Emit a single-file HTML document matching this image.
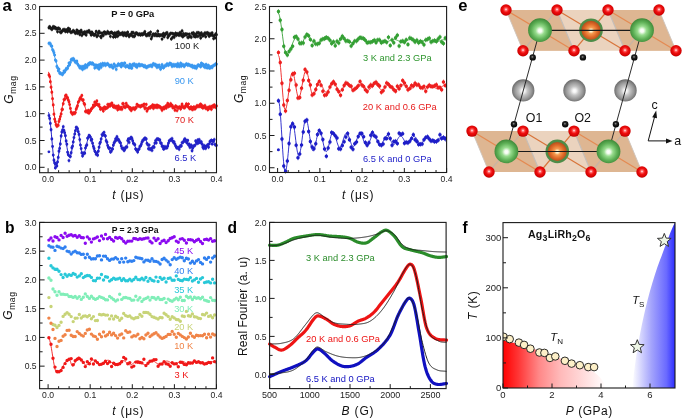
<!DOCTYPE html>
<html><head><meta charset="utf-8"><style>
html,body{margin:0;padding:0;background:#fff;}
svg{display:block;will-change:transform;}
text{font-family:'Liberation Sans',sans-serif;}
</style></head><body>
<svg width="685" height="418" viewBox="0 0 685 418" style="font-family:'Liberation Sans',sans-serif">
<rect width="685" height="418" fill="#fff"/>
<defs><radialGradient id="sO" cx="0.5" cy="0.45" r="0.58"><stop offset="0" stop-color="#ffffff"/><stop offset="0.2" stop-color="#ff6060"/><stop offset="0.45" stop-color="#f01010"/><stop offset="0.85" stop-color="#d00000"/><stop offset="1" stop-color="#980000"/></radialGradient><radialGradient id="sG" cx="0.5" cy="0.52" r="0.52"><stop offset="0" stop-color="#ffffff"/><stop offset="0.14" stop-color="#f4fcf0"/><stop offset="0.36" stop-color="#98dc8e"/><stop offset="0.7" stop-color="#5eb056"/><stop offset="1" stop-color="#3e8838"/></radialGradient><radialGradient id="sR" cx="0.5" cy="0.52" r="0.52"><stop offset="0" stop-color="#ffffff"/><stop offset="0.12" stop-color="#fff2c8"/><stop offset="0.32" stop-color="#f59a50"/><stop offset="0.65" stop-color="#e06c2a"/><stop offset="1" stop-color="#b44c1a"/></radialGradient><radialGradient id="sA" cx="0.5" cy="0.52" r="0.52"><stop offset="0" stop-color="#ffffff"/><stop offset="0.14" stop-color="#f6f6f6"/><stop offset="0.38" stop-color="#c4c4c4"/><stop offset="0.72" stop-color="#979797"/><stop offset="1" stop-color="#686868"/></radialGradient><radialGradient id="sK" cx="0.45" cy="0.42" r="0.6"><stop offset="0" stop-color="#999"/><stop offset="0.35" stop-color="#222"/><stop offset="1" stop-color="#000"/></radialGradient></defs>
<polygon points="506,10 659,10 676,50.7 523,50.7" fill="#ebd3be"/>
<polygon points="506,10 557,10 574,50.7 523,50.7" fill="#deb692"/>
<polygon points="608,10 659,10 676,50.7 625,50.7" fill="#deb692"/>
<line x1="557" y1="10" x2="574" y2="50.7" stroke="#c4beba" stroke-width="1.1"/>
<line x1="608" y1="10" x2="625" y2="50.7" stroke="#c4beba" stroke-width="1.1"/>
<line x1="506" y1="10" x2="574" y2="50.7" stroke="#e48a52" stroke-width="1.2"/>
<line x1="557" y1="10" x2="523" y2="50.7" stroke="#c8b4a4" stroke-width="1.2"/>
<line x1="557" y1="10" x2="625" y2="50.7" stroke="#d8743a" stroke-width="1.2"/>
<line x1="608" y1="10" x2="574" y2="50.7" stroke="#d8743a" stroke-width="1.2"/>
<line x1="608" y1="10" x2="676" y2="50.7" stroke="#e48a52" stroke-width="1.2"/>
<line x1="659" y1="10" x2="625" y2="50.7" stroke="#c8b4a4" stroke-width="1.2"/>
<line x1="506" y1="10" x2="523" y2="50.7" stroke="#cfc6bf" stroke-width="0.9"/>
<line x1="659" y1="10" x2="676" y2="50.7" stroke="#cfc6bf" stroke-width="0.9"/>
<polygon points="472,131.1 625,131.1 642,172 489,172" fill="#ebd3be"/>
<polygon points="472,131.1 523,131.1 540,172 489,172" fill="#deb692"/>
<polygon points="574,131.1 625,131.1 642,172 591,172" fill="#deb692"/>
<line x1="523" y1="131.1" x2="540" y2="172" stroke="#c4beba" stroke-width="1.1"/>
<line x1="574" y1="131.1" x2="591" y2="172" stroke="#c4beba" stroke-width="1.1"/>
<line x1="472" y1="131.1" x2="540" y2="172" stroke="#e48a52" stroke-width="1.2"/>
<line x1="523" y1="131.1" x2="489" y2="172" stroke="#c8b4a4" stroke-width="1.2"/>
<line x1="523" y1="131.1" x2="591" y2="172" stroke="#d8743a" stroke-width="1.2"/>
<line x1="574" y1="131.1" x2="540" y2="172" stroke="#d8743a" stroke-width="1.2"/>
<line x1="574" y1="131.1" x2="642" y2="172" stroke="#e48a52" stroke-width="1.2"/>
<line x1="625" y1="131.1" x2="591" y2="172" stroke="#c8b4a4" stroke-width="1.2"/>
<line x1="472" y1="131.1" x2="489" y2="172" stroke="#cfc6bf" stroke-width="0.9"/>
<line x1="625" y1="131.1" x2="642" y2="172" stroke="#cfc6bf" stroke-width="0.9"/>
<circle cx="591" cy="30.2" r="11.8" fill="#4e8c48"/>
<circle cx="591" cy="30.2" r="9.5" fill="url(#sR)"/>
<circle cx="557.3" cy="151.4" r="11.8" fill="#4e8c48"/>
<circle cx="557.3" cy="151.4" r="9.5" fill="url(#sR)"/>
<line x1="540" y1="30.4" x2="642" y2="30.4" stroke="#1a1a1a" stroke-width="1.2"/>
<line x1="506.4" y1="151.5" x2="608.5" y2="151.5" stroke="#1a1a1a" stroke-width="1.2"/>
<circle cx="523.2" cy="90.4" r="11.2" fill="url(#sA)"/>
<circle cx="574.5" cy="90.4" r="11.2" fill="url(#sA)"/>
<circle cx="625.5" cy="90.4" r="11.2" fill="url(#sA)"/>
<line x1="540" y1="30.2" x2="506.4" y2="151.4" stroke="#222" stroke-width="0.95"/>
<line x1="642" y1="30.2" x2="608.5" y2="151.4" stroke="#222" stroke-width="0.95"/>
<circle cx="532.7" cy="57.4" r="3.2" fill="url(#sK)"/>
<circle cx="582.9" cy="57.4" r="3.2" fill="url(#sK)"/>
<circle cx="634.3" cy="57.4" r="3.2" fill="url(#sK)"/>
<circle cx="514" cy="124.2" r="3.2" fill="url(#sK)"/>
<circle cx="565.2" cy="124.2" r="3.2" fill="url(#sK)"/>
<circle cx="615.9" cy="124.2" r="3.2" fill="url(#sK)"/>
<circle cx="540" cy="30.2" r="11.9" fill="url(#sG)"/>
<circle cx="642" cy="30.2" r="11.9" fill="url(#sG)"/>
<circle cx="506.4" cy="151.4" r="11.9" fill="url(#sG)"/>
<circle cx="608.5" cy="151.4" r="11.9" fill="url(#sG)"/>
<circle cx="506" cy="10" r="5.7" fill="url(#sO)"/>
<circle cx="557" cy="10" r="5.7" fill="url(#sO)"/>
<circle cx="608" cy="10" r="5.7" fill="url(#sO)"/>
<circle cx="659" cy="10" r="5.7" fill="url(#sO)"/>
<circle cx="523" cy="50.7" r="5.7" fill="url(#sO)"/>
<circle cx="574" cy="50.7" r="5.7" fill="url(#sO)"/>
<circle cx="625" cy="50.7" r="5.7" fill="url(#sO)"/>
<circle cx="676" cy="50.7" r="5.7" fill="url(#sO)"/>
<circle cx="472" cy="131.1" r="5.7" fill="url(#sO)"/>
<circle cx="523" cy="131.1" r="5.7" fill="url(#sO)"/>
<circle cx="574" cy="131.1" r="5.7" fill="url(#sO)"/>
<circle cx="625" cy="131.1" r="5.7" fill="url(#sO)"/>
<circle cx="489" cy="172" r="5.7" fill="url(#sO)"/>
<circle cx="540" cy="172" r="5.7" fill="url(#sO)"/>
<circle cx="591" cy="172" r="5.7" fill="url(#sO)"/>
<circle cx="642" cy="172" r="5.7" fill="url(#sO)"/>
<text x="525.8" y="121.8" font-size="12.4" fill="#111">O1</text>
<text x="574.4" y="121.8" font-size="12.4" fill="#111">O2</text>
<line x1="648.2" y1="140.9" x2="654.8" y2="116" stroke="#111" stroke-width="1"/>
<polygon points="656.2,110.5 652.2,117.2 657,118.3" fill="#111"/>
<line x1="648.2" y1="140.9" x2="667" y2="140.9" stroke="#111" stroke-width="1"/>
<polygon points="672.5,140.9 666,138.4 666,143.4" fill="#111"/>
<text x="654.6" y="108.5" font-size="12.4" text-anchor="middle" fill="#111">c</text>
<text x="677.6" y="145" font-size="12.4" text-anchor="middle" fill="#111">a</text>
<text x="458.3" y="10.7" font-size="16.6" font-weight="bold" fill="#000">e</text>
<path d="M47.5,27.7a1.45,1.45 0 1,0 2.9,0a1.45,1.45 0 1,0 -2.9,0M48.2,26.8a1.45,1.45 0 1,0 2.9,0a1.45,1.45 0 1,0 -2.9,0M48.9,28.0a1.45,1.45 0 1,0 2.9,0a1.45,1.45 0 1,0 -2.9,0M49.6,28.3a1.45,1.45 0 1,0 2.9,0a1.45,1.45 0 1,0 -2.9,0M50.4,29.4a1.45,1.45 0 1,0 2.9,0a1.45,1.45 0 1,0 -2.9,0M51.1,28.5a1.45,1.45 0 1,0 2.9,0a1.45,1.45 0 1,0 -2.9,0M51.8,26.7a1.45,1.45 0 1,0 2.9,0a1.45,1.45 0 1,0 -2.9,0M52.5,27.9a1.45,1.45 0 1,0 2.9,0a1.45,1.45 0 1,0 -2.9,0M53.2,27.1a1.45,1.45 0 1,0 2.9,0a1.45,1.45 0 1,0 -2.9,0M53.9,28.4a1.45,1.45 0 1,0 2.9,0a1.45,1.45 0 1,0 -2.9,0M54.6,28.3a1.45,1.45 0 1,0 2.9,0a1.45,1.45 0 1,0 -2.9,0M55.4,28.8a1.45,1.45 0 1,0 2.9,0a1.45,1.45 0 1,0 -2.9,0M56.1,31.7a1.45,1.45 0 1,0 2.9,0a1.45,1.45 0 1,0 -2.9,0M56.8,28.1a1.45,1.45 0 1,0 2.9,0a1.45,1.45 0 1,0 -2.9,0M57.5,28.7a1.45,1.45 0 1,0 2.9,0a1.45,1.45 0 1,0 -2.9,0M58.2,28.9a1.45,1.45 0 1,0 2.9,0a1.45,1.45 0 1,0 -2.9,0M58.9,32.3a1.45,1.45 0 1,0 2.9,0a1.45,1.45 0 1,0 -2.9,0M59.7,32.5a1.45,1.45 0 1,0 2.9,0a1.45,1.45 0 1,0 -2.9,0M60.4,31.3a1.45,1.45 0 1,0 2.9,0a1.45,1.45 0 1,0 -2.9,0M61.1,30.8a1.45,1.45 0 1,0 2.9,0a1.45,1.45 0 1,0 -2.9,0M61.8,29.7a1.45,1.45 0 1,0 2.9,0a1.45,1.45 0 1,0 -2.9,0M62.5,30.4a1.45,1.45 0 1,0 2.9,0a1.45,1.45 0 1,0 -2.9,0M63.2,29.6a1.45,1.45 0 1,0 2.9,0a1.45,1.45 0 1,0 -2.9,0M64.0,31.5a1.45,1.45 0 1,0 2.9,0a1.45,1.45 0 1,0 -2.9,0M64.7,30.2a1.45,1.45 0 1,0 2.9,0a1.45,1.45 0 1,0 -2.9,0M65.4,30.1a1.45,1.45 0 1,0 2.9,0a1.45,1.45 0 1,0 -2.9,0M66.1,31.8a1.45,1.45 0 1,0 2.9,0a1.45,1.45 0 1,0 -2.9,0M66.8,28.4a1.45,1.45 0 1,0 2.9,0a1.45,1.45 0 1,0 -2.9,0M67.5,30.2a1.45,1.45 0 1,0 2.9,0a1.45,1.45 0 1,0 -2.9,0M68.2,29.3a1.45,1.45 0 1,0 2.9,0a1.45,1.45 0 1,0 -2.9,0M69.0,32.1a1.45,1.45 0 1,0 2.9,0a1.45,1.45 0 1,0 -2.9,0M69.7,32.4a1.45,1.45 0 1,0 2.9,0a1.45,1.45 0 1,0 -2.9,0M70.4,31.9a1.45,1.45 0 1,0 2.9,0a1.45,1.45 0 1,0 -2.9,0M71.1,31.6a1.45,1.45 0 1,0 2.9,0a1.45,1.45 0 1,0 -2.9,0M71.8,30.6a1.45,1.45 0 1,0 2.9,0a1.45,1.45 0 1,0 -2.9,0M72.5,31.3a1.45,1.45 0 1,0 2.9,0a1.45,1.45 0 1,0 -2.9,0M73.3,32.4a1.45,1.45 0 1,0 2.9,0a1.45,1.45 0 1,0 -2.9,0M74.0,33.2a1.45,1.45 0 1,0 2.9,0a1.45,1.45 0 1,0 -2.9,0M74.7,32.6a1.45,1.45 0 1,0 2.9,0a1.45,1.45 0 1,0 -2.9,0M75.4,30.1a1.45,1.45 0 1,0 2.9,0a1.45,1.45 0 1,0 -2.9,0M76.1,33.2a1.45,1.45 0 1,0 2.9,0a1.45,1.45 0 1,0 -2.9,0M76.8,31.7a1.45,1.45 0 1,0 2.9,0a1.45,1.45 0 1,0 -2.9,0M77.6,31.5a1.45,1.45 0 1,0 2.9,0a1.45,1.45 0 1,0 -2.9,0M78.3,34.5a1.45,1.45 0 1,0 2.9,0a1.45,1.45 0 1,0 -2.9,0M79.0,32.2a1.45,1.45 0 1,0 2.9,0a1.45,1.45 0 1,0 -2.9,0M79.7,30.4a1.45,1.45 0 1,0 2.9,0a1.45,1.45 0 1,0 -2.9,0M80.4,35.4a1.45,1.45 0 1,0 2.9,0a1.45,1.45 0 1,0 -2.9,0M81.1,33.0a1.45,1.45 0 1,0 2.9,0a1.45,1.45 0 1,0 -2.9,0M81.8,32.7a1.45,1.45 0 1,0 2.9,0a1.45,1.45 0 1,0 -2.9,0M82.6,33.8a1.45,1.45 0 1,0 2.9,0a1.45,1.45 0 1,0 -2.9,0M83.3,31.9a1.45,1.45 0 1,0 2.9,0a1.45,1.45 0 1,0 -2.9,0M84.0,32.8a1.45,1.45 0 1,0 2.9,0a1.45,1.45 0 1,0 -2.9,0M84.7,35.0a1.45,1.45 0 1,0 2.9,0a1.45,1.45 0 1,0 -2.9,0M85.4,31.6a1.45,1.45 0 1,0 2.9,0a1.45,1.45 0 1,0 -2.9,0M86.1,31.9a1.45,1.45 0 1,0 2.9,0a1.45,1.45 0 1,0 -2.9,0M86.9,31.5a1.45,1.45 0 1,0 2.9,0a1.45,1.45 0 1,0 -2.9,0M87.6,30.8a1.45,1.45 0 1,0 2.9,0a1.45,1.45 0 1,0 -2.9,0M88.3,32.5a1.45,1.45 0 1,0 2.9,0a1.45,1.45 0 1,0 -2.9,0M89.0,32.9a1.45,1.45 0 1,0 2.9,0a1.45,1.45 0 1,0 -2.9,0M89.7,35.1a1.45,1.45 0 1,0 2.9,0a1.45,1.45 0 1,0 -2.9,0M90.4,32.2a1.45,1.45 0 1,0 2.9,0a1.45,1.45 0 1,0 -2.9,0M91.1,34.1a1.45,1.45 0 1,0 2.9,0a1.45,1.45 0 1,0 -2.9,0M91.9,33.9a1.45,1.45 0 1,0 2.9,0a1.45,1.45 0 1,0 -2.9,0M92.6,35.2a1.45,1.45 0 1,0 2.9,0a1.45,1.45 0 1,0 -2.9,0M93.3,34.8a1.45,1.45 0 1,0 2.9,0a1.45,1.45 0 1,0 -2.9,0M94.0,34.2a1.45,1.45 0 1,0 2.9,0a1.45,1.45 0 1,0 -2.9,0M94.7,31.5a1.45,1.45 0 1,0 2.9,0a1.45,1.45 0 1,0 -2.9,0M95.4,36.5a1.45,1.45 0 1,0 2.9,0a1.45,1.45 0 1,0 -2.9,0M96.2,35.7a1.45,1.45 0 1,0 2.9,0a1.45,1.45 0 1,0 -2.9,0M96.9,33.2a1.45,1.45 0 1,0 2.9,0a1.45,1.45 0 1,0 -2.9,0M97.6,31.4a1.45,1.45 0 1,0 2.9,0a1.45,1.45 0 1,0 -2.9,0M98.3,32.7a1.45,1.45 0 1,0 2.9,0a1.45,1.45 0 1,0 -2.9,0M99.0,36.5a1.45,1.45 0 1,0 2.9,0a1.45,1.45 0 1,0 -2.9,0M99.7,37.5a1.45,1.45 0 1,0 2.9,0a1.45,1.45 0 1,0 -2.9,0M100.5,33.2a1.45,1.45 0 1,0 2.9,0a1.45,1.45 0 1,0 -2.9,0M101.2,34.9a1.45,1.45 0 1,0 2.9,0a1.45,1.45 0 1,0 -2.9,0M101.9,35.5a1.45,1.45 0 1,0 2.9,0a1.45,1.45 0 1,0 -2.9,0M102.6,32.3a1.45,1.45 0 1,0 2.9,0a1.45,1.45 0 1,0 -2.9,0M103.3,32.2a1.45,1.45 0 1,0 2.9,0a1.45,1.45 0 1,0 -2.9,0M104.0,33.6a1.45,1.45 0 1,0 2.9,0a1.45,1.45 0 1,0 -2.9,0M104.7,33.5a1.45,1.45 0 1,0 2.9,0a1.45,1.45 0 1,0 -2.9,0M105.5,33.3a1.45,1.45 0 1,0 2.9,0a1.45,1.45 0 1,0 -2.9,0M106.2,31.6a1.45,1.45 0 1,0 2.9,0a1.45,1.45 0 1,0 -2.9,0M106.9,33.1a1.45,1.45 0 1,0 2.9,0a1.45,1.45 0 1,0 -2.9,0M107.6,33.2a1.45,1.45 0 1,0 2.9,0a1.45,1.45 0 1,0 -2.9,0M108.3,33.2a1.45,1.45 0 1,0 2.9,0a1.45,1.45 0 1,0 -2.9,0M109.0,36.4a1.45,1.45 0 1,0 2.9,0a1.45,1.45 0 1,0 -2.9,0M109.8,32.2a1.45,1.45 0 1,0 2.9,0a1.45,1.45 0 1,0 -2.9,0M110.5,32.7a1.45,1.45 0 1,0 2.9,0a1.45,1.45 0 1,0 -2.9,0M111.2,33.3a1.45,1.45 0 1,0 2.9,0a1.45,1.45 0 1,0 -2.9,0M111.9,37.1a1.45,1.45 0 1,0 2.9,0a1.45,1.45 0 1,0 -2.9,0M112.6,35.1a1.45,1.45 0 1,0 2.9,0a1.45,1.45 0 1,0 -2.9,0M113.3,32.9a1.45,1.45 0 1,0 2.9,0a1.45,1.45 0 1,0 -2.9,0M114.1,36.9a1.45,1.45 0 1,0 2.9,0a1.45,1.45 0 1,0 -2.9,0M114.8,34.5a1.45,1.45 0 1,0 2.9,0a1.45,1.45 0 1,0 -2.9,0M115.5,32.7a1.45,1.45 0 1,0 2.9,0a1.45,1.45 0 1,0 -2.9,0M116.2,36.3a1.45,1.45 0 1,0 2.9,0a1.45,1.45 0 1,0 -2.9,0M116.9,31.9a1.45,1.45 0 1,0 2.9,0a1.45,1.45 0 1,0 -2.9,0M117.6,33.5a1.45,1.45 0 1,0 2.9,0a1.45,1.45 0 1,0 -2.9,0M118.3,34.6a1.45,1.45 0 1,0 2.9,0a1.45,1.45 0 1,0 -2.9,0M119.1,33.9a1.45,1.45 0 1,0 2.9,0a1.45,1.45 0 1,0 -2.9,0M119.8,33.4a1.45,1.45 0 1,0 2.9,0a1.45,1.45 0 1,0 -2.9,0M120.5,34.2a1.45,1.45 0 1,0 2.9,0a1.45,1.45 0 1,0 -2.9,0M121.2,32.7a1.45,1.45 0 1,0 2.9,0a1.45,1.45 0 1,0 -2.9,0M121.9,35.4a1.45,1.45 0 1,0 2.9,0a1.45,1.45 0 1,0 -2.9,0M122.6,35.1a1.45,1.45 0 1,0 2.9,0a1.45,1.45 0 1,0 -2.9,0M123.4,32.9a1.45,1.45 0 1,0 2.9,0a1.45,1.45 0 1,0 -2.9,0M124.1,34.4a1.45,1.45 0 1,0 2.9,0a1.45,1.45 0 1,0 -2.9,0M124.8,35.8a1.45,1.45 0 1,0 2.9,0a1.45,1.45 0 1,0 -2.9,0M125.5,33.1a1.45,1.45 0 1,0 2.9,0a1.45,1.45 0 1,0 -2.9,0M126.2,32.3a1.45,1.45 0 1,0 2.9,0a1.45,1.45 0 1,0 -2.9,0M126.9,35.2a1.45,1.45 0 1,0 2.9,0a1.45,1.45 0 1,0 -2.9,0M127.7,36.6a1.45,1.45 0 1,0 2.9,0a1.45,1.45 0 1,0 -2.9,0M128.4,34.8a1.45,1.45 0 1,0 2.9,0a1.45,1.45 0 1,0 -2.9,0M129.1,34.8a1.45,1.45 0 1,0 2.9,0a1.45,1.45 0 1,0 -2.9,0M129.8,35.0a1.45,1.45 0 1,0 2.9,0a1.45,1.45 0 1,0 -2.9,0M130.5,32.5a1.45,1.45 0 1,0 2.9,0a1.45,1.45 0 1,0 -2.9,0M131.2,36.2a1.45,1.45 0 1,0 2.9,0a1.45,1.45 0 1,0 -2.9,0M131.9,32.7a1.45,1.45 0 1,0 2.9,0a1.45,1.45 0 1,0 -2.9,0M132.7,36.6a1.45,1.45 0 1,0 2.9,0a1.45,1.45 0 1,0 -2.9,0M133.4,35.8a1.45,1.45 0 1,0 2.9,0a1.45,1.45 0 1,0 -2.9,0M134.1,33.7a1.45,1.45 0 1,0 2.9,0a1.45,1.45 0 1,0 -2.9,0M134.8,33.0a1.45,1.45 0 1,0 2.9,0a1.45,1.45 0 1,0 -2.9,0M135.5,33.4a1.45,1.45 0 1,0 2.9,0a1.45,1.45 0 1,0 -2.9,0M136.2,34.2a1.45,1.45 0 1,0 2.9,0a1.45,1.45 0 1,0 -2.9,0M137.0,34.5a1.45,1.45 0 1,0 2.9,0a1.45,1.45 0 1,0 -2.9,0M137.7,34.5a1.45,1.45 0 1,0 2.9,0a1.45,1.45 0 1,0 -2.9,0M138.4,33.9a1.45,1.45 0 1,0 2.9,0a1.45,1.45 0 1,0 -2.9,0M139.1,35.0a1.45,1.45 0 1,0 2.9,0a1.45,1.45 0 1,0 -2.9,0M139.8,34.3a1.45,1.45 0 1,0 2.9,0a1.45,1.45 0 1,0 -2.9,0M140.5,33.9a1.45,1.45 0 1,0 2.9,0a1.45,1.45 0 1,0 -2.9,0M141.2,34.8a1.45,1.45 0 1,0 2.9,0a1.45,1.45 0 1,0 -2.9,0M142.0,33.6a1.45,1.45 0 1,0 2.9,0a1.45,1.45 0 1,0 -2.9,0M142.7,33.9a1.45,1.45 0 1,0 2.9,0a1.45,1.45 0 1,0 -2.9,0M143.4,31.8a1.45,1.45 0 1,0 2.9,0a1.45,1.45 0 1,0 -2.9,0M144.1,34.3a1.45,1.45 0 1,0 2.9,0a1.45,1.45 0 1,0 -2.9,0M144.8,35.5a1.45,1.45 0 1,0 2.9,0a1.45,1.45 0 1,0 -2.9,0M145.5,35.4a1.45,1.45 0 1,0 2.9,0a1.45,1.45 0 1,0 -2.9,0M146.3,34.9a1.45,1.45 0 1,0 2.9,0a1.45,1.45 0 1,0 -2.9,0M147.0,33.5a1.45,1.45 0 1,0 2.9,0a1.45,1.45 0 1,0 -2.9,0M147.7,35.4a1.45,1.45 0 1,0 2.9,0a1.45,1.45 0 1,0 -2.9,0M148.4,34.3a1.45,1.45 0 1,0 2.9,0a1.45,1.45 0 1,0 -2.9,0M149.1,32.1a1.45,1.45 0 1,0 2.9,0a1.45,1.45 0 1,0 -2.9,0M149.8,38.7a1.45,1.45 0 1,0 2.9,0a1.45,1.45 0 1,0 -2.9,0M150.6,36.6a1.45,1.45 0 1,0 2.9,0a1.45,1.45 0 1,0 -2.9,0M151.3,34.5a1.45,1.45 0 1,0 2.9,0a1.45,1.45 0 1,0 -2.9,0M152.0,34.3a1.45,1.45 0 1,0 2.9,0a1.45,1.45 0 1,0 -2.9,0M152.7,34.5a1.45,1.45 0 1,0 2.9,0a1.45,1.45 0 1,0 -2.9,0M153.4,35.5a1.45,1.45 0 1,0 2.9,0a1.45,1.45 0 1,0 -2.9,0M154.1,33.9a1.45,1.45 0 1,0 2.9,0a1.45,1.45 0 1,0 -2.9,0M154.8,34.5a1.45,1.45 0 1,0 2.9,0a1.45,1.45 0 1,0 -2.9,0M155.6,35.7a1.45,1.45 0 1,0 2.9,0a1.45,1.45 0 1,0 -2.9,0M156.3,31.3a1.45,1.45 0 1,0 2.9,0a1.45,1.45 0 1,0 -2.9,0M157.0,34.4a1.45,1.45 0 1,0 2.9,0a1.45,1.45 0 1,0 -2.9,0M157.7,35.8a1.45,1.45 0 1,0 2.9,0a1.45,1.45 0 1,0 -2.9,0M158.4,35.1a1.45,1.45 0 1,0 2.9,0a1.45,1.45 0 1,0 -2.9,0M159.1,35.3a1.45,1.45 0 1,0 2.9,0a1.45,1.45 0 1,0 -2.9,0M159.9,35.0a1.45,1.45 0 1,0 2.9,0a1.45,1.45 0 1,0 -2.9,0M160.6,39.1a1.45,1.45 0 1,0 2.9,0a1.45,1.45 0 1,0 -2.9,0M161.3,35.7a1.45,1.45 0 1,0 2.9,0a1.45,1.45 0 1,0 -2.9,0M162.0,33.5a1.45,1.45 0 1,0 2.9,0a1.45,1.45 0 1,0 -2.9,0M162.7,36.7a1.45,1.45 0 1,0 2.9,0a1.45,1.45 0 1,0 -2.9,0M163.4,35.1a1.45,1.45 0 1,0 2.9,0a1.45,1.45 0 1,0 -2.9,0M164.2,33.6a1.45,1.45 0 1,0 2.9,0a1.45,1.45 0 1,0 -2.9,0M164.9,33.7a1.45,1.45 0 1,0 2.9,0a1.45,1.45 0 1,0 -2.9,0M165.6,32.8a1.45,1.45 0 1,0 2.9,0a1.45,1.45 0 1,0 -2.9,0M166.3,37.5a1.45,1.45 0 1,0 2.9,0a1.45,1.45 0 1,0 -2.9,0M167.0,35.5a1.45,1.45 0 1,0 2.9,0a1.45,1.45 0 1,0 -2.9,0M167.7,35.5a1.45,1.45 0 1,0 2.9,0a1.45,1.45 0 1,0 -2.9,0M168.4,34.1a1.45,1.45 0 1,0 2.9,0a1.45,1.45 0 1,0 -2.9,0M169.2,33.4a1.45,1.45 0 1,0 2.9,0a1.45,1.45 0 1,0 -2.9,0M169.9,39.0a1.45,1.45 0 1,0 2.9,0a1.45,1.45 0 1,0 -2.9,0M170.6,33.4a1.45,1.45 0 1,0 2.9,0a1.45,1.45 0 1,0 -2.9,0M171.3,37.2a1.45,1.45 0 1,0 2.9,0a1.45,1.45 0 1,0 -2.9,0M172.0,34.0a1.45,1.45 0 1,0 2.9,0a1.45,1.45 0 1,0 -2.9,0M172.7,37.3a1.45,1.45 0 1,0 2.9,0a1.45,1.45 0 1,0 -2.9,0M173.5,34.8a1.45,1.45 0 1,0 2.9,0a1.45,1.45 0 1,0 -2.9,0M174.2,33.2a1.45,1.45 0 1,0 2.9,0a1.45,1.45 0 1,0 -2.9,0M174.9,35.3a1.45,1.45 0 1,0 2.9,0a1.45,1.45 0 1,0 -2.9,0M175.6,34.8a1.45,1.45 0 1,0 2.9,0a1.45,1.45 0 1,0 -2.9,0M176.3,33.8a1.45,1.45 0 1,0 2.9,0a1.45,1.45 0 1,0 -2.9,0M177.0,34.8a1.45,1.45 0 1,0 2.9,0a1.45,1.45 0 1,0 -2.9,0M177.7,35.2a1.45,1.45 0 1,0 2.9,0a1.45,1.45 0 1,0 -2.9,0M178.5,32.8a1.45,1.45 0 1,0 2.9,0a1.45,1.45 0 1,0 -2.9,0M179.2,33.5a1.45,1.45 0 1,0 2.9,0a1.45,1.45 0 1,0 -2.9,0M179.9,35.5a1.45,1.45 0 1,0 2.9,0a1.45,1.45 0 1,0 -2.9,0M180.6,30.9a1.45,1.45 0 1,0 2.9,0a1.45,1.45 0 1,0 -2.9,0M181.3,36.8a1.45,1.45 0 1,0 2.9,0a1.45,1.45 0 1,0 -2.9,0M182.0,33.7a1.45,1.45 0 1,0 2.9,0a1.45,1.45 0 1,0 -2.9,0M182.8,35.5a1.45,1.45 0 1,0 2.9,0a1.45,1.45 0 1,0 -2.9,0M183.5,34.9a1.45,1.45 0 1,0 2.9,0a1.45,1.45 0 1,0 -2.9,0M184.2,34.0a1.45,1.45 0 1,0 2.9,0a1.45,1.45 0 1,0 -2.9,0M184.9,34.7a1.45,1.45 0 1,0 2.9,0a1.45,1.45 0 1,0 -2.9,0M185.6,34.1a1.45,1.45 0 1,0 2.9,0a1.45,1.45 0 1,0 -2.9,0M186.3,37.4a1.45,1.45 0 1,0 2.9,0a1.45,1.45 0 1,0 -2.9,0M187.1,37.3a1.45,1.45 0 1,0 2.9,0a1.45,1.45 0 1,0 -2.9,0M187.8,34.2a1.45,1.45 0 1,0 2.9,0a1.45,1.45 0 1,0 -2.9,0M188.5,36.5a1.45,1.45 0 1,0 2.9,0a1.45,1.45 0 1,0 -2.9,0M189.2,36.6a1.45,1.45 0 1,0 2.9,0a1.45,1.45 0 1,0 -2.9,0M189.9,37.3a1.45,1.45 0 1,0 2.9,0a1.45,1.45 0 1,0 -2.9,0M190.6,33.2a1.45,1.45 0 1,0 2.9,0a1.45,1.45 0 1,0 -2.9,0M191.3,34.0a1.45,1.45 0 1,0 2.9,0a1.45,1.45 0 1,0 -2.9,0M192.1,32.9a1.45,1.45 0 1,0 2.9,0a1.45,1.45 0 1,0 -2.9,0M192.8,36.5a1.45,1.45 0 1,0 2.9,0a1.45,1.45 0 1,0 -2.9,0M193.5,35.1a1.45,1.45 0 1,0 2.9,0a1.45,1.45 0 1,0 -2.9,0M194.2,36.8a1.45,1.45 0 1,0 2.9,0a1.45,1.45 0 1,0 -2.9,0M194.9,34.0a1.45,1.45 0 1,0 2.9,0a1.45,1.45 0 1,0 -2.9,0M195.6,32.7a1.45,1.45 0 1,0 2.9,0a1.45,1.45 0 1,0 -2.9,0M196.4,36.4a1.45,1.45 0 1,0 2.9,0a1.45,1.45 0 1,0 -2.9,0M197.1,32.8a1.45,1.45 0 1,0 2.9,0a1.45,1.45 0 1,0 -2.9,0M197.8,33.6a1.45,1.45 0 1,0 2.9,0a1.45,1.45 0 1,0 -2.9,0M198.5,35.4a1.45,1.45 0 1,0 2.9,0a1.45,1.45 0 1,0 -2.9,0M199.2,38.1a1.45,1.45 0 1,0 2.9,0a1.45,1.45 0 1,0 -2.9,0M199.9,33.0a1.45,1.45 0 1,0 2.9,0a1.45,1.45 0 1,0 -2.9,0M200.7,35.3a1.45,1.45 0 1,0 2.9,0a1.45,1.45 0 1,0 -2.9,0M201.4,36.0a1.45,1.45 0 1,0 2.9,0a1.45,1.45 0 1,0 -2.9,0M202.1,34.5a1.45,1.45 0 1,0 2.9,0a1.45,1.45 0 1,0 -2.9,0M202.8,34.5a1.45,1.45 0 1,0 2.9,0a1.45,1.45 0 1,0 -2.9,0M203.5,32.9a1.45,1.45 0 1,0 2.9,0a1.45,1.45 0 1,0 -2.9,0M204.2,36.7a1.45,1.45 0 1,0 2.9,0a1.45,1.45 0 1,0 -2.9,0M204.9,33.4a1.45,1.45 0 1,0 2.9,0a1.45,1.45 0 1,0 -2.9,0M205.7,32.9a1.45,1.45 0 1,0 2.9,0a1.45,1.45 0 1,0 -2.9,0M206.4,32.9a1.45,1.45 0 1,0 2.9,0a1.45,1.45 0 1,0 -2.9,0M207.1,35.4a1.45,1.45 0 1,0 2.9,0a1.45,1.45 0 1,0 -2.9,0M207.8,36.2a1.45,1.45 0 1,0 2.9,0a1.45,1.45 0 1,0 -2.9,0M208.5,33.6a1.45,1.45 0 1,0 2.9,0a1.45,1.45 0 1,0 -2.9,0M209.2,35.0a1.45,1.45 0 1,0 2.9,0a1.45,1.45 0 1,0 -2.9,0M210.0,34.9a1.45,1.45 0 1,0 2.9,0a1.45,1.45 0 1,0 -2.9,0M210.7,33.0a1.45,1.45 0 1,0 2.9,0a1.45,1.45 0 1,0 -2.9,0M211.4,35.5a1.45,1.45 0 1,0 2.9,0a1.45,1.45 0 1,0 -2.9,0M212.1,38.6a1.45,1.45 0 1,0 2.9,0a1.45,1.45 0 1,0 -2.9,0M212.8,35.7a1.45,1.45 0 1,0 2.9,0a1.45,1.45 0 1,0 -2.9,0M213.5,37.9a1.45,1.45 0 1,0 2.9,0a1.45,1.45 0 1,0 -2.9,0M214.3,33.9a1.45,1.45 0 1,0 2.9,0a1.45,1.45 0 1,0 -2.9,0M215.0,34.7a1.45,1.45 0 1,0 2.9,0a1.45,1.45 0 1,0 -2.9,0" fill="#1a1a1a" opacity="1"/>
<path d="M48.9,25.7v4.0M49.7,24.8v4.0M50.4,26.0v4.0M51.1,26.3v4.0M51.8,27.4v4.0M52.5,26.5v4.0M53.2,24.7v4.0M54.0,25.9v4.0M54.7,25.1v4.0M55.4,26.4v4.0M56.1,26.3v4.0M56.8,26.8v4.0M57.5,29.7v4.0M58.2,26.1v4.0M59.0,26.7v4.0M59.7,26.9v4.0M60.4,30.3v4.0M61.1,30.5v4.0M61.8,29.3v4.0M62.5,28.8v4.0M63.3,27.7v4.0M64.0,28.4v4.0M64.7,27.6v4.0M65.4,29.5v4.0M66.1,28.2v4.0M66.8,28.1v4.0M67.6,29.8v4.0M68.3,26.4v4.0M69.0,28.2v4.0M69.7,27.3v4.0M70.4,30.1v4.0M71.1,30.4v4.0M71.8,29.9v4.0M72.6,29.6v4.0M73.3,28.6v4.0M74.0,29.3v4.0M74.7,30.4v4.0M75.4,31.2v4.0M76.1,30.6v4.0M76.9,28.1v4.0M77.6,31.2v4.0M78.3,29.7v4.0M79.0,29.5v4.0M79.7,32.5v4.0M80.4,30.2v4.0M81.1,28.4v4.0M81.9,33.4v4.0M82.6,31.0v4.0M83.3,30.7v4.0M84.0,31.8v4.0M84.7,29.9v4.0M85.4,30.8v4.0M86.2,33.0v4.0M86.9,29.6v4.0M87.6,29.9v4.0M88.3,29.5v4.0M89.0,28.8v4.0M89.7,30.5v4.0M90.5,30.9v4.0M91.2,33.1v4.0M91.9,30.2v4.0M92.6,32.1v4.0M93.3,31.9v4.0M94.0,33.2v4.0M94.7,32.8v4.0M95.5,32.2v4.0M96.2,29.5v4.0M96.9,34.5v4.0M97.6,33.7v4.0M98.3,31.2v4.0M99.0,29.4v4.0M99.8,30.7v4.0M100.5,34.5v4.0M101.2,35.5v4.0M101.9,31.2v4.0M102.6,32.9v4.0M103.3,33.5v4.0M104.1,30.3v4.0M104.8,30.2v4.0M105.5,31.6v4.0M106.2,31.5v4.0M106.9,31.3v4.0M107.6,29.6v4.0M108.3,31.1v4.0M109.1,31.2v4.0M109.8,31.2v4.0M110.5,34.4v4.0M111.2,30.2v4.0M111.9,30.7v4.0M112.6,31.3v4.0M113.4,35.1v4.0M114.1,33.1v4.0M114.8,30.9v4.0M115.5,34.9v4.0M116.2,32.5v4.0M116.9,30.7v4.0M117.6,34.3v4.0M118.4,29.9v4.0M119.1,31.5v4.0M119.8,32.6v4.0M120.5,31.9v4.0M121.2,31.4v4.0M121.9,32.2v4.0M122.7,30.7v4.0M123.4,33.4v4.0M124.1,33.1v4.0M124.8,30.9v4.0M125.5,32.4v4.0M126.2,33.8v4.0M127.0,31.1v4.0M127.7,30.3v4.0M128.4,33.2v4.0M129.1,34.6v4.0M129.8,32.8v4.0M130.5,32.8v4.0M131.2,33.0v4.0M132.0,30.5v4.0M132.7,34.2v4.0M133.4,30.7v4.0M134.1,34.6v4.0M134.8,33.8v4.0M135.5,31.7v4.0M136.3,31.0v4.0M137.0,31.4v4.0M137.7,32.2v4.0M138.4,32.5v4.0M139.1,32.5v4.0M139.8,31.9v4.0M140.6,33.0v4.0M141.3,32.3v4.0M142.0,31.9v4.0M142.7,32.8v4.0M143.4,31.6v4.0M144.1,31.9v4.0M144.8,29.8v4.0M145.6,32.3v4.0M146.3,33.5v4.0M147.0,33.4v4.0M147.7,32.9v4.0M148.4,31.5v4.0M149.1,33.4v4.0M149.9,32.3v4.0M150.6,30.1v4.0M151.3,36.7v4.0M152.0,34.6v4.0M152.7,32.5v4.0M153.4,32.3v4.0M154.1,32.5v4.0M154.9,33.5v4.0M155.6,31.9v4.0M156.3,32.5v4.0M157.0,33.7v4.0M157.7,29.3v4.0M158.4,32.4v4.0M159.2,33.8v4.0M159.9,33.1v4.0M160.6,33.3v4.0M161.3,33.0v4.0M162.0,37.1v4.0M162.7,33.7v4.0M163.5,31.5v4.0M164.2,34.7v4.0M164.9,33.1v4.0M165.6,31.6v4.0M166.3,31.7v4.0M167.0,30.8v4.0M167.7,35.5v4.0M168.5,33.5v4.0M169.2,33.5v4.0M169.9,32.1v4.0M170.6,31.4v4.0M171.3,37.0v4.0M172.0,31.4v4.0M172.8,35.2v4.0M173.5,32.0v4.0M174.2,35.3v4.0M174.9,32.8v4.0M175.6,31.2v4.0M176.3,33.3v4.0M177.1,32.8v4.0M177.8,31.8v4.0M178.5,32.8v4.0M179.2,33.2v4.0M179.9,30.8v4.0M180.6,31.5v4.0M181.3,33.5v4.0M182.1,28.9v4.0M182.8,34.8v4.0M183.5,31.7v4.0M184.2,33.5v4.0M184.9,32.9v4.0M185.6,32.0v4.0M186.4,32.7v4.0M187.1,32.1v4.0M187.8,35.4v4.0M188.5,35.3v4.0M189.2,32.2v4.0M189.9,34.5v4.0M190.7,34.6v4.0M191.4,35.3v4.0M192.1,31.2v4.0M192.8,32.0v4.0M193.5,30.9v4.0M194.2,34.5v4.0M194.9,33.1v4.0M195.7,34.8v4.0M196.4,32.0v4.0M197.1,30.7v4.0M197.8,34.4v4.0M198.5,30.8v4.0M199.2,31.6v4.0M200.0,33.4v4.0M200.7,36.1v4.0M201.4,31.0v4.0M202.1,33.3v4.0M202.8,34.0v4.0M203.5,32.5v4.0M204.2,32.5v4.0M205.0,30.9v4.0M205.7,34.7v4.0M206.4,31.4v4.0M207.1,30.9v4.0M207.8,30.9v4.0M208.5,33.4v4.0M209.3,34.2v4.0M210.0,31.6v4.0M210.7,33.0v4.0M211.4,32.9v4.0M212.1,31.0v4.0M212.8,33.5v4.0M213.6,36.6v4.0M214.3,33.7v4.0M215.0,35.9v4.0M215.7,31.9v4.0M216.4,32.7v4.0" stroke="#1a1a1a" stroke-width="0.6" fill="none"/>
<path d="M47.5,43.4a1.45,1.45 0 1,0 2.9,0a1.45,1.45 0 1,0 -2.9,0M48.2,43.4a1.45,1.45 0 1,0 2.9,0a1.45,1.45 0 1,0 -2.9,0M48.9,43.6a1.45,1.45 0 1,0 2.9,0a1.45,1.45 0 1,0 -2.9,0M49.6,45.8a1.45,1.45 0 1,0 2.9,0a1.45,1.45 0 1,0 -2.9,0M50.4,46.2a1.45,1.45 0 1,0 2.9,0a1.45,1.45 0 1,0 -2.9,0M51.1,49.7a1.45,1.45 0 1,0 2.9,0a1.45,1.45 0 1,0 -2.9,0M51.8,50.8a1.45,1.45 0 1,0 2.9,0a1.45,1.45 0 1,0 -2.9,0M52.5,52.8a1.45,1.45 0 1,0 2.9,0a1.45,1.45 0 1,0 -2.9,0M53.2,55.1a1.45,1.45 0 1,0 2.9,0a1.45,1.45 0 1,0 -2.9,0M53.9,60.1a1.45,1.45 0 1,0 2.9,0a1.45,1.45 0 1,0 -2.9,0M54.6,61.0a1.45,1.45 0 1,0 2.9,0a1.45,1.45 0 1,0 -2.9,0M55.4,66.4a1.45,1.45 0 1,0 2.9,0a1.45,1.45 0 1,0 -2.9,0M56.1,67.8a1.45,1.45 0 1,0 2.9,0a1.45,1.45 0 1,0 -2.9,0M56.8,70.8a1.45,1.45 0 1,0 2.9,0a1.45,1.45 0 1,0 -2.9,0M57.5,69.3a1.45,1.45 0 1,0 2.9,0a1.45,1.45 0 1,0 -2.9,0M58.2,73.2a1.45,1.45 0 1,0 2.9,0a1.45,1.45 0 1,0 -2.9,0M58.9,73.0a1.45,1.45 0 1,0 2.9,0a1.45,1.45 0 1,0 -2.9,0M59.7,73.9a1.45,1.45 0 1,0 2.9,0a1.45,1.45 0 1,0 -2.9,0M60.4,74.1a1.45,1.45 0 1,0 2.9,0a1.45,1.45 0 1,0 -2.9,0M61.1,74.6a1.45,1.45 0 1,0 2.9,0a1.45,1.45 0 1,0 -2.9,0M61.8,73.3a1.45,1.45 0 1,0 2.9,0a1.45,1.45 0 1,0 -2.9,0M62.5,71.1a1.45,1.45 0 1,0 2.9,0a1.45,1.45 0 1,0 -2.9,0M63.2,72.1a1.45,1.45 0 1,0 2.9,0a1.45,1.45 0 1,0 -2.9,0M64.0,70.5a1.45,1.45 0 1,0 2.9,0a1.45,1.45 0 1,0 -2.9,0M64.7,68.7a1.45,1.45 0 1,0 2.9,0a1.45,1.45 0 1,0 -2.9,0M65.4,68.7a1.45,1.45 0 1,0 2.9,0a1.45,1.45 0 1,0 -2.9,0M66.1,68.4a1.45,1.45 0 1,0 2.9,0a1.45,1.45 0 1,0 -2.9,0M66.8,66.2a1.45,1.45 0 1,0 2.9,0a1.45,1.45 0 1,0 -2.9,0M67.5,63.1a1.45,1.45 0 1,0 2.9,0a1.45,1.45 0 1,0 -2.9,0M68.2,64.7a1.45,1.45 0 1,0 2.9,0a1.45,1.45 0 1,0 -2.9,0M69.0,62.5a1.45,1.45 0 1,0 2.9,0a1.45,1.45 0 1,0 -2.9,0M69.7,59.8a1.45,1.45 0 1,0 2.9,0a1.45,1.45 0 1,0 -2.9,0M70.4,59.3a1.45,1.45 0 1,0 2.9,0a1.45,1.45 0 1,0 -2.9,0M71.1,59.7a1.45,1.45 0 1,0 2.9,0a1.45,1.45 0 1,0 -2.9,0M71.8,58.7a1.45,1.45 0 1,0 2.9,0a1.45,1.45 0 1,0 -2.9,0M72.5,59.5a1.45,1.45 0 1,0 2.9,0a1.45,1.45 0 1,0 -2.9,0M73.3,61.3a1.45,1.45 0 1,0 2.9,0a1.45,1.45 0 1,0 -2.9,0M74.0,62.3a1.45,1.45 0 1,0 2.9,0a1.45,1.45 0 1,0 -2.9,0M74.7,62.1a1.45,1.45 0 1,0 2.9,0a1.45,1.45 0 1,0 -2.9,0M75.4,61.3a1.45,1.45 0 1,0 2.9,0a1.45,1.45 0 1,0 -2.9,0M76.1,63.9a1.45,1.45 0 1,0 2.9,0a1.45,1.45 0 1,0 -2.9,0M76.8,65.3a1.45,1.45 0 1,0 2.9,0a1.45,1.45 0 1,0 -2.9,0M77.6,66.1a1.45,1.45 0 1,0 2.9,0a1.45,1.45 0 1,0 -2.9,0M78.3,67.7a1.45,1.45 0 1,0 2.9,0a1.45,1.45 0 1,0 -2.9,0M79.0,66.7a1.45,1.45 0 1,0 2.9,0a1.45,1.45 0 1,0 -2.9,0M79.7,68.2a1.45,1.45 0 1,0 2.9,0a1.45,1.45 0 1,0 -2.9,0M80.4,66.7a1.45,1.45 0 1,0 2.9,0a1.45,1.45 0 1,0 -2.9,0M81.1,69.5a1.45,1.45 0 1,0 2.9,0a1.45,1.45 0 1,0 -2.9,0M81.8,66.5a1.45,1.45 0 1,0 2.9,0a1.45,1.45 0 1,0 -2.9,0M82.6,67.2a1.45,1.45 0 1,0 2.9,0a1.45,1.45 0 1,0 -2.9,0M83.3,68.3a1.45,1.45 0 1,0 2.9,0a1.45,1.45 0 1,0 -2.9,0M84.0,65.0a1.45,1.45 0 1,0 2.9,0a1.45,1.45 0 1,0 -2.9,0M84.7,65.7a1.45,1.45 0 1,0 2.9,0a1.45,1.45 0 1,0 -2.9,0M85.4,67.3a1.45,1.45 0 1,0 2.9,0a1.45,1.45 0 1,0 -2.9,0M86.1,65.5a1.45,1.45 0 1,0 2.9,0a1.45,1.45 0 1,0 -2.9,0M86.9,63.9a1.45,1.45 0 1,0 2.9,0a1.45,1.45 0 1,0 -2.9,0M87.6,64.5a1.45,1.45 0 1,0 2.9,0a1.45,1.45 0 1,0 -2.9,0M88.3,63.0a1.45,1.45 0 1,0 2.9,0a1.45,1.45 0 1,0 -2.9,0M89.0,63.1a1.45,1.45 0 1,0 2.9,0a1.45,1.45 0 1,0 -2.9,0M89.7,63.3a1.45,1.45 0 1,0 2.9,0a1.45,1.45 0 1,0 -2.9,0M90.4,63.9a1.45,1.45 0 1,0 2.9,0a1.45,1.45 0 1,0 -2.9,0M91.1,63.1a1.45,1.45 0 1,0 2.9,0a1.45,1.45 0 1,0 -2.9,0M91.9,64.3a1.45,1.45 0 1,0 2.9,0a1.45,1.45 0 1,0 -2.9,0M92.6,64.9a1.45,1.45 0 1,0 2.9,0a1.45,1.45 0 1,0 -2.9,0M93.3,68.1a1.45,1.45 0 1,0 2.9,0a1.45,1.45 0 1,0 -2.9,0M94.0,65.4a1.45,1.45 0 1,0 2.9,0a1.45,1.45 0 1,0 -2.9,0M94.7,65.3a1.45,1.45 0 1,0 2.9,0a1.45,1.45 0 1,0 -2.9,0M95.4,67.3a1.45,1.45 0 1,0 2.9,0a1.45,1.45 0 1,0 -2.9,0M96.2,67.7a1.45,1.45 0 1,0 2.9,0a1.45,1.45 0 1,0 -2.9,0M96.9,65.1a1.45,1.45 0 1,0 2.9,0a1.45,1.45 0 1,0 -2.9,0M97.6,69.0a1.45,1.45 0 1,0 2.9,0a1.45,1.45 0 1,0 -2.9,0M98.3,66.4a1.45,1.45 0 1,0 2.9,0a1.45,1.45 0 1,0 -2.9,0M99.0,64.1a1.45,1.45 0 1,0 2.9,0a1.45,1.45 0 1,0 -2.9,0M99.7,67.3a1.45,1.45 0 1,0 2.9,0a1.45,1.45 0 1,0 -2.9,0M100.5,65.2a1.45,1.45 0 1,0 2.9,0a1.45,1.45 0 1,0 -2.9,0M101.2,63.5a1.45,1.45 0 1,0 2.9,0a1.45,1.45 0 1,0 -2.9,0M101.9,65.3a1.45,1.45 0 1,0 2.9,0a1.45,1.45 0 1,0 -2.9,0M102.6,64.2a1.45,1.45 0 1,0 2.9,0a1.45,1.45 0 1,0 -2.9,0M103.3,63.6a1.45,1.45 0 1,0 2.9,0a1.45,1.45 0 1,0 -2.9,0M104.0,65.4a1.45,1.45 0 1,0 2.9,0a1.45,1.45 0 1,0 -2.9,0M104.7,64.5a1.45,1.45 0 1,0 2.9,0a1.45,1.45 0 1,0 -2.9,0M105.5,64.1a1.45,1.45 0 1,0 2.9,0a1.45,1.45 0 1,0 -2.9,0M106.2,63.7a1.45,1.45 0 1,0 2.9,0a1.45,1.45 0 1,0 -2.9,0M106.9,64.8a1.45,1.45 0 1,0 2.9,0a1.45,1.45 0 1,0 -2.9,0M107.6,65.3a1.45,1.45 0 1,0 2.9,0a1.45,1.45 0 1,0 -2.9,0M108.3,66.5a1.45,1.45 0 1,0 2.9,0a1.45,1.45 0 1,0 -2.9,0M109.0,66.2a1.45,1.45 0 1,0 2.9,0a1.45,1.45 0 1,0 -2.9,0M109.8,65.2a1.45,1.45 0 1,0 2.9,0a1.45,1.45 0 1,0 -2.9,0M110.5,66.4a1.45,1.45 0 1,0 2.9,0a1.45,1.45 0 1,0 -2.9,0M111.2,67.7a1.45,1.45 0 1,0 2.9,0a1.45,1.45 0 1,0 -2.9,0M111.9,67.8a1.45,1.45 0 1,0 2.9,0a1.45,1.45 0 1,0 -2.9,0M112.6,64.1a1.45,1.45 0 1,0 2.9,0a1.45,1.45 0 1,0 -2.9,0M113.3,65.7a1.45,1.45 0 1,0 2.9,0a1.45,1.45 0 1,0 -2.9,0M114.1,66.1a1.45,1.45 0 1,0 2.9,0a1.45,1.45 0 1,0 -2.9,0M114.8,69.4a1.45,1.45 0 1,0 2.9,0a1.45,1.45 0 1,0 -2.9,0M115.5,65.7a1.45,1.45 0 1,0 2.9,0a1.45,1.45 0 1,0 -2.9,0M116.2,65.5a1.45,1.45 0 1,0 2.9,0a1.45,1.45 0 1,0 -2.9,0M116.9,63.9a1.45,1.45 0 1,0 2.9,0a1.45,1.45 0 1,0 -2.9,0M117.6,64.9a1.45,1.45 0 1,0 2.9,0a1.45,1.45 0 1,0 -2.9,0M118.3,65.1a1.45,1.45 0 1,0 2.9,0a1.45,1.45 0 1,0 -2.9,0M119.1,64.3a1.45,1.45 0 1,0 2.9,0a1.45,1.45 0 1,0 -2.9,0M119.8,66.7a1.45,1.45 0 1,0 2.9,0a1.45,1.45 0 1,0 -2.9,0M120.5,63.5a1.45,1.45 0 1,0 2.9,0a1.45,1.45 0 1,0 -2.9,0M121.2,64.2a1.45,1.45 0 1,0 2.9,0a1.45,1.45 0 1,0 -2.9,0M121.9,65.4a1.45,1.45 0 1,0 2.9,0a1.45,1.45 0 1,0 -2.9,0M122.6,63.4a1.45,1.45 0 1,0 2.9,0a1.45,1.45 0 1,0 -2.9,0M123.4,63.2a1.45,1.45 0 1,0 2.9,0a1.45,1.45 0 1,0 -2.9,0M124.1,66.9a1.45,1.45 0 1,0 2.9,0a1.45,1.45 0 1,0 -2.9,0M124.8,66.4a1.45,1.45 0 1,0 2.9,0a1.45,1.45 0 1,0 -2.9,0M125.5,65.7a1.45,1.45 0 1,0 2.9,0a1.45,1.45 0 1,0 -2.9,0M126.2,66.1a1.45,1.45 0 1,0 2.9,0a1.45,1.45 0 1,0 -2.9,0M126.9,66.9a1.45,1.45 0 1,0 2.9,0a1.45,1.45 0 1,0 -2.9,0M127.7,67.7a1.45,1.45 0 1,0 2.9,0a1.45,1.45 0 1,0 -2.9,0M128.4,64.5a1.45,1.45 0 1,0 2.9,0a1.45,1.45 0 1,0 -2.9,0M129.1,65.7a1.45,1.45 0 1,0 2.9,0a1.45,1.45 0 1,0 -2.9,0M129.8,68.0a1.45,1.45 0 1,0 2.9,0a1.45,1.45 0 1,0 -2.9,0M130.5,68.0a1.45,1.45 0 1,0 2.9,0a1.45,1.45 0 1,0 -2.9,0M131.2,64.5a1.45,1.45 0 1,0 2.9,0a1.45,1.45 0 1,0 -2.9,0M131.9,65.0a1.45,1.45 0 1,0 2.9,0a1.45,1.45 0 1,0 -2.9,0M132.7,63.9a1.45,1.45 0 1,0 2.9,0a1.45,1.45 0 1,0 -2.9,0M133.4,64.7a1.45,1.45 0 1,0 2.9,0a1.45,1.45 0 1,0 -2.9,0M134.1,66.2a1.45,1.45 0 1,0 2.9,0a1.45,1.45 0 1,0 -2.9,0M134.8,64.8a1.45,1.45 0 1,0 2.9,0a1.45,1.45 0 1,0 -2.9,0M135.5,67.2a1.45,1.45 0 1,0 2.9,0a1.45,1.45 0 1,0 -2.9,0M136.2,65.6a1.45,1.45 0 1,0 2.9,0a1.45,1.45 0 1,0 -2.9,0M137.0,64.8a1.45,1.45 0 1,0 2.9,0a1.45,1.45 0 1,0 -2.9,0M137.7,64.3a1.45,1.45 0 1,0 2.9,0a1.45,1.45 0 1,0 -2.9,0M138.4,65.7a1.45,1.45 0 1,0 2.9,0a1.45,1.45 0 1,0 -2.9,0M139.1,65.3a1.45,1.45 0 1,0 2.9,0a1.45,1.45 0 1,0 -2.9,0M139.8,64.9a1.45,1.45 0 1,0 2.9,0a1.45,1.45 0 1,0 -2.9,0M140.5,65.2a1.45,1.45 0 1,0 2.9,0a1.45,1.45 0 1,0 -2.9,0M141.2,65.2a1.45,1.45 0 1,0 2.9,0a1.45,1.45 0 1,0 -2.9,0M142.0,65.9a1.45,1.45 0 1,0 2.9,0a1.45,1.45 0 1,0 -2.9,0M142.7,66.7a1.45,1.45 0 1,0 2.9,0a1.45,1.45 0 1,0 -2.9,0M143.4,65.6a1.45,1.45 0 1,0 2.9,0a1.45,1.45 0 1,0 -2.9,0M144.1,66.5a1.45,1.45 0 1,0 2.9,0a1.45,1.45 0 1,0 -2.9,0M144.8,67.5a1.45,1.45 0 1,0 2.9,0a1.45,1.45 0 1,0 -2.9,0M145.5,67.3a1.45,1.45 0 1,0 2.9,0a1.45,1.45 0 1,0 -2.9,0M146.3,66.5a1.45,1.45 0 1,0 2.9,0a1.45,1.45 0 1,0 -2.9,0M147.0,66.4a1.45,1.45 0 1,0 2.9,0a1.45,1.45 0 1,0 -2.9,0M147.7,65.9a1.45,1.45 0 1,0 2.9,0a1.45,1.45 0 1,0 -2.9,0M148.4,65.9a1.45,1.45 0 1,0 2.9,0a1.45,1.45 0 1,0 -2.9,0M149.1,65.4a1.45,1.45 0 1,0 2.9,0a1.45,1.45 0 1,0 -2.9,0M149.8,65.5a1.45,1.45 0 1,0 2.9,0a1.45,1.45 0 1,0 -2.9,0M150.6,66.6a1.45,1.45 0 1,0 2.9,0a1.45,1.45 0 1,0 -2.9,0M151.3,64.6a1.45,1.45 0 1,0 2.9,0a1.45,1.45 0 1,0 -2.9,0M152.0,63.8a1.45,1.45 0 1,0 2.9,0a1.45,1.45 0 1,0 -2.9,0M152.7,64.4a1.45,1.45 0 1,0 2.9,0a1.45,1.45 0 1,0 -2.9,0M153.4,65.1a1.45,1.45 0 1,0 2.9,0a1.45,1.45 0 1,0 -2.9,0M154.1,64.5a1.45,1.45 0 1,0 2.9,0a1.45,1.45 0 1,0 -2.9,0M154.8,66.2a1.45,1.45 0 1,0 2.9,0a1.45,1.45 0 1,0 -2.9,0M155.6,67.4a1.45,1.45 0 1,0 2.9,0a1.45,1.45 0 1,0 -2.9,0M156.3,65.5a1.45,1.45 0 1,0 2.9,0a1.45,1.45 0 1,0 -2.9,0M157.0,66.8a1.45,1.45 0 1,0 2.9,0a1.45,1.45 0 1,0 -2.9,0M157.7,65.2a1.45,1.45 0 1,0 2.9,0a1.45,1.45 0 1,0 -2.9,0M158.4,67.3a1.45,1.45 0 1,0 2.9,0a1.45,1.45 0 1,0 -2.9,0M159.1,69.2a1.45,1.45 0 1,0 2.9,0a1.45,1.45 0 1,0 -2.9,0M159.9,67.6a1.45,1.45 0 1,0 2.9,0a1.45,1.45 0 1,0 -2.9,0M160.6,64.8a1.45,1.45 0 1,0 2.9,0a1.45,1.45 0 1,0 -2.9,0M161.3,66.9a1.45,1.45 0 1,0 2.9,0a1.45,1.45 0 1,0 -2.9,0M162.0,67.9a1.45,1.45 0 1,0 2.9,0a1.45,1.45 0 1,0 -2.9,0M162.7,67.1a1.45,1.45 0 1,0 2.9,0a1.45,1.45 0 1,0 -2.9,0M163.4,65.6a1.45,1.45 0 1,0 2.9,0a1.45,1.45 0 1,0 -2.9,0M164.2,65.4a1.45,1.45 0 1,0 2.9,0a1.45,1.45 0 1,0 -2.9,0M164.9,65.5a1.45,1.45 0 1,0 2.9,0a1.45,1.45 0 1,0 -2.9,0M165.6,63.9a1.45,1.45 0 1,0 2.9,0a1.45,1.45 0 1,0 -2.9,0M166.3,64.6a1.45,1.45 0 1,0 2.9,0a1.45,1.45 0 1,0 -2.9,0M167.0,65.2a1.45,1.45 0 1,0 2.9,0a1.45,1.45 0 1,0 -2.9,0M167.7,64.4a1.45,1.45 0 1,0 2.9,0a1.45,1.45 0 1,0 -2.9,0M168.4,63.3a1.45,1.45 0 1,0 2.9,0a1.45,1.45 0 1,0 -2.9,0M169.2,64.0a1.45,1.45 0 1,0 2.9,0a1.45,1.45 0 1,0 -2.9,0M169.9,64.0a1.45,1.45 0 1,0 2.9,0a1.45,1.45 0 1,0 -2.9,0M170.6,66.4a1.45,1.45 0 1,0 2.9,0a1.45,1.45 0 1,0 -2.9,0M171.3,65.5a1.45,1.45 0 1,0 2.9,0a1.45,1.45 0 1,0 -2.9,0M172.0,64.7a1.45,1.45 0 1,0 2.9,0a1.45,1.45 0 1,0 -2.9,0M172.7,66.0a1.45,1.45 0 1,0 2.9,0a1.45,1.45 0 1,0 -2.9,0M173.5,64.7a1.45,1.45 0 1,0 2.9,0a1.45,1.45 0 1,0 -2.9,0M174.2,65.4a1.45,1.45 0 1,0 2.9,0a1.45,1.45 0 1,0 -2.9,0M174.9,65.2a1.45,1.45 0 1,0 2.9,0a1.45,1.45 0 1,0 -2.9,0M175.6,66.5a1.45,1.45 0 1,0 2.9,0a1.45,1.45 0 1,0 -2.9,0M176.3,63.6a1.45,1.45 0 1,0 2.9,0a1.45,1.45 0 1,0 -2.9,0M177.0,65.0a1.45,1.45 0 1,0 2.9,0a1.45,1.45 0 1,0 -2.9,0M177.7,66.6a1.45,1.45 0 1,0 2.9,0a1.45,1.45 0 1,0 -2.9,0M178.5,66.1a1.45,1.45 0 1,0 2.9,0a1.45,1.45 0 1,0 -2.9,0M179.2,63.3a1.45,1.45 0 1,0 2.9,0a1.45,1.45 0 1,0 -2.9,0M179.9,66.3a1.45,1.45 0 1,0 2.9,0a1.45,1.45 0 1,0 -2.9,0M180.6,64.8a1.45,1.45 0 1,0 2.9,0a1.45,1.45 0 1,0 -2.9,0M181.3,64.6a1.45,1.45 0 1,0 2.9,0a1.45,1.45 0 1,0 -2.9,0M182.0,65.4a1.45,1.45 0 1,0 2.9,0a1.45,1.45 0 1,0 -2.9,0M182.8,66.6a1.45,1.45 0 1,0 2.9,0a1.45,1.45 0 1,0 -2.9,0M183.5,65.0a1.45,1.45 0 1,0 2.9,0a1.45,1.45 0 1,0 -2.9,0M184.2,64.8a1.45,1.45 0 1,0 2.9,0a1.45,1.45 0 1,0 -2.9,0M184.9,63.9a1.45,1.45 0 1,0 2.9,0a1.45,1.45 0 1,0 -2.9,0M185.6,64.3a1.45,1.45 0 1,0 2.9,0a1.45,1.45 0 1,0 -2.9,0M186.3,65.2a1.45,1.45 0 1,0 2.9,0a1.45,1.45 0 1,0 -2.9,0M187.1,64.4a1.45,1.45 0 1,0 2.9,0a1.45,1.45 0 1,0 -2.9,0M187.8,64.9a1.45,1.45 0 1,0 2.9,0a1.45,1.45 0 1,0 -2.9,0M188.5,65.4a1.45,1.45 0 1,0 2.9,0a1.45,1.45 0 1,0 -2.9,0M189.2,65.7a1.45,1.45 0 1,0 2.9,0a1.45,1.45 0 1,0 -2.9,0M189.9,66.2a1.45,1.45 0 1,0 2.9,0a1.45,1.45 0 1,0 -2.9,0M190.6,65.4a1.45,1.45 0 1,0 2.9,0a1.45,1.45 0 1,0 -2.9,0M191.3,67.3a1.45,1.45 0 1,0 2.9,0a1.45,1.45 0 1,0 -2.9,0M192.1,66.9a1.45,1.45 0 1,0 2.9,0a1.45,1.45 0 1,0 -2.9,0M192.8,66.3a1.45,1.45 0 1,0 2.9,0a1.45,1.45 0 1,0 -2.9,0M193.5,67.8a1.45,1.45 0 1,0 2.9,0a1.45,1.45 0 1,0 -2.9,0M194.2,66.7a1.45,1.45 0 1,0 2.9,0a1.45,1.45 0 1,0 -2.9,0M194.9,68.2a1.45,1.45 0 1,0 2.9,0a1.45,1.45 0 1,0 -2.9,0M195.6,66.7a1.45,1.45 0 1,0 2.9,0a1.45,1.45 0 1,0 -2.9,0M196.4,65.2a1.45,1.45 0 1,0 2.9,0a1.45,1.45 0 1,0 -2.9,0M197.1,65.1a1.45,1.45 0 1,0 2.9,0a1.45,1.45 0 1,0 -2.9,0M197.8,65.6a1.45,1.45 0 1,0 2.9,0a1.45,1.45 0 1,0 -2.9,0M198.5,65.7a1.45,1.45 0 1,0 2.9,0a1.45,1.45 0 1,0 -2.9,0M199.2,66.8a1.45,1.45 0 1,0 2.9,0a1.45,1.45 0 1,0 -2.9,0M199.9,63.3a1.45,1.45 0 1,0 2.9,0a1.45,1.45 0 1,0 -2.9,0M200.7,64.7a1.45,1.45 0 1,0 2.9,0a1.45,1.45 0 1,0 -2.9,0M201.4,64.1a1.45,1.45 0 1,0 2.9,0a1.45,1.45 0 1,0 -2.9,0M202.1,66.2a1.45,1.45 0 1,0 2.9,0a1.45,1.45 0 1,0 -2.9,0M202.8,65.6a1.45,1.45 0 1,0 2.9,0a1.45,1.45 0 1,0 -2.9,0M203.5,67.4a1.45,1.45 0 1,0 2.9,0a1.45,1.45 0 1,0 -2.9,0M204.2,64.8a1.45,1.45 0 1,0 2.9,0a1.45,1.45 0 1,0 -2.9,0M204.9,64.7a1.45,1.45 0 1,0 2.9,0a1.45,1.45 0 1,0 -2.9,0M205.7,67.9a1.45,1.45 0 1,0 2.9,0a1.45,1.45 0 1,0 -2.9,0M206.4,66.1a1.45,1.45 0 1,0 2.9,0a1.45,1.45 0 1,0 -2.9,0M207.1,65.4a1.45,1.45 0 1,0 2.9,0a1.45,1.45 0 1,0 -2.9,0M207.8,68.0a1.45,1.45 0 1,0 2.9,0a1.45,1.45 0 1,0 -2.9,0M208.5,68.1a1.45,1.45 0 1,0 2.9,0a1.45,1.45 0 1,0 -2.9,0M209.2,67.3a1.45,1.45 0 1,0 2.9,0a1.45,1.45 0 1,0 -2.9,0M210.0,66.8a1.45,1.45 0 1,0 2.9,0a1.45,1.45 0 1,0 -2.9,0M210.7,67.6a1.45,1.45 0 1,0 2.9,0a1.45,1.45 0 1,0 -2.9,0M211.4,65.9a1.45,1.45 0 1,0 2.9,0a1.45,1.45 0 1,0 -2.9,0M212.1,65.6a1.45,1.45 0 1,0 2.9,0a1.45,1.45 0 1,0 -2.9,0M212.8,65.1a1.45,1.45 0 1,0 2.9,0a1.45,1.45 0 1,0 -2.9,0M213.5,64.9a1.45,1.45 0 1,0 2.9,0a1.45,1.45 0 1,0 -2.9,0M214.3,63.9a1.45,1.45 0 1,0 2.9,0a1.45,1.45 0 1,0 -2.9,0M215.0,64.2a1.45,1.45 0 1,0 2.9,0a1.45,1.45 0 1,0 -2.9,0" fill="#3a98f0" opacity="1"/>
<path d="M48.9,41.4v4.0M49.7,41.4v4.0M50.4,41.6v4.0M51.1,43.8v4.0M51.8,44.2v4.0M52.5,47.7v4.0M53.2,48.8v4.0M54.0,50.8v4.0M54.7,53.1v4.0M55.4,58.1v4.0M56.1,59.0v4.0M56.8,64.4v4.0M57.5,65.8v4.0M58.2,68.8v4.0M59.0,67.3v4.0M59.7,71.2v4.0M60.4,71.0v4.0M61.1,71.9v4.0M61.8,72.1v4.0M62.5,72.6v4.0M63.3,71.3v4.0M64.0,69.1v4.0M64.7,70.1v4.0M65.4,68.5v4.0M66.1,66.7v4.0M66.8,66.7v4.0M67.6,66.4v4.0M68.3,64.2v4.0M69.0,61.1v4.0M69.7,62.7v4.0M70.4,60.5v4.0M71.1,57.8v4.0M71.8,57.3v4.0M72.6,57.7v4.0M73.3,56.7v4.0M74.0,57.5v4.0M74.7,59.3v4.0M75.4,60.3v4.0M76.1,60.1v4.0M76.9,59.3v4.0M77.6,61.9v4.0M78.3,63.3v4.0M79.0,64.1v4.0M79.7,65.7v4.0M80.4,64.7v4.0M81.1,66.2v4.0M81.9,64.7v4.0M82.6,67.5v4.0M83.3,64.5v4.0M84.0,65.2v4.0M84.7,66.3v4.0M85.4,63.0v4.0M86.2,63.7v4.0M86.9,65.3v4.0M87.6,63.5v4.0M88.3,61.9v4.0M89.0,62.5v4.0M89.7,61.0v4.0M90.5,61.1v4.0M91.2,61.3v4.0M91.9,61.9v4.0M92.6,61.1v4.0M93.3,62.3v4.0M94.0,62.9v4.0M94.7,66.1v4.0M95.5,63.4v4.0M96.2,63.3v4.0M96.9,65.3v4.0M97.6,65.7v4.0M98.3,63.1v4.0M99.0,67.0v4.0M99.8,64.4v4.0M100.5,62.1v4.0M101.2,65.3v4.0M101.9,63.2v4.0M102.6,61.5v4.0M103.3,63.3v4.0M104.1,62.2v4.0M104.8,61.6v4.0M105.5,63.4v4.0M106.2,62.5v4.0M106.9,62.1v4.0M107.6,61.7v4.0M108.3,62.8v4.0M109.1,63.3v4.0M109.8,64.5v4.0M110.5,64.2v4.0M111.2,63.2v4.0M111.9,64.4v4.0M112.6,65.7v4.0M113.4,65.8v4.0M114.1,62.1v4.0M114.8,63.7v4.0M115.5,64.1v4.0M116.2,67.4v4.0M116.9,63.7v4.0M117.6,63.5v4.0M118.4,61.9v4.0M119.1,62.9v4.0M119.8,63.1v4.0M120.5,62.3v4.0M121.2,64.7v4.0M121.9,61.5v4.0M122.7,62.2v4.0M123.4,63.4v4.0M124.1,61.4v4.0M124.8,61.2v4.0M125.5,64.9v4.0M126.2,64.4v4.0M127.0,63.7v4.0M127.7,64.1v4.0M128.4,64.9v4.0M129.1,65.7v4.0M129.8,62.5v4.0M130.5,63.7v4.0M131.2,66.0v4.0M132.0,66.0v4.0M132.7,62.5v4.0M133.4,63.0v4.0M134.1,61.9v4.0M134.8,62.7v4.0M135.5,64.2v4.0M136.3,62.8v4.0M137.0,65.2v4.0M137.7,63.6v4.0M138.4,62.8v4.0M139.1,62.3v4.0M139.8,63.7v4.0M140.6,63.3v4.0M141.3,62.9v4.0M142.0,63.2v4.0M142.7,63.2v4.0M143.4,63.9v4.0M144.1,64.7v4.0M144.8,63.6v4.0M145.6,64.5v4.0M146.3,65.5v4.0M147.0,65.3v4.0M147.7,64.5v4.0M148.4,64.4v4.0M149.1,63.9v4.0M149.9,63.9v4.0M150.6,63.4v4.0M151.3,63.5v4.0M152.0,64.6v4.0M152.7,62.6v4.0M153.4,61.8v4.0M154.1,62.4v4.0M154.9,63.1v4.0M155.6,62.5v4.0M156.3,64.2v4.0M157.0,65.4v4.0M157.7,63.5v4.0M158.4,64.8v4.0M159.2,63.2v4.0M159.9,65.3v4.0M160.6,67.2v4.0M161.3,65.6v4.0M162.0,62.8v4.0M162.7,64.9v4.0M163.5,65.9v4.0M164.2,65.1v4.0M164.9,63.6v4.0M165.6,63.4v4.0M166.3,63.5v4.0M167.0,61.9v4.0M167.7,62.6v4.0M168.5,63.2v4.0M169.2,62.4v4.0M169.9,61.3v4.0M170.6,62.0v4.0M171.3,62.0v4.0M172.0,64.4v4.0M172.8,63.5v4.0M173.5,62.7v4.0M174.2,64.0v4.0M174.9,62.7v4.0M175.6,63.4v4.0M176.3,63.2v4.0M177.1,64.5v4.0M177.8,61.6v4.0M178.5,63.0v4.0M179.2,64.6v4.0M179.9,64.1v4.0M180.6,61.3v4.0M181.3,64.3v4.0M182.1,62.8v4.0M182.8,62.6v4.0M183.5,63.4v4.0M184.2,64.6v4.0M184.9,63.0v4.0M185.6,62.8v4.0M186.4,61.9v4.0M187.1,62.3v4.0M187.8,63.2v4.0M188.5,62.4v4.0M189.2,62.9v4.0M189.9,63.4v4.0M190.7,63.7v4.0M191.4,64.2v4.0M192.1,63.4v4.0M192.8,65.3v4.0M193.5,64.9v4.0M194.2,64.3v4.0M194.9,65.8v4.0M195.7,64.7v4.0M196.4,66.2v4.0M197.1,64.7v4.0M197.8,63.2v4.0M198.5,63.1v4.0M199.2,63.6v4.0M200.0,63.7v4.0M200.7,64.8v4.0M201.4,61.3v4.0M202.1,62.7v4.0M202.8,62.1v4.0M203.5,64.2v4.0M204.2,63.6v4.0M205.0,65.4v4.0M205.7,62.8v4.0M206.4,62.7v4.0M207.1,65.9v4.0M207.8,64.1v4.0M208.5,63.4v4.0M209.3,66.0v4.0M210.0,66.1v4.0M210.7,65.3v4.0M211.4,64.8v4.0M212.1,65.6v4.0M212.8,63.9v4.0M213.6,63.6v4.0M214.3,63.1v4.0M215.0,62.9v4.0M215.7,61.9v4.0M216.4,62.2v4.0" stroke="#3a98f0" stroke-width="0.6" fill="none"/>
<polyline points="48.10,42.41 48.52,42.48 48.94,42.70 49.36,43.05 49.78,43.54 50.20,44.17 50.63,44.92 51.05,45.79 51.47,46.78 51.89,47.87 52.31,49.05 52.73,50.32 53.15,51.66 53.57,53.05 53.99,54.50 54.41,55.97 54.84,57.47 55.26,58.98 55.68,60.47 56.10,61.95 56.52,63.40 56.94,64.79 57.36,66.13 57.78,67.40 58.20,68.58 58.62,69.67 59.05,70.65 59.47,71.53 59.89,72.28 60.31,72.90 60.73,73.40 61.15,73.75 61.57,73.96 61.99,74.04 62.41,73.99 62.84,73.84 63.26,73.60 63.68,73.27 64.10,72.85 64.52,72.34 64.94,71.77 65.36,71.12 65.78,70.42 66.20,69.67 66.62,68.88 67.05,68.06 67.47,67.22 67.89,66.38 68.31,65.54 68.73,64.72 69.15,63.93 69.57,63.18 69.99,62.48 70.41,61.83 70.83,61.26 71.25,60.75 71.68,60.33 72.10,60.00 72.52,59.76 72.94,59.61 73.36,59.56 73.78,59.61 74.20,59.75 74.62,59.97 75.04,60.28 75.47,60.66 75.89,61.11 76.31,61.61 76.73,62.16 77.15,62.73 77.57,63.32 77.99,63.90 78.41,64.48 78.83,65.02 79.25,65.52 79.67,65.97 80.10,66.35 80.52,66.66 80.94,66.88 81.36,67.02 81.78,67.07 82.20,67.05 82.62,66.99 83.04,66.89 83.46,66.76 83.89,66.60 84.31,66.41 84.73,66.19 85.15,65.96 85.57,65.71 85.99,65.46 86.41,65.21 86.83,64.96 87.25,64.73 87.67,64.51 88.09,64.32 88.52,64.16 88.94,64.03 89.36,63.93 89.78,63.87 90.20,63.85 90.62,63.87 91.04,63.94 91.46,64.05 91.88,64.21 92.31,64.39 92.73,64.61 93.15,64.86 93.57,65.12 93.99,65.39 94.41,65.67 94.83,65.94 95.25,66.20 95.67,66.45 96.09,66.67 96.52,66.85 96.94,67.00 97.36,67.12 97.78,67.18 98.20,67.21 98.62,67.19 99.04,67.13 99.46,67.04 99.88,66.91 100.30,66.75 100.72,66.56 101.15,66.36 101.57,66.14 101.99,65.90 102.41,65.67 102.83,65.44 103.25,65.22 103.67,65.01 104.09,64.83 104.51,64.67 104.94,64.54 105.36,64.44 105.78,64.39 106.20,64.37 106.62,64.39 107.04,64.44 107.46,64.53 107.88,64.64 108.30,64.79 108.72,64.96 109.14,65.15 109.57,65.35 109.99,65.57 110.41,65.78 110.83,65.99 111.25,66.20 111.67,66.39 112.09,66.56 112.51,66.70 112.93,66.82 113.35,66.91 113.78,66.96 114.20,66.98 114.62,66.96 115.04,66.91 115.46,66.83 115.88,66.73 116.30,66.59 116.72,66.43 117.14,66.26 117.56,66.07 117.99,65.88 118.41,65.68 118.83,65.48 119.25,65.30 119.67,65.12 120.09,64.97 120.51,64.83 120.93,64.72 121.35,64.64 121.78,64.59 122.20,64.58 122.62,64.59 123.04,64.64 123.46,64.71 123.88,64.81 124.30,64.93 124.72,65.08 125.14,65.24 125.56,65.41 125.99,65.59 126.41,65.77 126.83,65.95 127.25,66.13 127.67,66.29 128.09,66.43 128.51,66.55 128.93,66.65 129.35,66.73 129.77,66.77 130.19,66.79 130.62,66.77 131.04,66.73 131.46,66.66 131.88,66.57 132.30,66.46 132.72,66.33 133.14,66.18 133.56,66.02 133.98,65.85 134.41,65.69 134.83,65.52 135.25,65.36 135.67,65.22 136.09,65.08 136.51,64.97 136.93,64.88 137.35,64.81 137.77,64.77 138.19,64.75 138.62,64.77 139.04,64.81 139.46,64.87 139.88,64.95 140.30,65.06 140.72,65.18 141.14,65.31 141.56,65.46 141.98,65.61 142.40,65.77 142.83,65.92 143.25,66.06 143.67,66.20 144.09,66.32 144.51,66.43 144.93,66.51 145.35,66.57 145.77,66.61 146.19,66.62 146.61,66.61 147.03,66.58 147.46,66.52 147.88,66.44 148.30,66.35 148.72,66.23 149.14,66.11 149.56,65.97 149.98,65.83 150.40,65.69 150.82,65.55 151.25,65.42 151.67,65.29 152.09,65.18 152.51,65.09 152.93,65.01 153.35,64.95 153.77,64.92 154.19,64.90 154.61,64.92 155.03,64.95 155.46,65.00 155.88,65.07 156.30,65.16 156.72,65.26 157.14,65.38 157.56,65.50 157.98,65.63 158.40,65.76 158.82,65.89 159.24,66.01 159.67,66.13 160.09,66.23 160.51,66.32 160.93,66.39 161.35,66.44 161.77,66.47 162.19,66.48 162.61,66.48 163.03,66.45 163.45,66.40 163.88,66.33 164.30,66.25 164.72,66.16 165.14,66.05 165.56,65.94 165.98,65.82 166.40,65.70 166.82,65.58 167.24,65.47 167.66,65.36 168.08,65.27 168.51,65.19 168.93,65.12 169.35,65.07 169.77,65.04 170.19,65.03 170.61,65.04 171.03,65.07 171.45,65.11 171.87,65.17 172.29,65.25 172.72,65.33 173.14,65.43 173.56,65.54 173.98,65.64 174.40,65.76 174.82,65.86 175.24,65.97 175.66,66.07 176.08,66.15 176.50,66.23 176.93,66.29 177.35,66.33 177.77,66.36 178.19,66.37 178.61,66.36 179.03,66.33 179.45,66.29 179.87,66.24 180.29,66.17 180.72,66.09 181.14,66.00 181.56,65.90 181.98,65.80 182.40,65.70 182.82,65.60 183.24,65.51 183.66,65.42 184.08,65.34 184.50,65.27 184.93,65.21 185.35,65.17 185.77,65.15 186.19,65.14 186.61,65.15 187.03,65.17 187.45,65.21 187.87,65.26 188.29,65.32 188.71,65.40 189.13,65.48 189.56,65.57 189.98,65.66 190.40,65.75 190.82,65.84 191.24,65.93 191.66,66.01 192.08,66.09 192.50,66.15 192.92,66.20 193.34,66.24 193.77,66.26 194.19,66.27 194.61,66.26 195.03,66.24 195.45,66.21 195.87,66.16 196.29,66.10 196.71,66.03 197.13,65.96 197.55,65.88 197.98,65.79 198.40,65.71 198.82,65.62 199.24,65.54 199.66,65.47 200.08,65.40 200.50,65.34 200.92,65.29 201.34,65.26 201.76,65.24 202.19,65.23 202.61,65.24 203.03,65.26 203.45,65.29 203.87,65.33 204.29,65.38 204.71,65.45 205.13,65.52 205.55,65.59 205.97,65.67 206.40,65.75 206.82,65.83 207.24,65.90 207.66,65.97 208.08,66.03 208.50,66.09 208.92,66.13 209.34,66.16 209.76,66.18 210.19,66.19 210.61,66.18 211.03,66.16 211.45,66.13 211.87,66.09 212.29,66.04 212.71,65.99 213.13,65.92 213.55,65.85 213.97,65.78 214.40,65.71 214.82,65.64 215.24,65.57 215.66,65.51 216.08,65.45 216.50,65.40" fill="none" stroke="#3a98f0" stroke-width="1.0" stroke-linejoin="round" />
<path d="M47.5,74.9a1.45,1.45 0 1,0 2.9,0a1.45,1.45 0 1,0 -2.9,0M48.2,76.6a1.45,1.45 0 1,0 2.9,0a1.45,1.45 0 1,0 -2.9,0M48.9,81.7a1.45,1.45 0 1,0 2.9,0a1.45,1.45 0 1,0 -2.9,0M49.6,87.2a1.45,1.45 0 1,0 2.9,0a1.45,1.45 0 1,0 -2.9,0M50.4,92.2a1.45,1.45 0 1,0 2.9,0a1.45,1.45 0 1,0 -2.9,0M51.1,98.8a1.45,1.45 0 1,0 2.9,0a1.45,1.45 0 1,0 -2.9,0M51.8,104.9a1.45,1.45 0 1,0 2.9,0a1.45,1.45 0 1,0 -2.9,0M52.5,114.2a1.45,1.45 0 1,0 2.9,0a1.45,1.45 0 1,0 -2.9,0M53.2,119.2a1.45,1.45 0 1,0 2.9,0a1.45,1.45 0 1,0 -2.9,0M53.9,121.8a1.45,1.45 0 1,0 2.9,0a1.45,1.45 0 1,0 -2.9,0M54.6,124.8a1.45,1.45 0 1,0 2.9,0a1.45,1.45 0 1,0 -2.9,0M55.4,126.2a1.45,1.45 0 1,0 2.9,0a1.45,1.45 0 1,0 -2.9,0M56.1,125.5a1.45,1.45 0 1,0 2.9,0a1.45,1.45 0 1,0 -2.9,0M56.8,125.4a1.45,1.45 0 1,0 2.9,0a1.45,1.45 0 1,0 -2.9,0M57.5,121.4a1.45,1.45 0 1,0 2.9,0a1.45,1.45 0 1,0 -2.9,0M58.2,119.2a1.45,1.45 0 1,0 2.9,0a1.45,1.45 0 1,0 -2.9,0M58.9,116.6a1.45,1.45 0 1,0 2.9,0a1.45,1.45 0 1,0 -2.9,0M59.7,113.9a1.45,1.45 0 1,0 2.9,0a1.45,1.45 0 1,0 -2.9,0M60.4,109.6a1.45,1.45 0 1,0 2.9,0a1.45,1.45 0 1,0 -2.9,0M61.1,109.5a1.45,1.45 0 1,0 2.9,0a1.45,1.45 0 1,0 -2.9,0M61.8,103.8a1.45,1.45 0 1,0 2.9,0a1.45,1.45 0 1,0 -2.9,0M62.5,99.6a1.45,1.45 0 1,0 2.9,0a1.45,1.45 0 1,0 -2.9,0M63.2,99.5a1.45,1.45 0 1,0 2.9,0a1.45,1.45 0 1,0 -2.9,0M64.0,95.8a1.45,1.45 0 1,0 2.9,0a1.45,1.45 0 1,0 -2.9,0M64.7,95.3a1.45,1.45 0 1,0 2.9,0a1.45,1.45 0 1,0 -2.9,0M65.4,97.8a1.45,1.45 0 1,0 2.9,0a1.45,1.45 0 1,0 -2.9,0M66.1,97.6a1.45,1.45 0 1,0 2.9,0a1.45,1.45 0 1,0 -2.9,0M66.8,99.9a1.45,1.45 0 1,0 2.9,0a1.45,1.45 0 1,0 -2.9,0M67.5,101.7a1.45,1.45 0 1,0 2.9,0a1.45,1.45 0 1,0 -2.9,0M68.2,104.6a1.45,1.45 0 1,0 2.9,0a1.45,1.45 0 1,0 -2.9,0M69.0,108.5a1.45,1.45 0 1,0 2.9,0a1.45,1.45 0 1,0 -2.9,0M69.7,112.3a1.45,1.45 0 1,0 2.9,0a1.45,1.45 0 1,0 -2.9,0M70.4,113.2a1.45,1.45 0 1,0 2.9,0a1.45,1.45 0 1,0 -2.9,0M71.1,114.2a1.45,1.45 0 1,0 2.9,0a1.45,1.45 0 1,0 -2.9,0M71.8,113.1a1.45,1.45 0 1,0 2.9,0a1.45,1.45 0 1,0 -2.9,0M72.5,113.1a1.45,1.45 0 1,0 2.9,0a1.45,1.45 0 1,0 -2.9,0M73.3,113.4a1.45,1.45 0 1,0 2.9,0a1.45,1.45 0 1,0 -2.9,0M74.0,112.6a1.45,1.45 0 1,0 2.9,0a1.45,1.45 0 1,0 -2.9,0M74.7,109.2a1.45,1.45 0 1,0 2.9,0a1.45,1.45 0 1,0 -2.9,0M75.4,107.5a1.45,1.45 0 1,0 2.9,0a1.45,1.45 0 1,0 -2.9,0M76.1,105.8a1.45,1.45 0 1,0 2.9,0a1.45,1.45 0 1,0 -2.9,0M76.8,102.3a1.45,1.45 0 1,0 2.9,0a1.45,1.45 0 1,0 -2.9,0M77.6,101.1a1.45,1.45 0 1,0 2.9,0a1.45,1.45 0 1,0 -2.9,0M78.3,98.9a1.45,1.45 0 1,0 2.9,0a1.45,1.45 0 1,0 -2.9,0M79.0,97.6a1.45,1.45 0 1,0 2.9,0a1.45,1.45 0 1,0 -2.9,0M79.7,98.8a1.45,1.45 0 1,0 2.9,0a1.45,1.45 0 1,0 -2.9,0M80.4,95.5a1.45,1.45 0 1,0 2.9,0a1.45,1.45 0 1,0 -2.9,0M81.1,100.3a1.45,1.45 0 1,0 2.9,0a1.45,1.45 0 1,0 -2.9,0M81.8,100.0a1.45,1.45 0 1,0 2.9,0a1.45,1.45 0 1,0 -2.9,0M82.6,103.5a1.45,1.45 0 1,0 2.9,0a1.45,1.45 0 1,0 -2.9,0M83.3,104.4a1.45,1.45 0 1,0 2.9,0a1.45,1.45 0 1,0 -2.9,0M84.0,111.5a1.45,1.45 0 1,0 2.9,0a1.45,1.45 0 1,0 -2.9,0M84.7,111.3a1.45,1.45 0 1,0 2.9,0a1.45,1.45 0 1,0 -2.9,0M85.4,111.6a1.45,1.45 0 1,0 2.9,0a1.45,1.45 0 1,0 -2.9,0M86.1,112.3a1.45,1.45 0 1,0 2.9,0a1.45,1.45 0 1,0 -2.9,0M86.9,110.4a1.45,1.45 0 1,0 2.9,0a1.45,1.45 0 1,0 -2.9,0M87.6,113.1a1.45,1.45 0 1,0 2.9,0a1.45,1.45 0 1,0 -2.9,0M88.3,111.2a1.45,1.45 0 1,0 2.9,0a1.45,1.45 0 1,0 -2.9,0M89.0,110.9a1.45,1.45 0 1,0 2.9,0a1.45,1.45 0 1,0 -2.9,0M89.7,109.3a1.45,1.45 0 1,0 2.9,0a1.45,1.45 0 1,0 -2.9,0M90.4,108.4a1.45,1.45 0 1,0 2.9,0a1.45,1.45 0 1,0 -2.9,0M91.1,107.7a1.45,1.45 0 1,0 2.9,0a1.45,1.45 0 1,0 -2.9,0M91.9,105.3a1.45,1.45 0 1,0 2.9,0a1.45,1.45 0 1,0 -2.9,0M92.6,106.3a1.45,1.45 0 1,0 2.9,0a1.45,1.45 0 1,0 -2.9,0M93.3,102.3a1.45,1.45 0 1,0 2.9,0a1.45,1.45 0 1,0 -2.9,0M94.0,105.0a1.45,1.45 0 1,0 2.9,0a1.45,1.45 0 1,0 -2.9,0M94.7,103.2a1.45,1.45 0 1,0 2.9,0a1.45,1.45 0 1,0 -2.9,0M95.4,101.0a1.45,1.45 0 1,0 2.9,0a1.45,1.45 0 1,0 -2.9,0M96.2,104.8a1.45,1.45 0 1,0 2.9,0a1.45,1.45 0 1,0 -2.9,0M96.9,105.2a1.45,1.45 0 1,0 2.9,0a1.45,1.45 0 1,0 -2.9,0M97.6,104.6a1.45,1.45 0 1,0 2.9,0a1.45,1.45 0 1,0 -2.9,0M98.3,107.1a1.45,1.45 0 1,0 2.9,0a1.45,1.45 0 1,0 -2.9,0M99.0,109.2a1.45,1.45 0 1,0 2.9,0a1.45,1.45 0 1,0 -2.9,0M99.7,108.5a1.45,1.45 0 1,0 2.9,0a1.45,1.45 0 1,0 -2.9,0M100.5,108.6a1.45,1.45 0 1,0 2.9,0a1.45,1.45 0 1,0 -2.9,0M101.2,108.8a1.45,1.45 0 1,0 2.9,0a1.45,1.45 0 1,0 -2.9,0M101.9,111.0a1.45,1.45 0 1,0 2.9,0a1.45,1.45 0 1,0 -2.9,0M102.6,107.4a1.45,1.45 0 1,0 2.9,0a1.45,1.45 0 1,0 -2.9,0M103.3,107.1a1.45,1.45 0 1,0 2.9,0a1.45,1.45 0 1,0 -2.9,0M104.0,108.8a1.45,1.45 0 1,0 2.9,0a1.45,1.45 0 1,0 -2.9,0M104.7,107.8a1.45,1.45 0 1,0 2.9,0a1.45,1.45 0 1,0 -2.9,0M105.5,108.0a1.45,1.45 0 1,0 2.9,0a1.45,1.45 0 1,0 -2.9,0M106.2,104.6a1.45,1.45 0 1,0 2.9,0a1.45,1.45 0 1,0 -2.9,0M106.9,106.9a1.45,1.45 0 1,0 2.9,0a1.45,1.45 0 1,0 -2.9,0M107.6,104.4a1.45,1.45 0 1,0 2.9,0a1.45,1.45 0 1,0 -2.9,0M108.3,105.6a1.45,1.45 0 1,0 2.9,0a1.45,1.45 0 1,0 -2.9,0M109.0,105.7a1.45,1.45 0 1,0 2.9,0a1.45,1.45 0 1,0 -2.9,0M109.8,103.8a1.45,1.45 0 1,0 2.9,0a1.45,1.45 0 1,0 -2.9,0M110.5,103.2a1.45,1.45 0 1,0 2.9,0a1.45,1.45 0 1,0 -2.9,0M111.2,105.5a1.45,1.45 0 1,0 2.9,0a1.45,1.45 0 1,0 -2.9,0M111.9,107.0a1.45,1.45 0 1,0 2.9,0a1.45,1.45 0 1,0 -2.9,0M112.6,105.6a1.45,1.45 0 1,0 2.9,0a1.45,1.45 0 1,0 -2.9,0M113.3,107.4a1.45,1.45 0 1,0 2.9,0a1.45,1.45 0 1,0 -2.9,0M114.1,107.6a1.45,1.45 0 1,0 2.9,0a1.45,1.45 0 1,0 -2.9,0M114.8,106.4a1.45,1.45 0 1,0 2.9,0a1.45,1.45 0 1,0 -2.9,0M115.5,107.3a1.45,1.45 0 1,0 2.9,0a1.45,1.45 0 1,0 -2.9,0M116.2,109.8a1.45,1.45 0 1,0 2.9,0a1.45,1.45 0 1,0 -2.9,0M116.9,105.9a1.45,1.45 0 1,0 2.9,0a1.45,1.45 0 1,0 -2.9,0M117.6,108.9a1.45,1.45 0 1,0 2.9,0a1.45,1.45 0 1,0 -2.9,0M118.3,107.4a1.45,1.45 0 1,0 2.9,0a1.45,1.45 0 1,0 -2.9,0M119.1,108.9a1.45,1.45 0 1,0 2.9,0a1.45,1.45 0 1,0 -2.9,0M119.8,107.5a1.45,1.45 0 1,0 2.9,0a1.45,1.45 0 1,0 -2.9,0M120.5,109.3a1.45,1.45 0 1,0 2.9,0a1.45,1.45 0 1,0 -2.9,0M121.2,103.8a1.45,1.45 0 1,0 2.9,0a1.45,1.45 0 1,0 -2.9,0M121.9,103.8a1.45,1.45 0 1,0 2.9,0a1.45,1.45 0 1,0 -2.9,0M122.6,107.0a1.45,1.45 0 1,0 2.9,0a1.45,1.45 0 1,0 -2.9,0M123.4,107.2a1.45,1.45 0 1,0 2.9,0a1.45,1.45 0 1,0 -2.9,0M124.1,107.3a1.45,1.45 0 1,0 2.9,0a1.45,1.45 0 1,0 -2.9,0M124.8,103.5a1.45,1.45 0 1,0 2.9,0a1.45,1.45 0 1,0 -2.9,0M125.5,106.1a1.45,1.45 0 1,0 2.9,0a1.45,1.45 0 1,0 -2.9,0M126.2,106.0a1.45,1.45 0 1,0 2.9,0a1.45,1.45 0 1,0 -2.9,0M126.9,106.9a1.45,1.45 0 1,0 2.9,0a1.45,1.45 0 1,0 -2.9,0M127.7,107.2a1.45,1.45 0 1,0 2.9,0a1.45,1.45 0 1,0 -2.9,0M128.4,109.1a1.45,1.45 0 1,0 2.9,0a1.45,1.45 0 1,0 -2.9,0M129.1,108.0a1.45,1.45 0 1,0 2.9,0a1.45,1.45 0 1,0 -2.9,0M129.8,110.5a1.45,1.45 0 1,0 2.9,0a1.45,1.45 0 1,0 -2.9,0M130.5,108.8a1.45,1.45 0 1,0 2.9,0a1.45,1.45 0 1,0 -2.9,0M131.2,108.4a1.45,1.45 0 1,0 2.9,0a1.45,1.45 0 1,0 -2.9,0M131.9,108.1a1.45,1.45 0 1,0 2.9,0a1.45,1.45 0 1,0 -2.9,0M132.7,108.8a1.45,1.45 0 1,0 2.9,0a1.45,1.45 0 1,0 -2.9,0M133.4,109.4a1.45,1.45 0 1,0 2.9,0a1.45,1.45 0 1,0 -2.9,0M134.1,107.5a1.45,1.45 0 1,0 2.9,0a1.45,1.45 0 1,0 -2.9,0M134.8,107.8a1.45,1.45 0 1,0 2.9,0a1.45,1.45 0 1,0 -2.9,0M135.5,104.5a1.45,1.45 0 1,0 2.9,0a1.45,1.45 0 1,0 -2.9,0M136.2,105.1a1.45,1.45 0 1,0 2.9,0a1.45,1.45 0 1,0 -2.9,0M137.0,105.9a1.45,1.45 0 1,0 2.9,0a1.45,1.45 0 1,0 -2.9,0M137.7,106.1a1.45,1.45 0 1,0 2.9,0a1.45,1.45 0 1,0 -2.9,0M138.4,106.3a1.45,1.45 0 1,0 2.9,0a1.45,1.45 0 1,0 -2.9,0M139.1,106.7a1.45,1.45 0 1,0 2.9,0a1.45,1.45 0 1,0 -2.9,0M139.8,106.0a1.45,1.45 0 1,0 2.9,0a1.45,1.45 0 1,0 -2.9,0M140.5,105.4a1.45,1.45 0 1,0 2.9,0a1.45,1.45 0 1,0 -2.9,0M141.2,105.5a1.45,1.45 0 1,0 2.9,0a1.45,1.45 0 1,0 -2.9,0M142.0,105.9a1.45,1.45 0 1,0 2.9,0a1.45,1.45 0 1,0 -2.9,0M142.7,104.3a1.45,1.45 0 1,0 2.9,0a1.45,1.45 0 1,0 -2.9,0M143.4,108.6a1.45,1.45 0 1,0 2.9,0a1.45,1.45 0 1,0 -2.9,0M144.1,108.0a1.45,1.45 0 1,0 2.9,0a1.45,1.45 0 1,0 -2.9,0M144.8,104.5a1.45,1.45 0 1,0 2.9,0a1.45,1.45 0 1,0 -2.9,0M145.5,111.1a1.45,1.45 0 1,0 2.9,0a1.45,1.45 0 1,0 -2.9,0M146.3,109.3a1.45,1.45 0 1,0 2.9,0a1.45,1.45 0 1,0 -2.9,0M147.0,108.2a1.45,1.45 0 1,0 2.9,0a1.45,1.45 0 1,0 -2.9,0M147.7,108.0a1.45,1.45 0 1,0 2.9,0a1.45,1.45 0 1,0 -2.9,0M148.4,107.3a1.45,1.45 0 1,0 2.9,0a1.45,1.45 0 1,0 -2.9,0M149.1,107.8a1.45,1.45 0 1,0 2.9,0a1.45,1.45 0 1,0 -2.9,0M149.8,106.4a1.45,1.45 0 1,0 2.9,0a1.45,1.45 0 1,0 -2.9,0M150.6,106.4a1.45,1.45 0 1,0 2.9,0a1.45,1.45 0 1,0 -2.9,0M151.3,105.0a1.45,1.45 0 1,0 2.9,0a1.45,1.45 0 1,0 -2.9,0M152.0,108.4a1.45,1.45 0 1,0 2.9,0a1.45,1.45 0 1,0 -2.9,0M152.7,106.8a1.45,1.45 0 1,0 2.9,0a1.45,1.45 0 1,0 -2.9,0M153.4,105.5a1.45,1.45 0 1,0 2.9,0a1.45,1.45 0 1,0 -2.9,0M154.1,107.0a1.45,1.45 0 1,0 2.9,0a1.45,1.45 0 1,0 -2.9,0M154.8,107.3a1.45,1.45 0 1,0 2.9,0a1.45,1.45 0 1,0 -2.9,0M155.6,105.2a1.45,1.45 0 1,0 2.9,0a1.45,1.45 0 1,0 -2.9,0M156.3,107.4a1.45,1.45 0 1,0 2.9,0a1.45,1.45 0 1,0 -2.9,0M157.0,106.0a1.45,1.45 0 1,0 2.9,0a1.45,1.45 0 1,0 -2.9,0M157.7,106.3a1.45,1.45 0 1,0 2.9,0a1.45,1.45 0 1,0 -2.9,0M158.4,107.3a1.45,1.45 0 1,0 2.9,0a1.45,1.45 0 1,0 -2.9,0M159.1,107.3a1.45,1.45 0 1,0 2.9,0a1.45,1.45 0 1,0 -2.9,0M159.9,108.4a1.45,1.45 0 1,0 2.9,0a1.45,1.45 0 1,0 -2.9,0M160.6,110.3a1.45,1.45 0 1,0 2.9,0a1.45,1.45 0 1,0 -2.9,0M161.3,108.4a1.45,1.45 0 1,0 2.9,0a1.45,1.45 0 1,0 -2.9,0M162.0,107.5a1.45,1.45 0 1,0 2.9,0a1.45,1.45 0 1,0 -2.9,0M162.7,108.7a1.45,1.45 0 1,0 2.9,0a1.45,1.45 0 1,0 -2.9,0M163.4,107.7a1.45,1.45 0 1,0 2.9,0a1.45,1.45 0 1,0 -2.9,0M164.2,106.2a1.45,1.45 0 1,0 2.9,0a1.45,1.45 0 1,0 -2.9,0M164.9,108.0a1.45,1.45 0 1,0 2.9,0a1.45,1.45 0 1,0 -2.9,0M165.6,105.5a1.45,1.45 0 1,0 2.9,0a1.45,1.45 0 1,0 -2.9,0M166.3,103.5a1.45,1.45 0 1,0 2.9,0a1.45,1.45 0 1,0 -2.9,0M167.0,106.6a1.45,1.45 0 1,0 2.9,0a1.45,1.45 0 1,0 -2.9,0M167.7,105.5a1.45,1.45 0 1,0 2.9,0a1.45,1.45 0 1,0 -2.9,0M168.4,106.0a1.45,1.45 0 1,0 2.9,0a1.45,1.45 0 1,0 -2.9,0M169.2,103.7a1.45,1.45 0 1,0 2.9,0a1.45,1.45 0 1,0 -2.9,0M169.9,105.6a1.45,1.45 0 1,0 2.9,0a1.45,1.45 0 1,0 -2.9,0M170.6,105.1a1.45,1.45 0 1,0 2.9,0a1.45,1.45 0 1,0 -2.9,0M171.3,107.7a1.45,1.45 0 1,0 2.9,0a1.45,1.45 0 1,0 -2.9,0M172.0,107.1a1.45,1.45 0 1,0 2.9,0a1.45,1.45 0 1,0 -2.9,0M172.7,107.5a1.45,1.45 0 1,0 2.9,0a1.45,1.45 0 1,0 -2.9,0M173.5,110.2a1.45,1.45 0 1,0 2.9,0a1.45,1.45 0 1,0 -2.9,0M174.2,106.0a1.45,1.45 0 1,0 2.9,0a1.45,1.45 0 1,0 -2.9,0M174.9,106.9a1.45,1.45 0 1,0 2.9,0a1.45,1.45 0 1,0 -2.9,0M175.6,110.6a1.45,1.45 0 1,0 2.9,0a1.45,1.45 0 1,0 -2.9,0M176.3,107.1a1.45,1.45 0 1,0 2.9,0a1.45,1.45 0 1,0 -2.9,0M177.0,108.1a1.45,1.45 0 1,0 2.9,0a1.45,1.45 0 1,0 -2.9,0M177.7,107.1a1.45,1.45 0 1,0 2.9,0a1.45,1.45 0 1,0 -2.9,0M178.5,106.9a1.45,1.45 0 1,0 2.9,0a1.45,1.45 0 1,0 -2.9,0M179.2,109.1a1.45,1.45 0 1,0 2.9,0a1.45,1.45 0 1,0 -2.9,0M179.9,107.0a1.45,1.45 0 1,0 2.9,0a1.45,1.45 0 1,0 -2.9,0M180.6,104.3a1.45,1.45 0 1,0 2.9,0a1.45,1.45 0 1,0 -2.9,0M181.3,106.9a1.45,1.45 0 1,0 2.9,0a1.45,1.45 0 1,0 -2.9,0M182.0,107.4a1.45,1.45 0 1,0 2.9,0a1.45,1.45 0 1,0 -2.9,0M182.8,107.8a1.45,1.45 0 1,0 2.9,0a1.45,1.45 0 1,0 -2.9,0M183.5,107.6a1.45,1.45 0 1,0 2.9,0a1.45,1.45 0 1,0 -2.9,0M184.2,105.6a1.45,1.45 0 1,0 2.9,0a1.45,1.45 0 1,0 -2.9,0M184.9,103.9a1.45,1.45 0 1,0 2.9,0a1.45,1.45 0 1,0 -2.9,0M185.6,106.0a1.45,1.45 0 1,0 2.9,0a1.45,1.45 0 1,0 -2.9,0M186.3,106.5a1.45,1.45 0 1,0 2.9,0a1.45,1.45 0 1,0 -2.9,0M187.1,104.1a1.45,1.45 0 1,0 2.9,0a1.45,1.45 0 1,0 -2.9,0M187.8,108.2a1.45,1.45 0 1,0 2.9,0a1.45,1.45 0 1,0 -2.9,0M188.5,108.7a1.45,1.45 0 1,0 2.9,0a1.45,1.45 0 1,0 -2.9,0M189.2,107.2a1.45,1.45 0 1,0 2.9,0a1.45,1.45 0 1,0 -2.9,0M189.9,107.3a1.45,1.45 0 1,0 2.9,0a1.45,1.45 0 1,0 -2.9,0M190.6,109.4a1.45,1.45 0 1,0 2.9,0a1.45,1.45 0 1,0 -2.9,0M191.3,109.5a1.45,1.45 0 1,0 2.9,0a1.45,1.45 0 1,0 -2.9,0M192.1,107.3a1.45,1.45 0 1,0 2.9,0a1.45,1.45 0 1,0 -2.9,0M192.8,107.1a1.45,1.45 0 1,0 2.9,0a1.45,1.45 0 1,0 -2.9,0M193.5,109.0a1.45,1.45 0 1,0 2.9,0a1.45,1.45 0 1,0 -2.9,0M194.2,107.2a1.45,1.45 0 1,0 2.9,0a1.45,1.45 0 1,0 -2.9,0M194.9,107.4a1.45,1.45 0 1,0 2.9,0a1.45,1.45 0 1,0 -2.9,0M195.6,105.7a1.45,1.45 0 1,0 2.9,0a1.45,1.45 0 1,0 -2.9,0M196.4,106.3a1.45,1.45 0 1,0 2.9,0a1.45,1.45 0 1,0 -2.9,0M197.1,106.2a1.45,1.45 0 1,0 2.9,0a1.45,1.45 0 1,0 -2.9,0M197.8,106.5a1.45,1.45 0 1,0 2.9,0a1.45,1.45 0 1,0 -2.9,0M198.5,104.7a1.45,1.45 0 1,0 2.9,0a1.45,1.45 0 1,0 -2.9,0M199.2,104.3a1.45,1.45 0 1,0 2.9,0a1.45,1.45 0 1,0 -2.9,0M199.9,107.0a1.45,1.45 0 1,0 2.9,0a1.45,1.45 0 1,0 -2.9,0M200.7,105.6a1.45,1.45 0 1,0 2.9,0a1.45,1.45 0 1,0 -2.9,0M201.4,108.1a1.45,1.45 0 1,0 2.9,0a1.45,1.45 0 1,0 -2.9,0M202.1,107.2a1.45,1.45 0 1,0 2.9,0a1.45,1.45 0 1,0 -2.9,0M202.8,106.5a1.45,1.45 0 1,0 2.9,0a1.45,1.45 0 1,0 -2.9,0M203.5,105.6a1.45,1.45 0 1,0 2.9,0a1.45,1.45 0 1,0 -2.9,0M204.2,108.4a1.45,1.45 0 1,0 2.9,0a1.45,1.45 0 1,0 -2.9,0M204.9,108.0a1.45,1.45 0 1,0 2.9,0a1.45,1.45 0 1,0 -2.9,0M205.7,107.6a1.45,1.45 0 1,0 2.9,0a1.45,1.45 0 1,0 -2.9,0M206.4,109.8a1.45,1.45 0 1,0 2.9,0a1.45,1.45 0 1,0 -2.9,0M207.1,107.5a1.45,1.45 0 1,0 2.9,0a1.45,1.45 0 1,0 -2.9,0M207.8,108.3a1.45,1.45 0 1,0 2.9,0a1.45,1.45 0 1,0 -2.9,0M208.5,106.6a1.45,1.45 0 1,0 2.9,0a1.45,1.45 0 1,0 -2.9,0M209.2,108.4a1.45,1.45 0 1,0 2.9,0a1.45,1.45 0 1,0 -2.9,0M210.0,109.3a1.45,1.45 0 1,0 2.9,0a1.45,1.45 0 1,0 -2.9,0M210.7,106.3a1.45,1.45 0 1,0 2.9,0a1.45,1.45 0 1,0 -2.9,0M211.4,105.9a1.45,1.45 0 1,0 2.9,0a1.45,1.45 0 1,0 -2.9,0M212.1,106.9a1.45,1.45 0 1,0 2.9,0a1.45,1.45 0 1,0 -2.9,0M212.8,105.0a1.45,1.45 0 1,0 2.9,0a1.45,1.45 0 1,0 -2.9,0M213.5,106.7a1.45,1.45 0 1,0 2.9,0a1.45,1.45 0 1,0 -2.9,0M214.3,107.3a1.45,1.45 0 1,0 2.9,0a1.45,1.45 0 1,0 -2.9,0M215.0,106.0a1.45,1.45 0 1,0 2.9,0a1.45,1.45 0 1,0 -2.9,0" fill="#f01c1c" opacity="1"/>
<path d="M48.9,72.9v4.0M49.7,74.6v4.0M50.4,79.7v4.0M51.1,85.2v4.0M51.8,90.2v4.0M52.5,96.8v4.0M53.2,102.9v4.0M54.0,112.2v4.0M54.7,117.2v4.0M55.4,119.8v4.0M56.1,122.8v4.0M56.8,124.2v4.0M57.5,123.5v4.0M58.2,123.4v4.0M59.0,119.4v4.0M59.7,117.2v4.0M60.4,114.6v4.0M61.1,111.9v4.0M61.8,107.6v4.0M62.5,107.5v4.0M63.3,101.8v4.0M64.0,97.6v4.0M64.7,97.5v4.0M65.4,93.8v4.0M66.1,93.3v4.0M66.8,95.8v4.0M67.6,95.6v4.0M68.3,97.9v4.0M69.0,99.7v4.0M69.7,102.6v4.0M70.4,106.5v4.0M71.1,110.3v4.0M71.8,111.2v4.0M72.6,112.2v4.0M73.3,111.1v4.0M74.0,111.1v4.0M74.7,111.4v4.0M75.4,110.6v4.0M76.1,107.2v4.0M76.9,105.5v4.0M77.6,103.8v4.0M78.3,100.3v4.0M79.0,99.1v4.0M79.7,96.9v4.0M80.4,95.6v4.0M81.1,96.8v4.0M81.9,93.5v4.0M82.6,98.3v4.0M83.3,98.0v4.0M84.0,101.5v4.0M84.7,102.4v4.0M85.4,109.5v4.0M86.2,109.3v4.0M86.9,109.6v4.0M87.6,110.3v4.0M88.3,108.4v4.0M89.0,111.1v4.0M89.7,109.2v4.0M90.5,108.9v4.0M91.2,107.3v4.0M91.9,106.4v4.0M92.6,105.7v4.0M93.3,103.3v4.0M94.0,104.3v4.0M94.7,100.3v4.0M95.5,103.0v4.0M96.2,101.2v4.0M96.9,99.0v4.0M97.6,102.8v4.0M98.3,103.2v4.0M99.0,102.6v4.0M99.8,105.1v4.0M100.5,107.2v4.0M101.2,106.5v4.0M101.9,106.6v4.0M102.6,106.8v4.0M103.3,109.0v4.0M104.1,105.4v4.0M104.8,105.1v4.0M105.5,106.8v4.0M106.2,105.8v4.0M106.9,106.0v4.0M107.6,102.6v4.0M108.3,104.9v4.0M109.1,102.4v4.0M109.8,103.6v4.0M110.5,103.7v4.0M111.2,101.8v4.0M111.9,101.2v4.0M112.6,103.5v4.0M113.4,105.0v4.0M114.1,103.6v4.0M114.8,105.4v4.0M115.5,105.6v4.0M116.2,104.4v4.0M116.9,105.3v4.0M117.6,107.8v4.0M118.4,103.9v4.0M119.1,106.9v4.0M119.8,105.4v4.0M120.5,106.9v4.0M121.2,105.5v4.0M121.9,107.3v4.0M122.7,101.8v4.0M123.4,101.8v4.0M124.1,105.0v4.0M124.8,105.2v4.0M125.5,105.3v4.0M126.2,101.5v4.0M127.0,104.1v4.0M127.7,104.0v4.0M128.4,104.9v4.0M129.1,105.2v4.0M129.8,107.1v4.0M130.5,106.0v4.0M131.2,108.5v4.0M132.0,106.8v4.0M132.7,106.4v4.0M133.4,106.1v4.0M134.1,106.8v4.0M134.8,107.4v4.0M135.5,105.5v4.0M136.3,105.8v4.0M137.0,102.5v4.0M137.7,103.1v4.0M138.4,103.9v4.0M139.1,104.1v4.0M139.8,104.3v4.0M140.6,104.7v4.0M141.3,104.0v4.0M142.0,103.4v4.0M142.7,103.5v4.0M143.4,103.9v4.0M144.1,102.3v4.0M144.8,106.6v4.0M145.6,106.0v4.0M146.3,102.5v4.0M147.0,109.1v4.0M147.7,107.3v4.0M148.4,106.2v4.0M149.1,106.0v4.0M149.9,105.3v4.0M150.6,105.8v4.0M151.3,104.4v4.0M152.0,104.4v4.0M152.7,103.0v4.0M153.4,106.4v4.0M154.1,104.8v4.0M154.9,103.5v4.0M155.6,105.0v4.0M156.3,105.3v4.0M157.0,103.2v4.0M157.7,105.4v4.0M158.4,104.0v4.0M159.2,104.3v4.0M159.9,105.3v4.0M160.6,105.3v4.0M161.3,106.4v4.0M162.0,108.3v4.0M162.7,106.4v4.0M163.5,105.5v4.0M164.2,106.7v4.0M164.9,105.7v4.0M165.6,104.2v4.0M166.3,106.0v4.0M167.0,103.5v4.0M167.7,101.5v4.0M168.5,104.6v4.0M169.2,103.5v4.0M169.9,104.0v4.0M170.6,101.7v4.0M171.3,103.6v4.0M172.0,103.1v4.0M172.8,105.7v4.0M173.5,105.1v4.0M174.2,105.5v4.0M174.9,108.2v4.0M175.6,104.0v4.0M176.3,104.9v4.0M177.1,108.6v4.0M177.8,105.1v4.0M178.5,106.1v4.0M179.2,105.1v4.0M179.9,104.9v4.0M180.6,107.1v4.0M181.3,105.0v4.0M182.1,102.3v4.0M182.8,104.9v4.0M183.5,105.4v4.0M184.2,105.8v4.0M184.9,105.6v4.0M185.6,103.6v4.0M186.4,101.9v4.0M187.1,104.0v4.0M187.8,104.5v4.0M188.5,102.1v4.0M189.2,106.2v4.0M189.9,106.7v4.0M190.7,105.2v4.0M191.4,105.3v4.0M192.1,107.4v4.0M192.8,107.5v4.0M193.5,105.3v4.0M194.2,105.1v4.0M194.9,107.0v4.0M195.7,105.2v4.0M196.4,105.4v4.0M197.1,103.7v4.0M197.8,104.3v4.0M198.5,104.2v4.0M199.2,104.5v4.0M200.0,102.7v4.0M200.7,102.3v4.0M201.4,105.0v4.0M202.1,103.6v4.0M202.8,106.1v4.0M203.5,105.2v4.0M204.2,104.5v4.0M205.0,103.6v4.0M205.7,106.4v4.0M206.4,106.0v4.0M207.1,105.6v4.0M207.8,107.8v4.0M208.5,105.5v4.0M209.3,106.3v4.0M210.0,104.6v4.0M210.7,106.4v4.0M211.4,107.3v4.0M212.1,104.3v4.0M212.8,103.9v4.0M213.6,104.9v4.0M214.3,103.0v4.0M215.0,104.7v4.0M215.7,105.3v4.0M216.4,104.0v4.0" stroke="#f01c1c" stroke-width="0.6" fill="none"/>
<polyline points="48.10,71.89 48.52,72.19 48.94,73.09 49.36,74.56 49.78,76.57 50.20,79.08 50.63,82.03 51.05,85.36 51.47,88.99 51.89,92.83 52.31,96.81 52.73,100.84 53.15,104.82 53.57,108.67 53.99,112.29 54.41,115.62 54.84,118.57 55.26,121.08 55.68,123.09 56.10,124.56 56.52,125.46 56.94,125.76 57.36,125.61 57.78,125.15 58.20,124.39 58.62,123.36 59.05,122.06 59.47,120.53 59.89,118.80 60.31,116.91 60.73,114.88 61.15,112.77 61.57,110.62 61.99,108.46 62.41,106.35 62.84,104.33 63.26,102.43 63.68,100.70 64.10,99.17 64.52,97.88 64.94,96.84 65.36,96.09 65.78,95.63 66.20,95.48 66.62,95.66 67.05,96.19 67.47,97.06 67.89,98.22 68.31,99.64 68.73,101.27 69.15,103.03 69.57,104.86 69.99,106.69 70.41,108.45 70.83,110.07 71.25,111.49 71.68,112.66 72.10,113.52 72.52,114.06 72.94,114.24 73.36,114.13 73.78,113.80 74.20,113.27 74.62,112.54 75.04,111.64 75.47,110.59 75.89,109.43 76.31,108.17 76.73,106.86 77.15,105.53 77.57,104.22 77.99,102.97 78.41,101.80 78.83,100.75 79.25,99.85 79.67,99.13 80.10,98.59 80.52,98.27 80.94,98.16 81.36,98.27 81.78,98.62 82.20,99.20 82.62,99.97 83.04,100.93 83.46,102.04 83.89,103.27 84.31,104.58 84.73,105.93 85.15,107.28 85.57,108.59 85.99,109.81 86.41,110.92 86.83,111.88 87.25,112.66 87.67,113.23 88.09,113.58 88.52,113.70 88.94,113.61 89.36,113.36 89.78,112.94 90.20,112.37 90.62,111.68 91.04,110.88 91.46,110.00 91.88,109.08 92.31,108.14 92.73,107.21 93.15,106.34 93.57,105.54 93.99,104.84 94.41,104.28 94.83,103.86 95.25,103.60 95.67,103.52 96.09,103.56 96.52,103.71 96.94,103.95 97.36,104.27 97.78,104.66 98.20,105.12 98.62,105.63 99.04,106.17 99.46,106.73 99.88,107.29 100.30,107.83 100.72,108.34 101.15,108.80 101.57,109.20 101.99,109.52 102.41,109.75 102.83,109.90 103.25,109.95 103.67,109.91 104.09,109.78 104.51,109.58 104.94,109.31 105.36,108.97 105.78,108.58 106.20,108.15 106.62,107.70 107.04,107.23 107.46,106.77 107.88,106.33 108.30,105.92 108.72,105.56 109.14,105.25 109.57,105.01 109.99,104.85 110.41,104.76 110.83,104.76 111.25,104.83 111.67,104.97 112.09,105.17 112.51,105.42 112.93,105.73 113.35,106.07 113.78,106.44 114.20,106.83 114.62,107.21 115.04,107.59 115.46,107.95 115.88,108.27 116.30,108.56 116.72,108.78 117.14,108.95 117.56,109.06 117.99,109.09 118.41,109.06 118.83,108.96 119.25,108.80 119.67,108.59 120.09,108.33 120.51,108.03 120.93,107.70 121.35,107.34 121.78,106.98 122.20,106.62 122.62,106.28 123.04,105.96 123.46,105.68 123.88,105.44 124.30,105.25 124.72,105.13 125.14,105.06 125.56,105.06 125.99,105.12 126.41,105.24 126.83,105.41 127.25,105.63 127.67,105.90 128.09,106.19 128.51,106.51 128.93,106.85 129.35,107.19 129.77,107.51 130.19,107.82 130.62,108.10 131.04,108.35 131.46,108.55 131.88,108.69 132.30,108.78 132.72,108.81 133.14,108.78 133.56,108.70 133.98,108.56 134.41,108.38 134.83,108.15 135.25,107.89 135.67,107.60 136.09,107.30 136.51,106.98 136.93,106.67 137.35,106.37 137.77,106.10 138.19,105.85 138.62,105.65 139.04,105.49 139.46,105.38 139.88,105.32 140.30,105.32 140.72,105.37 141.14,105.47 141.56,105.62 141.98,105.82 142.40,106.04 142.83,106.30 143.25,106.58 143.67,106.87 144.09,107.16 144.51,107.45 144.93,107.71 145.35,107.96 145.77,108.17 146.19,108.34 146.61,108.47 147.03,108.54 147.46,108.57 147.88,108.55 148.30,108.47 148.72,108.36 149.14,108.20 149.56,108.00 149.98,107.77 150.40,107.52 150.82,107.26 151.25,106.99 151.67,106.72 152.09,106.46 152.51,106.22 152.93,106.01 153.35,105.83 153.77,105.69 154.19,105.59 154.61,105.54 155.03,105.54 155.46,105.59 155.88,105.68 156.30,105.81 156.72,105.97 157.14,106.17 157.56,106.39 157.98,106.64 158.40,106.89 158.82,107.14 159.24,107.39 159.67,107.62 160.09,107.83 160.51,108.01 160.93,108.16 161.35,108.27 161.77,108.34 162.19,108.36 162.61,108.34 163.03,108.28 163.45,108.18 163.88,108.04 164.30,107.87 164.72,107.67 165.14,107.45 165.56,107.22 165.98,106.99 166.40,106.75 166.82,106.53 167.24,106.32 167.66,106.14 168.08,105.98 168.51,105.86 168.93,105.78 169.35,105.74 169.77,105.74 170.19,105.78 170.61,105.85 171.03,105.97 171.45,106.11 171.87,106.28 172.29,106.48 172.72,106.68 173.14,106.90 173.56,107.12 173.98,107.33 174.40,107.54 174.82,107.72 175.24,107.88 175.66,108.01 176.08,108.10 176.50,108.16 176.93,108.18 177.35,108.16 177.77,108.11 178.19,108.02 178.61,107.90 179.03,107.75 179.45,107.58 179.87,107.39 180.29,107.19 180.72,106.99 181.14,106.79 181.56,106.59 181.98,106.41 182.40,106.25 182.82,106.12 183.24,106.01 183.66,105.94 184.08,105.91 184.50,105.91 184.93,105.94 185.35,106.01 185.77,106.10 186.19,106.23 186.61,106.38 187.03,106.55 187.45,106.73 187.87,106.91 188.29,107.10 188.71,107.29 189.13,107.46 189.56,107.62 189.98,107.76 190.40,107.87 190.82,107.96 191.24,108.01 191.66,108.02 192.08,108.01 192.50,107.96 192.92,107.88 193.34,107.78 193.77,107.65 194.19,107.50 194.61,107.34 195.03,107.17 195.45,106.99 195.87,106.82 196.29,106.65 196.71,106.49 197.13,106.35 197.55,106.24 197.98,106.15 198.40,106.08 198.82,106.05 199.24,106.05 199.66,106.08 200.08,106.14 200.50,106.22 200.92,106.33 201.34,106.46 201.76,106.61 202.19,106.76 202.61,106.93 203.03,107.09 203.45,107.25 203.87,107.40 204.29,107.54 204.71,107.66 205.13,107.76 205.55,107.83 205.97,107.87 206.40,107.89 206.82,107.87 207.24,107.83 207.66,107.77 208.08,107.68 208.50,107.56 208.92,107.44 209.34,107.30 209.76,107.15 210.19,106.99 210.61,106.84 211.03,106.69 211.45,106.56 211.87,106.44 212.29,106.34 212.71,106.26 213.13,106.21 213.55,106.18 213.97,106.18 214.40,106.20 214.82,106.25 215.24,106.33 215.66,106.42 216.08,106.53 216.50,106.66" fill="none" stroke="#f01c1c" stroke-width="1.0" stroke-linejoin="round" />
<path d="M47.5,115.6a1.45,1.45 0 1,0 2.9,0a1.45,1.45 0 1,0 -2.9,0M48.2,118.4a1.45,1.45 0 1,0 2.9,0a1.45,1.45 0 1,0 -2.9,0M48.9,123.5a1.45,1.45 0 1,0 2.9,0a1.45,1.45 0 1,0 -2.9,0M49.6,129.7a1.45,1.45 0 1,0 2.9,0a1.45,1.45 0 1,0 -2.9,0M50.4,138.9a1.45,1.45 0 1,0 2.9,0a1.45,1.45 0 1,0 -2.9,0M51.1,146.5a1.45,1.45 0 1,0 2.9,0a1.45,1.45 0 1,0 -2.9,0M51.8,155.1a1.45,1.45 0 1,0 2.9,0a1.45,1.45 0 1,0 -2.9,0M52.5,160.2a1.45,1.45 0 1,0 2.9,0a1.45,1.45 0 1,0 -2.9,0M53.2,163.0a1.45,1.45 0 1,0 2.9,0a1.45,1.45 0 1,0 -2.9,0M53.9,167.9a1.45,1.45 0 1,0 2.9,0a1.45,1.45 0 1,0 -2.9,0M54.6,164.2a1.45,1.45 0 1,0 2.9,0a1.45,1.45 0 1,0 -2.9,0M55.4,166.0a1.45,1.45 0 1,0 2.9,0a1.45,1.45 0 1,0 -2.9,0M56.1,162.0a1.45,1.45 0 1,0 2.9,0a1.45,1.45 0 1,0 -2.9,0M56.8,157.4a1.45,1.45 0 1,0 2.9,0a1.45,1.45 0 1,0 -2.9,0M57.5,151.2a1.45,1.45 0 1,0 2.9,0a1.45,1.45 0 1,0 -2.9,0M58.2,148.4a1.45,1.45 0 1,0 2.9,0a1.45,1.45 0 1,0 -2.9,0M58.9,144.0a1.45,1.45 0 1,0 2.9,0a1.45,1.45 0 1,0 -2.9,0M59.7,136.0a1.45,1.45 0 1,0 2.9,0a1.45,1.45 0 1,0 -2.9,0M60.4,132.0a1.45,1.45 0 1,0 2.9,0a1.45,1.45 0 1,0 -2.9,0M61.1,129.9a1.45,1.45 0 1,0 2.9,0a1.45,1.45 0 1,0 -2.9,0M61.8,126.7a1.45,1.45 0 1,0 2.9,0a1.45,1.45 0 1,0 -2.9,0M62.5,130.4a1.45,1.45 0 1,0 2.9,0a1.45,1.45 0 1,0 -2.9,0M63.2,132.8a1.45,1.45 0 1,0 2.9,0a1.45,1.45 0 1,0 -2.9,0M64.0,135.8a1.45,1.45 0 1,0 2.9,0a1.45,1.45 0 1,0 -2.9,0M64.7,141.0a1.45,1.45 0 1,0 2.9,0a1.45,1.45 0 1,0 -2.9,0M65.4,144.3a1.45,1.45 0 1,0 2.9,0a1.45,1.45 0 1,0 -2.9,0M66.1,152.2a1.45,1.45 0 1,0 2.9,0a1.45,1.45 0 1,0 -2.9,0M66.8,154.8a1.45,1.45 0 1,0 2.9,0a1.45,1.45 0 1,0 -2.9,0M67.5,160.6a1.45,1.45 0 1,0 2.9,0a1.45,1.45 0 1,0 -2.9,0M68.2,156.1a1.45,1.45 0 1,0 2.9,0a1.45,1.45 0 1,0 -2.9,0M69.0,156.6a1.45,1.45 0 1,0 2.9,0a1.45,1.45 0 1,0 -2.9,0M69.7,152.7a1.45,1.45 0 1,0 2.9,0a1.45,1.45 0 1,0 -2.9,0M70.4,147.8a1.45,1.45 0 1,0 2.9,0a1.45,1.45 0 1,0 -2.9,0M71.1,146.2a1.45,1.45 0 1,0 2.9,0a1.45,1.45 0 1,0 -2.9,0M71.8,141.9a1.45,1.45 0 1,0 2.9,0a1.45,1.45 0 1,0 -2.9,0M72.5,137.6a1.45,1.45 0 1,0 2.9,0a1.45,1.45 0 1,0 -2.9,0M73.3,134.1a1.45,1.45 0 1,0 2.9,0a1.45,1.45 0 1,0 -2.9,0M74.0,130.7a1.45,1.45 0 1,0 2.9,0a1.45,1.45 0 1,0 -2.9,0M74.7,127.4a1.45,1.45 0 1,0 2.9,0a1.45,1.45 0 1,0 -2.9,0M75.4,127.6a1.45,1.45 0 1,0 2.9,0a1.45,1.45 0 1,0 -2.9,0M76.1,128.7a1.45,1.45 0 1,0 2.9,0a1.45,1.45 0 1,0 -2.9,0M76.8,131.7a1.45,1.45 0 1,0 2.9,0a1.45,1.45 0 1,0 -2.9,0M77.6,134.4a1.45,1.45 0 1,0 2.9,0a1.45,1.45 0 1,0 -2.9,0M78.3,139.6a1.45,1.45 0 1,0 2.9,0a1.45,1.45 0 1,0 -2.9,0M79.0,145.1a1.45,1.45 0 1,0 2.9,0a1.45,1.45 0 1,0 -2.9,0M79.7,148.6a1.45,1.45 0 1,0 2.9,0a1.45,1.45 0 1,0 -2.9,0M80.4,152.9a1.45,1.45 0 1,0 2.9,0a1.45,1.45 0 1,0 -2.9,0M81.1,156.0a1.45,1.45 0 1,0 2.9,0a1.45,1.45 0 1,0 -2.9,0M81.8,153.2a1.45,1.45 0 1,0 2.9,0a1.45,1.45 0 1,0 -2.9,0M82.6,153.4a1.45,1.45 0 1,0 2.9,0a1.45,1.45 0 1,0 -2.9,0M83.3,153.2a1.45,1.45 0 1,0 2.9,0a1.45,1.45 0 1,0 -2.9,0M84.0,148.1a1.45,1.45 0 1,0 2.9,0a1.45,1.45 0 1,0 -2.9,0M84.7,145.9a1.45,1.45 0 1,0 2.9,0a1.45,1.45 0 1,0 -2.9,0M85.4,144.9a1.45,1.45 0 1,0 2.9,0a1.45,1.45 0 1,0 -2.9,0M86.1,138.3a1.45,1.45 0 1,0 2.9,0a1.45,1.45 0 1,0 -2.9,0M86.9,137.5a1.45,1.45 0 1,0 2.9,0a1.45,1.45 0 1,0 -2.9,0M87.6,135.5a1.45,1.45 0 1,0 2.9,0a1.45,1.45 0 1,0 -2.9,0M88.3,136.0a1.45,1.45 0 1,0 2.9,0a1.45,1.45 0 1,0 -2.9,0M89.0,137.1a1.45,1.45 0 1,0 2.9,0a1.45,1.45 0 1,0 -2.9,0M89.7,140.3a1.45,1.45 0 1,0 2.9,0a1.45,1.45 0 1,0 -2.9,0M90.4,139.5a1.45,1.45 0 1,0 2.9,0a1.45,1.45 0 1,0 -2.9,0M91.1,143.3a1.45,1.45 0 1,0 2.9,0a1.45,1.45 0 1,0 -2.9,0M91.9,146.5a1.45,1.45 0 1,0 2.9,0a1.45,1.45 0 1,0 -2.9,0M92.6,148.5a1.45,1.45 0 1,0 2.9,0a1.45,1.45 0 1,0 -2.9,0M93.3,151.1a1.45,1.45 0 1,0 2.9,0a1.45,1.45 0 1,0 -2.9,0M94.0,152.1a1.45,1.45 0 1,0 2.9,0a1.45,1.45 0 1,0 -2.9,0M94.7,154.2a1.45,1.45 0 1,0 2.9,0a1.45,1.45 0 1,0 -2.9,0M95.4,153.8a1.45,1.45 0 1,0 2.9,0a1.45,1.45 0 1,0 -2.9,0M96.2,155.2a1.45,1.45 0 1,0 2.9,0a1.45,1.45 0 1,0 -2.9,0M96.9,151.3a1.45,1.45 0 1,0 2.9,0a1.45,1.45 0 1,0 -2.9,0M97.6,147.3a1.45,1.45 0 1,0 2.9,0a1.45,1.45 0 1,0 -2.9,0M98.3,143.4a1.45,1.45 0 1,0 2.9,0a1.45,1.45 0 1,0 -2.9,0M99.0,142.3a1.45,1.45 0 1,0 2.9,0a1.45,1.45 0 1,0 -2.9,0M99.7,139.0a1.45,1.45 0 1,0 2.9,0a1.45,1.45 0 1,0 -2.9,0M100.5,134.6a1.45,1.45 0 1,0 2.9,0a1.45,1.45 0 1,0 -2.9,0M101.2,135.2a1.45,1.45 0 1,0 2.9,0a1.45,1.45 0 1,0 -2.9,0M101.9,133.2a1.45,1.45 0 1,0 2.9,0a1.45,1.45 0 1,0 -2.9,0M102.6,132.4a1.45,1.45 0 1,0 2.9,0a1.45,1.45 0 1,0 -2.9,0M103.3,135.5a1.45,1.45 0 1,0 2.9,0a1.45,1.45 0 1,0 -2.9,0M104.0,136.0a1.45,1.45 0 1,0 2.9,0a1.45,1.45 0 1,0 -2.9,0M104.7,140.7a1.45,1.45 0 1,0 2.9,0a1.45,1.45 0 1,0 -2.9,0M105.5,142.3a1.45,1.45 0 1,0 2.9,0a1.45,1.45 0 1,0 -2.9,0M106.2,145.4a1.45,1.45 0 1,0 2.9,0a1.45,1.45 0 1,0 -2.9,0M106.9,147.6a1.45,1.45 0 1,0 2.9,0a1.45,1.45 0 1,0 -2.9,0M107.6,148.3a1.45,1.45 0 1,0 2.9,0a1.45,1.45 0 1,0 -2.9,0M108.3,148.1a1.45,1.45 0 1,0 2.9,0a1.45,1.45 0 1,0 -2.9,0M109.0,152.0a1.45,1.45 0 1,0 2.9,0a1.45,1.45 0 1,0 -2.9,0M109.8,151.4a1.45,1.45 0 1,0 2.9,0a1.45,1.45 0 1,0 -2.9,0M110.5,149.0a1.45,1.45 0 1,0 2.9,0a1.45,1.45 0 1,0 -2.9,0M111.2,149.1a1.45,1.45 0 1,0 2.9,0a1.45,1.45 0 1,0 -2.9,0M111.9,145.2a1.45,1.45 0 1,0 2.9,0a1.45,1.45 0 1,0 -2.9,0M112.6,142.9a1.45,1.45 0 1,0 2.9,0a1.45,1.45 0 1,0 -2.9,0M113.3,141.8a1.45,1.45 0 1,0 2.9,0a1.45,1.45 0 1,0 -2.9,0M114.1,139.0a1.45,1.45 0 1,0 2.9,0a1.45,1.45 0 1,0 -2.9,0M114.8,140.2a1.45,1.45 0 1,0 2.9,0a1.45,1.45 0 1,0 -2.9,0M115.5,136.8a1.45,1.45 0 1,0 2.9,0a1.45,1.45 0 1,0 -2.9,0M116.2,139.6a1.45,1.45 0 1,0 2.9,0a1.45,1.45 0 1,0 -2.9,0M116.9,139.4a1.45,1.45 0 1,0 2.9,0a1.45,1.45 0 1,0 -2.9,0M117.6,140.6a1.45,1.45 0 1,0 2.9,0a1.45,1.45 0 1,0 -2.9,0M118.3,142.3a1.45,1.45 0 1,0 2.9,0a1.45,1.45 0 1,0 -2.9,0M119.1,142.9a1.45,1.45 0 1,0 2.9,0a1.45,1.45 0 1,0 -2.9,0M119.8,145.9a1.45,1.45 0 1,0 2.9,0a1.45,1.45 0 1,0 -2.9,0M120.5,148.3a1.45,1.45 0 1,0 2.9,0a1.45,1.45 0 1,0 -2.9,0M121.2,148.7a1.45,1.45 0 1,0 2.9,0a1.45,1.45 0 1,0 -2.9,0M121.9,148.4a1.45,1.45 0 1,0 2.9,0a1.45,1.45 0 1,0 -2.9,0M122.6,150.5a1.45,1.45 0 1,0 2.9,0a1.45,1.45 0 1,0 -2.9,0M123.4,149.6a1.45,1.45 0 1,0 2.9,0a1.45,1.45 0 1,0 -2.9,0M124.1,147.5a1.45,1.45 0 1,0 2.9,0a1.45,1.45 0 1,0 -2.9,0M124.8,147.1a1.45,1.45 0 1,0 2.9,0a1.45,1.45 0 1,0 -2.9,0M125.5,147.1a1.45,1.45 0 1,0 2.9,0a1.45,1.45 0 1,0 -2.9,0M126.2,140.6a1.45,1.45 0 1,0 2.9,0a1.45,1.45 0 1,0 -2.9,0M126.9,139.0a1.45,1.45 0 1,0 2.9,0a1.45,1.45 0 1,0 -2.9,0M127.7,142.4a1.45,1.45 0 1,0 2.9,0a1.45,1.45 0 1,0 -2.9,0M128.4,138.9a1.45,1.45 0 1,0 2.9,0a1.45,1.45 0 1,0 -2.9,0M129.1,137.9a1.45,1.45 0 1,0 2.9,0a1.45,1.45 0 1,0 -2.9,0M129.8,137.4a1.45,1.45 0 1,0 2.9,0a1.45,1.45 0 1,0 -2.9,0M130.5,138.5a1.45,1.45 0 1,0 2.9,0a1.45,1.45 0 1,0 -2.9,0M131.2,140.8a1.45,1.45 0 1,0 2.9,0a1.45,1.45 0 1,0 -2.9,0M131.9,143.4a1.45,1.45 0 1,0 2.9,0a1.45,1.45 0 1,0 -2.9,0M132.7,143.9a1.45,1.45 0 1,0 2.9,0a1.45,1.45 0 1,0 -2.9,0M133.4,144.7a1.45,1.45 0 1,0 2.9,0a1.45,1.45 0 1,0 -2.9,0M134.1,148.9a1.45,1.45 0 1,0 2.9,0a1.45,1.45 0 1,0 -2.9,0M134.8,150.1a1.45,1.45 0 1,0 2.9,0a1.45,1.45 0 1,0 -2.9,0M135.5,149.7a1.45,1.45 0 1,0 2.9,0a1.45,1.45 0 1,0 -2.9,0M136.2,152.1a1.45,1.45 0 1,0 2.9,0a1.45,1.45 0 1,0 -2.9,0M137.0,149.7a1.45,1.45 0 1,0 2.9,0a1.45,1.45 0 1,0 -2.9,0M137.7,148.9a1.45,1.45 0 1,0 2.9,0a1.45,1.45 0 1,0 -2.9,0M138.4,146.5a1.45,1.45 0 1,0 2.9,0a1.45,1.45 0 1,0 -2.9,0M139.1,146.1a1.45,1.45 0 1,0 2.9,0a1.45,1.45 0 1,0 -2.9,0M139.8,144.5a1.45,1.45 0 1,0 2.9,0a1.45,1.45 0 1,0 -2.9,0M140.5,142.3a1.45,1.45 0 1,0 2.9,0a1.45,1.45 0 1,0 -2.9,0M141.2,140.4a1.45,1.45 0 1,0 2.9,0a1.45,1.45 0 1,0 -2.9,0M142.0,140.2a1.45,1.45 0 1,0 2.9,0a1.45,1.45 0 1,0 -2.9,0M142.7,139.0a1.45,1.45 0 1,0 2.9,0a1.45,1.45 0 1,0 -2.9,0M143.4,138.2a1.45,1.45 0 1,0 2.9,0a1.45,1.45 0 1,0 -2.9,0M144.1,138.4a1.45,1.45 0 1,0 2.9,0a1.45,1.45 0 1,0 -2.9,0M144.8,139.0a1.45,1.45 0 1,0 2.9,0a1.45,1.45 0 1,0 -2.9,0M145.5,143.4a1.45,1.45 0 1,0 2.9,0a1.45,1.45 0 1,0 -2.9,0M146.3,144.7a1.45,1.45 0 1,0 2.9,0a1.45,1.45 0 1,0 -2.9,0M147.0,148.8a1.45,1.45 0 1,0 2.9,0a1.45,1.45 0 1,0 -2.9,0M147.7,145.1a1.45,1.45 0 1,0 2.9,0a1.45,1.45 0 1,0 -2.9,0M148.4,149.3a1.45,1.45 0 1,0 2.9,0a1.45,1.45 0 1,0 -2.9,0M149.1,149.2a1.45,1.45 0 1,0 2.9,0a1.45,1.45 0 1,0 -2.9,0M149.8,148.6a1.45,1.45 0 1,0 2.9,0a1.45,1.45 0 1,0 -2.9,0M150.6,150.4a1.45,1.45 0 1,0 2.9,0a1.45,1.45 0 1,0 -2.9,0M151.3,147.4a1.45,1.45 0 1,0 2.9,0a1.45,1.45 0 1,0 -2.9,0M152.0,146.7a1.45,1.45 0 1,0 2.9,0a1.45,1.45 0 1,0 -2.9,0M152.7,147.3a1.45,1.45 0 1,0 2.9,0a1.45,1.45 0 1,0 -2.9,0M153.4,143.1a1.45,1.45 0 1,0 2.9,0a1.45,1.45 0 1,0 -2.9,0M154.1,140.6a1.45,1.45 0 1,0 2.9,0a1.45,1.45 0 1,0 -2.9,0M154.8,142.9a1.45,1.45 0 1,0 2.9,0a1.45,1.45 0 1,0 -2.9,0M155.6,138.9a1.45,1.45 0 1,0 2.9,0a1.45,1.45 0 1,0 -2.9,0M156.3,139.3a1.45,1.45 0 1,0 2.9,0a1.45,1.45 0 1,0 -2.9,0M157.0,139.1a1.45,1.45 0 1,0 2.9,0a1.45,1.45 0 1,0 -2.9,0M157.7,139.8a1.45,1.45 0 1,0 2.9,0a1.45,1.45 0 1,0 -2.9,0M158.4,139.9a1.45,1.45 0 1,0 2.9,0a1.45,1.45 0 1,0 -2.9,0M159.1,143.0a1.45,1.45 0 1,0 2.9,0a1.45,1.45 0 1,0 -2.9,0M159.9,143.2a1.45,1.45 0 1,0 2.9,0a1.45,1.45 0 1,0 -2.9,0M160.6,146.2a1.45,1.45 0 1,0 2.9,0a1.45,1.45 0 1,0 -2.9,0M161.3,146.2a1.45,1.45 0 1,0 2.9,0a1.45,1.45 0 1,0 -2.9,0M162.0,149.0a1.45,1.45 0 1,0 2.9,0a1.45,1.45 0 1,0 -2.9,0M162.7,148.8a1.45,1.45 0 1,0 2.9,0a1.45,1.45 0 1,0 -2.9,0M163.4,146.7a1.45,1.45 0 1,0 2.9,0a1.45,1.45 0 1,0 -2.9,0M164.2,147.8a1.45,1.45 0 1,0 2.9,0a1.45,1.45 0 1,0 -2.9,0M164.9,147.7a1.45,1.45 0 1,0 2.9,0a1.45,1.45 0 1,0 -2.9,0M165.6,147.7a1.45,1.45 0 1,0 2.9,0a1.45,1.45 0 1,0 -2.9,0M166.3,145.9a1.45,1.45 0 1,0 2.9,0a1.45,1.45 0 1,0 -2.9,0M167.0,143.3a1.45,1.45 0 1,0 2.9,0a1.45,1.45 0 1,0 -2.9,0M167.7,141.0a1.45,1.45 0 1,0 2.9,0a1.45,1.45 0 1,0 -2.9,0M168.4,140.5a1.45,1.45 0 1,0 2.9,0a1.45,1.45 0 1,0 -2.9,0M169.2,139.7a1.45,1.45 0 1,0 2.9,0a1.45,1.45 0 1,0 -2.9,0M169.9,140.1a1.45,1.45 0 1,0 2.9,0a1.45,1.45 0 1,0 -2.9,0M170.6,138.6a1.45,1.45 0 1,0 2.9,0a1.45,1.45 0 1,0 -2.9,0M171.3,141.2a1.45,1.45 0 1,0 2.9,0a1.45,1.45 0 1,0 -2.9,0M172.0,142.4a1.45,1.45 0 1,0 2.9,0a1.45,1.45 0 1,0 -2.9,0M172.7,141.9a1.45,1.45 0 1,0 2.9,0a1.45,1.45 0 1,0 -2.9,0M173.5,144.3a1.45,1.45 0 1,0 2.9,0a1.45,1.45 0 1,0 -2.9,0M174.2,146.0a1.45,1.45 0 1,0 2.9,0a1.45,1.45 0 1,0 -2.9,0M174.9,147.5a1.45,1.45 0 1,0 2.9,0a1.45,1.45 0 1,0 -2.9,0M175.6,148.0a1.45,1.45 0 1,0 2.9,0a1.45,1.45 0 1,0 -2.9,0M176.3,147.5a1.45,1.45 0 1,0 2.9,0a1.45,1.45 0 1,0 -2.9,0M177.0,147.8a1.45,1.45 0 1,0 2.9,0a1.45,1.45 0 1,0 -2.9,0M177.7,149.3a1.45,1.45 0 1,0 2.9,0a1.45,1.45 0 1,0 -2.9,0M178.5,146.6a1.45,1.45 0 1,0 2.9,0a1.45,1.45 0 1,0 -2.9,0M179.2,145.8a1.45,1.45 0 1,0 2.9,0a1.45,1.45 0 1,0 -2.9,0M179.9,146.0a1.45,1.45 0 1,0 2.9,0a1.45,1.45 0 1,0 -2.9,0M180.6,142.6a1.45,1.45 0 1,0 2.9,0a1.45,1.45 0 1,0 -2.9,0M181.3,142.6a1.45,1.45 0 1,0 2.9,0a1.45,1.45 0 1,0 -2.9,0M182.0,141.7a1.45,1.45 0 1,0 2.9,0a1.45,1.45 0 1,0 -2.9,0M182.8,139.7a1.45,1.45 0 1,0 2.9,0a1.45,1.45 0 1,0 -2.9,0M183.5,138.9a1.45,1.45 0 1,0 2.9,0a1.45,1.45 0 1,0 -2.9,0M184.2,141.4a1.45,1.45 0 1,0 2.9,0a1.45,1.45 0 1,0 -2.9,0M184.9,140.7a1.45,1.45 0 1,0 2.9,0a1.45,1.45 0 1,0 -2.9,0M185.6,143.1a1.45,1.45 0 1,0 2.9,0a1.45,1.45 0 1,0 -2.9,0M186.3,140.5a1.45,1.45 0 1,0 2.9,0a1.45,1.45 0 1,0 -2.9,0M187.1,145.0a1.45,1.45 0 1,0 2.9,0a1.45,1.45 0 1,0 -2.9,0M187.8,144.2a1.45,1.45 0 1,0 2.9,0a1.45,1.45 0 1,0 -2.9,0M188.5,147.4a1.45,1.45 0 1,0 2.9,0a1.45,1.45 0 1,0 -2.9,0M189.2,146.4a1.45,1.45 0 1,0 2.9,0a1.45,1.45 0 1,0 -2.9,0M189.9,145.2a1.45,1.45 0 1,0 2.9,0a1.45,1.45 0 1,0 -2.9,0M190.6,150.8a1.45,1.45 0 1,0 2.9,0a1.45,1.45 0 1,0 -2.9,0M191.3,148.0a1.45,1.45 0 1,0 2.9,0a1.45,1.45 0 1,0 -2.9,0M192.1,146.2a1.45,1.45 0 1,0 2.9,0a1.45,1.45 0 1,0 -2.9,0M192.8,145.9a1.45,1.45 0 1,0 2.9,0a1.45,1.45 0 1,0 -2.9,0M193.5,145.4a1.45,1.45 0 1,0 2.9,0a1.45,1.45 0 1,0 -2.9,0M194.2,141.0a1.45,1.45 0 1,0 2.9,0a1.45,1.45 0 1,0 -2.9,0M194.9,142.3a1.45,1.45 0 1,0 2.9,0a1.45,1.45 0 1,0 -2.9,0M195.6,143.5a1.45,1.45 0 1,0 2.9,0a1.45,1.45 0 1,0 -2.9,0M196.4,140.0a1.45,1.45 0 1,0 2.9,0a1.45,1.45 0 1,0 -2.9,0M197.1,142.9a1.45,1.45 0 1,0 2.9,0a1.45,1.45 0 1,0 -2.9,0M197.8,139.7a1.45,1.45 0 1,0 2.9,0a1.45,1.45 0 1,0 -2.9,0M198.5,142.2a1.45,1.45 0 1,0 2.9,0a1.45,1.45 0 1,0 -2.9,0M199.2,142.2a1.45,1.45 0 1,0 2.9,0a1.45,1.45 0 1,0 -2.9,0M199.9,141.9a1.45,1.45 0 1,0 2.9,0a1.45,1.45 0 1,0 -2.9,0M200.7,144.3a1.45,1.45 0 1,0 2.9,0a1.45,1.45 0 1,0 -2.9,0M201.4,147.2a1.45,1.45 0 1,0 2.9,0a1.45,1.45 0 1,0 -2.9,0M202.1,148.4a1.45,1.45 0 1,0 2.9,0a1.45,1.45 0 1,0 -2.9,0M202.8,145.7a1.45,1.45 0 1,0 2.9,0a1.45,1.45 0 1,0 -2.9,0M203.5,146.6a1.45,1.45 0 1,0 2.9,0a1.45,1.45 0 1,0 -2.9,0M204.2,148.4a1.45,1.45 0 1,0 2.9,0a1.45,1.45 0 1,0 -2.9,0M204.9,146.1a1.45,1.45 0 1,0 2.9,0a1.45,1.45 0 1,0 -2.9,0M205.7,145.9a1.45,1.45 0 1,0 2.9,0a1.45,1.45 0 1,0 -2.9,0M206.4,144.8a1.45,1.45 0 1,0 2.9,0a1.45,1.45 0 1,0 -2.9,0M207.1,147.2a1.45,1.45 0 1,0 2.9,0a1.45,1.45 0 1,0 -2.9,0M207.8,143.9a1.45,1.45 0 1,0 2.9,0a1.45,1.45 0 1,0 -2.9,0M208.5,141.5a1.45,1.45 0 1,0 2.9,0a1.45,1.45 0 1,0 -2.9,0M209.2,141.0a1.45,1.45 0 1,0 2.9,0a1.45,1.45 0 1,0 -2.9,0M210.0,140.3a1.45,1.45 0 1,0 2.9,0a1.45,1.45 0 1,0 -2.9,0M210.7,144.1a1.45,1.45 0 1,0 2.9,0a1.45,1.45 0 1,0 -2.9,0M211.4,141.2a1.45,1.45 0 1,0 2.9,0a1.45,1.45 0 1,0 -2.9,0M212.1,141.3a1.45,1.45 0 1,0 2.9,0a1.45,1.45 0 1,0 -2.9,0M212.8,139.6a1.45,1.45 0 1,0 2.9,0a1.45,1.45 0 1,0 -2.9,0M213.5,144.6a1.45,1.45 0 1,0 2.9,0a1.45,1.45 0 1,0 -2.9,0M214.3,144.9a1.45,1.45 0 1,0 2.9,0a1.45,1.45 0 1,0 -2.9,0M215.0,145.4a1.45,1.45 0 1,0 2.9,0a1.45,1.45 0 1,0 -2.9,0" fill="#2323c8" opacity="1"/>
<path d="M48.9,113.6v4.0M49.7,116.4v4.0M50.4,121.5v4.0M51.1,127.7v4.0M51.8,136.9v4.0M52.5,144.5v4.0M53.2,153.1v4.0M54.0,158.2v4.0M54.7,161.0v4.0M55.4,165.9v4.0M56.1,162.2v4.0M56.8,164.0v4.0M57.5,160.0v4.0M58.2,155.4v4.0M59.0,149.2v4.0M59.7,146.4v4.0M60.4,142.0v4.0M61.1,134.0v4.0M61.8,130.0v4.0M62.5,127.9v4.0M63.3,124.7v4.0M64.0,128.4v4.0M64.7,130.8v4.0M65.4,133.8v4.0M66.1,139.0v4.0M66.8,142.3v4.0M67.6,150.2v4.0M68.3,152.8v4.0M69.0,158.6v4.0M69.7,154.1v4.0M70.4,154.6v4.0M71.1,150.7v4.0M71.8,145.8v4.0M72.6,144.2v4.0M73.3,139.9v4.0M74.0,135.6v4.0M74.7,132.1v4.0M75.4,128.7v4.0M76.1,125.4v4.0M76.9,125.6v4.0M77.6,126.7v4.0M78.3,129.7v4.0M79.0,132.4v4.0M79.7,137.6v4.0M80.4,143.1v4.0M81.1,146.6v4.0M81.9,150.9v4.0M82.6,154.0v4.0M83.3,151.2v4.0M84.0,151.4v4.0M84.7,151.2v4.0M85.4,146.1v4.0M86.2,143.9v4.0M86.9,142.9v4.0M87.6,136.3v4.0M88.3,135.5v4.0M89.0,133.5v4.0M89.7,134.0v4.0M90.5,135.1v4.0M91.2,138.3v4.0M91.9,137.5v4.0M92.6,141.3v4.0M93.3,144.5v4.0M94.0,146.5v4.0M94.7,149.1v4.0M95.5,150.1v4.0M96.2,152.2v4.0M96.9,151.8v4.0M97.6,153.2v4.0M98.3,149.3v4.0M99.0,145.3v4.0M99.8,141.4v4.0M100.5,140.3v4.0M101.2,137.0v4.0M101.9,132.6v4.0M102.6,133.2v4.0M103.3,131.2v4.0M104.1,130.4v4.0M104.8,133.5v4.0M105.5,134.0v4.0M106.2,138.7v4.0M106.9,140.3v4.0M107.6,143.4v4.0M108.3,145.6v4.0M109.1,146.3v4.0M109.8,146.1v4.0M110.5,150.0v4.0M111.2,149.4v4.0M111.9,147.0v4.0M112.6,147.1v4.0M113.4,143.2v4.0M114.1,140.9v4.0M114.8,139.8v4.0M115.5,137.0v4.0M116.2,138.2v4.0M116.9,134.8v4.0M117.6,137.6v4.0M118.4,137.4v4.0M119.1,138.6v4.0M119.8,140.3v4.0M120.5,140.9v4.0M121.2,143.9v4.0M121.9,146.3v4.0M122.7,146.7v4.0M123.4,146.4v4.0M124.1,148.5v4.0M124.8,147.6v4.0M125.5,145.5v4.0M126.2,145.1v4.0M127.0,145.1v4.0M127.7,138.6v4.0M128.4,137.0v4.0M129.1,140.4v4.0M129.8,136.9v4.0M130.5,135.9v4.0M131.2,135.4v4.0M132.0,136.5v4.0M132.7,138.8v4.0M133.4,141.4v4.0M134.1,141.9v4.0M134.8,142.7v4.0M135.5,146.9v4.0M136.3,148.1v4.0M137.0,147.7v4.0M137.7,150.1v4.0M138.4,147.7v4.0M139.1,146.9v4.0M139.8,144.5v4.0M140.6,144.1v4.0M141.3,142.5v4.0M142.0,140.3v4.0M142.7,138.4v4.0M143.4,138.2v4.0M144.1,137.0v4.0M144.8,136.2v4.0M145.6,136.4v4.0M146.3,137.0v4.0M147.0,141.4v4.0M147.7,142.7v4.0M148.4,146.8v4.0M149.1,143.1v4.0M149.9,147.3v4.0M150.6,147.2v4.0M151.3,146.6v4.0M152.0,148.4v4.0M152.7,145.4v4.0M153.4,144.7v4.0M154.1,145.3v4.0M154.9,141.1v4.0M155.6,138.6v4.0M156.3,140.9v4.0M157.0,136.9v4.0M157.7,137.3v4.0M158.4,137.1v4.0M159.2,137.8v4.0M159.9,137.9v4.0M160.6,141.0v4.0M161.3,141.2v4.0M162.0,144.2v4.0M162.7,144.2v4.0M163.5,147.0v4.0M164.2,146.8v4.0M164.9,144.7v4.0M165.6,145.8v4.0M166.3,145.7v4.0M167.0,145.7v4.0M167.7,143.9v4.0M168.5,141.3v4.0M169.2,139.0v4.0M169.9,138.5v4.0M170.6,137.7v4.0M171.3,138.1v4.0M172.0,136.6v4.0M172.8,139.2v4.0M173.5,140.4v4.0M174.2,139.9v4.0M174.9,142.3v4.0M175.6,144.0v4.0M176.3,145.5v4.0M177.1,146.0v4.0M177.8,145.5v4.0M178.5,145.8v4.0M179.2,147.3v4.0M179.9,144.6v4.0M180.6,143.8v4.0M181.3,144.0v4.0M182.1,140.6v4.0M182.8,140.6v4.0M183.5,139.7v4.0M184.2,137.7v4.0M184.9,136.9v4.0M185.6,139.4v4.0M186.4,138.7v4.0M187.1,141.1v4.0M187.8,138.5v4.0M188.5,143.0v4.0M189.2,142.2v4.0M189.9,145.4v4.0M190.7,144.4v4.0M191.4,143.2v4.0M192.1,148.8v4.0M192.8,146.0v4.0M193.5,144.2v4.0M194.2,143.9v4.0M194.9,143.4v4.0M195.7,139.0v4.0M196.4,140.3v4.0M197.1,141.5v4.0M197.8,138.0v4.0M198.5,140.9v4.0M199.2,137.7v4.0M200.0,140.2v4.0M200.7,140.2v4.0M201.4,139.9v4.0M202.1,142.3v4.0M202.8,145.2v4.0M203.5,146.4v4.0M204.2,143.7v4.0M205.0,144.6v4.0M205.7,146.4v4.0M206.4,144.1v4.0M207.1,143.9v4.0M207.8,142.8v4.0M208.5,145.2v4.0M209.3,141.9v4.0M210.0,139.5v4.0M210.7,139.0v4.0M211.4,138.3v4.0M212.1,142.1v4.0M212.8,139.2v4.0M213.6,139.3v4.0M214.3,137.6v4.0M215.0,142.6v4.0M215.7,142.9v4.0M216.4,143.4v4.0" stroke="#2323c8" stroke-width="0.6" fill="none"/>
<polyline points="48.10,112.09 48.52,112.51 48.94,113.76 49.36,115.79 49.78,118.55 50.20,121.95 50.63,125.89 51.05,130.25 51.47,134.90 51.89,139.70 52.31,144.49 52.73,149.14 53.15,153.50 53.57,157.44 53.99,160.84 54.41,163.60 54.84,165.64 55.26,166.88 55.68,167.30 56.10,167.01 56.52,166.17 56.94,164.79 57.36,162.91 57.78,160.60 58.20,157.92 58.62,154.96 59.05,151.80 59.47,148.54 59.89,145.28 60.31,142.12 60.73,139.16 61.15,136.48 61.57,134.17 61.99,132.29 62.41,130.91 62.84,130.07 63.26,129.78 63.68,130.08 64.10,130.96 64.52,132.39 64.94,134.30 65.36,136.61 65.78,139.22 66.20,142.02 66.62,144.88 67.05,147.67 67.47,150.28 67.89,152.59 68.31,154.51 68.73,155.93 69.15,156.82 69.57,157.12 69.99,156.87 70.41,156.12 70.83,154.91 71.25,153.27 71.68,151.26 72.10,148.95 72.52,146.41 72.94,143.74 73.36,141.02 73.78,138.34 74.20,135.81 74.62,133.49 75.04,131.48 75.47,129.84 75.89,128.63 76.31,127.89 76.73,127.64 77.15,127.93 77.57,128.82 77.99,130.25 78.41,132.16 78.83,134.47 79.25,137.08 79.67,139.88 80.10,142.73 80.52,145.53 80.94,148.14 81.36,150.45 81.78,152.36 82.20,153.79 82.62,154.67 83.04,154.97 83.46,154.78 83.89,154.21 84.31,153.29 84.73,152.05 85.15,150.55 85.57,148.85 85.99,147.01 86.41,145.12 86.83,143.24 87.25,141.46 87.67,139.85 88.09,138.47 88.52,137.39 88.94,136.64 89.36,136.26 89.78,136.25 90.20,136.57 90.62,137.20 91.04,138.10 91.46,139.26 91.88,140.63 92.31,142.16 92.73,143.80 93.15,145.48 93.57,147.14 93.99,148.73 94.41,150.19 94.83,151.46 95.25,152.50 95.67,153.27 96.09,153.74 96.52,153.90 96.94,153.72 97.36,153.19 97.78,152.33 98.20,151.16 98.62,149.74 99.04,148.10 99.46,146.32 99.88,144.46 100.30,142.57 100.72,140.74 101.15,139.03 101.57,137.49 101.99,136.19 102.41,135.17 102.83,134.47 103.25,134.11 103.67,134.11 104.09,134.42 104.51,135.02 104.94,135.90 105.36,137.03 105.78,138.36 106.20,139.84 106.62,141.42 107.04,143.05 107.46,144.67 107.88,146.21 108.30,147.62 108.72,148.85 109.14,149.86 109.57,150.61 109.99,151.07 110.41,151.22 110.83,151.09 111.25,150.71 111.67,150.09 112.09,149.26 112.51,148.24 112.93,147.08 113.35,145.82 113.78,144.50 114.20,143.19 114.62,141.92 115.04,140.75 115.46,139.71 115.88,138.86 116.30,138.22 116.72,137.81 117.14,137.66 117.56,137.76 117.99,138.09 118.41,138.66 118.83,139.43 119.25,140.37 119.67,141.46 120.09,142.65 120.51,143.89 120.93,145.14 121.35,146.34 121.78,147.46 122.20,148.46 122.62,149.28 123.04,149.91 123.46,150.32 123.88,150.49 124.30,150.42 124.72,150.12 125.14,149.61 125.56,148.90 125.99,148.02 126.41,147.00 126.83,145.89 127.25,144.72 127.67,143.53 128.09,142.38 128.51,141.31 128.93,140.36 129.35,139.56 129.77,138.94 130.19,138.54 130.62,138.35 131.04,138.40 131.46,138.66 131.88,139.12 132.30,139.78 132.72,140.60 133.14,141.55 133.56,142.60 133.98,143.70 134.41,144.82 134.83,145.91 135.25,146.94 135.67,147.85 136.09,148.63 136.51,149.23 136.93,149.63 137.35,149.83 137.77,149.81 138.19,149.58 138.62,149.16 139.04,148.56 139.46,147.80 139.88,146.91 140.30,145.92 140.72,144.88 141.14,143.82 141.56,142.78 141.98,141.80 142.40,140.93 142.83,140.18 143.25,139.59 143.67,139.19 144.09,138.98 144.51,138.98 144.93,139.18 145.35,139.56 145.77,140.11 146.19,140.82 146.61,141.65 147.03,142.58 147.46,143.56 147.88,144.56 148.30,145.55 148.72,146.48 149.14,147.32 149.56,148.04 149.98,148.61 150.40,149.01 150.82,149.23 151.25,149.25 151.67,149.08 152.09,148.74 152.51,148.23 152.93,147.57 153.35,146.80 153.77,145.93 154.19,145.00 154.61,144.05 155.03,143.12 155.46,142.23 155.88,141.42 156.30,140.73 156.72,140.17 157.14,139.78 157.56,139.55 157.98,139.52 158.40,139.66 158.82,139.97 159.24,140.43 159.67,141.04 160.09,141.77 160.51,142.58 160.93,143.45 161.35,144.35 161.77,145.24 162.19,146.09 162.61,146.86 163.03,147.53 163.45,148.07 163.88,148.46 164.30,148.69 164.72,148.74 165.14,148.62 165.56,148.34 165.98,147.92 166.40,147.35 166.82,146.68 167.24,145.92 167.66,145.09 168.08,144.24 168.51,143.40 168.93,142.59 169.35,141.85 169.77,141.21 170.19,140.68 170.61,140.30 171.03,140.07 171.45,140.00 171.87,140.10 172.29,140.35 172.72,140.74 173.14,141.26 173.56,141.89 173.98,142.60 174.40,143.38 174.82,144.18 175.24,144.98 175.66,145.75 176.08,146.46 176.50,147.08 176.93,147.59 177.35,147.96 177.77,148.20 178.19,148.27 178.61,148.20 179.03,147.98 179.45,147.62 179.87,147.14 180.29,146.55 180.72,145.88 181.14,145.16 181.56,144.40 181.98,143.64 182.40,142.91 182.82,142.23 183.24,141.63 183.66,141.14 184.08,140.77 184.50,140.53 184.93,140.45 185.35,140.50 185.77,140.70 186.19,141.02 186.61,141.47 187.03,142.01 187.45,142.64 187.87,143.33 188.29,144.04 188.71,144.76 189.13,145.46 189.56,146.11 189.98,146.68 190.40,147.16 190.82,147.52 191.24,147.75 191.66,147.85 192.08,147.81 192.50,147.64 192.92,147.34 193.34,146.93 193.77,146.43 194.19,145.84 194.61,145.20 195.03,144.52 195.45,143.84 195.87,143.17 196.29,142.56 196.71,142.01 197.13,141.54 197.55,141.19 197.98,140.95 198.40,140.85 198.82,140.87 199.24,141.02 199.66,141.29 200.08,141.67 200.50,142.14 200.92,142.69 201.34,143.30 201.76,143.93 202.19,144.58 202.61,145.21 203.03,145.80 203.45,146.33 203.87,146.78 204.29,147.12 204.71,147.36 205.13,147.47 205.55,147.46 205.97,147.33 206.40,147.08 206.82,146.74 207.24,146.30 207.66,145.78 208.08,145.22 208.50,144.61 208.92,144.00 209.34,143.40 209.76,142.84 210.19,142.33 210.61,141.90 211.03,141.56 211.45,141.33 211.87,141.21 212.29,141.21 212.71,141.32 213.13,141.54 213.55,141.86 213.97,142.27 214.40,142.75 214.82,143.28 215.24,143.85 215.66,144.43 216.08,145.00 216.50,145.54" fill="none" stroke="#2323c8" stroke-width="1.0" stroke-linejoin="round" />
<path d="M47.5,151.8a1.4,1.4 0 1,0 2.8,0a1.4,1.4 0 1,0 -2.8,0" fill="#2323c8" opacity="1"/>
<rect x="39.6" y="6.5" width="176.90" height="166.20" fill="none" stroke="#1a1a1a" stroke-width="1.1"/>
<line x1="39.6" y1="167.30" x2="44.6" y2="167.30" stroke="#1a1a1a" stroke-width="1"/>
<line x1="39.6" y1="140.50" x2="44.6" y2="140.50" stroke="#1a1a1a" stroke-width="1"/>
<line x1="39.6" y1="113.70" x2="44.6" y2="113.70" stroke="#1a1a1a" stroke-width="1"/>
<line x1="39.6" y1="86.90" x2="44.6" y2="86.90" stroke="#1a1a1a" stroke-width="1"/>
<line x1="39.6" y1="60.10" x2="44.6" y2="60.10" stroke="#1a1a1a" stroke-width="1"/>
<line x1="39.6" y1="33.30" x2="44.6" y2="33.30" stroke="#1a1a1a" stroke-width="1"/>
<line x1="39.6" y1="6.50" x2="44.6" y2="6.50" stroke="#1a1a1a" stroke-width="1"/>
<line x1="39.6" y1="153.90" x2="42.6" y2="153.90" stroke="#1a1a1a" stroke-width="1"/>
<line x1="39.6" y1="127.10" x2="42.6" y2="127.10" stroke="#1a1a1a" stroke-width="1"/>
<line x1="39.6" y1="100.30" x2="42.6" y2="100.30" stroke="#1a1a1a" stroke-width="1"/>
<line x1="39.6" y1="73.50" x2="42.6" y2="73.50" stroke="#1a1a1a" stroke-width="1"/>
<line x1="39.6" y1="46.70" x2="42.6" y2="46.70" stroke="#1a1a1a" stroke-width="1"/>
<line x1="39.6" y1="19.90" x2="42.6" y2="19.90" stroke="#1a1a1a" stroke-width="1"/>
<text x="36.60" y="170.40" font-size="8.6" text-anchor="end" fill="#222">0.0</text>
<text x="36.60" y="143.60" font-size="8.6" text-anchor="end" fill="#222">0.5</text>
<text x="36.60" y="116.80" font-size="8.6" text-anchor="end" fill="#222">1.0</text>
<text x="36.60" y="90.00" font-size="8.6" text-anchor="end" fill="#222">1.5</text>
<text x="36.60" y="63.20" font-size="8.6" text-anchor="end" fill="#222">2.0</text>
<text x="36.60" y="36.40" font-size="8.6" text-anchor="end" fill="#222">2.5</text>
<text x="36.60" y="9.60" font-size="8.6" text-anchor="end" fill="#222">3.0</text>
<line x1="48.10" y1="172.7" x2="48.10" y2="168.2" stroke="#1a1a1a" stroke-width="1"/>
<line x1="90.20" y1="172.7" x2="90.20" y2="168.2" stroke="#1a1a1a" stroke-width="1"/>
<line x1="132.30" y1="172.7" x2="132.30" y2="168.2" stroke="#1a1a1a" stroke-width="1"/>
<line x1="174.40" y1="172.7" x2="174.40" y2="168.2" stroke="#1a1a1a" stroke-width="1"/>
<line x1="216.50" y1="172.7" x2="216.50" y2="168.2" stroke="#1a1a1a" stroke-width="1"/>
<line x1="58.62" y1="172.7" x2="58.62" y2="170.2" stroke="#1a1a1a" stroke-width="1"/>
<line x1="69.15" y1="172.7" x2="69.15" y2="170.2" stroke="#1a1a1a" stroke-width="1"/>
<line x1="79.68" y1="172.7" x2="79.68" y2="170.2" stroke="#1a1a1a" stroke-width="1"/>
<line x1="100.72" y1="172.7" x2="100.72" y2="170.2" stroke="#1a1a1a" stroke-width="1"/>
<line x1="111.25" y1="172.7" x2="111.25" y2="170.2" stroke="#1a1a1a" stroke-width="1"/>
<line x1="121.78" y1="172.7" x2="121.78" y2="170.2" stroke="#1a1a1a" stroke-width="1"/>
<line x1="142.83" y1="172.7" x2="142.83" y2="170.2" stroke="#1a1a1a" stroke-width="1"/>
<line x1="153.35" y1="172.7" x2="153.35" y2="170.2" stroke="#1a1a1a" stroke-width="1"/>
<line x1="163.88" y1="172.7" x2="163.88" y2="170.2" stroke="#1a1a1a" stroke-width="1"/>
<line x1="184.93" y1="172.7" x2="184.93" y2="170.2" stroke="#1a1a1a" stroke-width="1"/>
<line x1="195.45" y1="172.7" x2="195.45" y2="170.2" stroke="#1a1a1a" stroke-width="1"/>
<line x1="205.97" y1="172.7" x2="205.97" y2="170.2" stroke="#1a1a1a" stroke-width="1"/>
<text x="48.10" y="182.30" font-size="8.6" text-anchor="middle" fill="#222">0.0</text>
<text x="90.20" y="182.30" font-size="8.6" text-anchor="middle" fill="#222">0.1</text>
<text x="132.30" y="182.30" font-size="8.6" text-anchor="middle" fill="#222">0.2</text>
<text x="174.40" y="182.30" font-size="8.6" text-anchor="middle" fill="#222">0.3</text>
<text x="216.50" y="182.30" font-size="8.6" text-anchor="middle" fill="#222">0.4</text>
<text x="132.8" y="17.2" font-size="9.3" font-weight="bold" text-anchor="middle" fill="#111">P = 0 GPa</text>
<text x="187" y="49.4" font-size="9.3" text-anchor="middle" fill="#1a1a1a">100 K</text>
<text x="184.2" y="84.1" font-size="9.3" text-anchor="middle" fill="#3a98f0">90 K</text>
<text x="184.4" y="123.2" font-size="9.3" text-anchor="middle" fill="#e01c1c">70 K</text>
<text x="185.4" y="161.3" font-size="9.3" text-anchor="middle" fill="#2323c8">6.5 K</text>
<text x="128.3" y="199" font-size="12" letter-spacing="0.75" text-anchor="middle" fill="#111"><tspan font-style="italic">t</tspan> (μs)</text>
<g transform="translate(13.3,89.6) rotate(-90)"><text x="0" y="0" font-size="12" letter-spacing="0.5" text-anchor="middle" fill="#111"><tspan font-style="italic">G</tspan><tspan font-size="8.6" dy="2.9">mag</tspan></text></g>
<text x="2.6" y="10.7" font-size="16.6" font-weight="bold" fill="#000">a</text>
<polyline points="278.02,12.95 278.45,13.20 278.87,13.96 279.29,15.20 279.71,16.89 280.14,19.00 280.56,21.46 280.98,24.22 281.40,27.21 281.83,30.36 282.25,33.59 282.67,36.82 283.09,39.97 283.52,42.96 283.94,45.72 284.36,48.18 284.78,50.29 285.21,51.98 285.63,53.22 286.05,53.98 286.47,54.23 286.90,54.16 287.32,53.96 287.74,53.62 288.16,53.15 288.59,52.57 289.01,51.87 289.43,51.07 289.85,50.19 290.28,49.23 290.70,48.21 291.12,47.15 291.54,46.07 291.97,44.98 292.39,43.89 292.81,42.83 293.23,41.82 293.66,40.86 294.08,39.97 294.50,39.18 294.92,38.48 295.35,37.89 295.77,37.43 296.19,37.09 296.61,36.88 297.04,36.82 297.46,37.07 297.88,37.80 298.30,38.91 298.73,40.28 299.15,41.74 299.57,43.10 299.99,44.22 300.42,44.95 300.84,45.20 301.26,45.06 301.68,44.65 302.11,43.98 302.53,43.11 302.95,42.08 303.37,40.95 303.80,39.78 304.22,38.65 304.64,37.61 305.06,36.74 305.49,36.08 305.91,35.67 306.33,35.53 306.75,35.57 307.18,35.69 307.60,35.90 308.02,36.18 308.44,36.54 308.87,36.96 309.29,37.44 309.71,37.96 310.13,38.53 310.56,39.12 310.98,39.73 311.40,40.35 311.82,40.96 312.25,41.55 312.67,42.12 313.09,42.64 313.51,43.12 313.94,43.54 314.36,43.90 314.78,44.18 315.20,44.39 315.62,44.51 316.05,44.56 316.47,44.52 316.89,44.41 317.32,44.24 317.74,43.99 318.16,43.69 318.58,43.33 319.00,42.91 319.43,42.46 319.85,41.97 320.27,41.45 320.70,40.91 321.12,40.36 321.54,39.82 321.96,39.28 322.38,38.76 322.81,38.27 323.23,37.81 323.65,37.40 324.08,37.04 324.50,36.73 324.92,36.49 325.34,36.31 325.77,36.21 326.19,36.17 326.61,36.21 327.03,36.34 327.46,36.56 327.88,36.85 328.30,37.21 328.72,37.63 329.15,38.11 329.57,38.62 329.99,39.16 330.41,39.72 330.84,40.27 331.26,40.81 331.68,41.33 332.10,41.80 332.53,42.23 332.95,42.59 333.37,42.88 333.79,43.09 334.22,43.22 334.64,43.27 335.06,43.24 335.48,43.15 335.91,43.02 336.33,42.83 336.75,42.60 337.17,42.33 337.60,42.03 338.02,41.71 338.44,41.36 338.86,41.01 339.29,40.65 339.71,40.31 340.13,39.98 340.55,39.68 340.98,39.41 341.40,39.18 341.82,39.00 342.24,38.86 342.67,38.78 343.09,38.75 343.51,38.77 343.93,38.84 344.36,38.96 344.78,39.11 345.20,39.30 345.62,39.53 346.05,39.78 346.47,40.05 346.89,40.34 347.31,40.63 347.74,40.93 348.16,41.21 348.58,41.49 349.00,41.74 349.43,41.96 349.85,42.15 350.27,42.31 350.69,42.42 351.12,42.49 351.54,42.51 351.96,42.49 352.38,42.43 352.81,42.32 353.23,42.17 353.65,41.99 354.07,41.78 354.50,41.54 354.92,41.28 355.34,41.01 355.76,40.74 356.19,40.46 356.61,40.19 357.03,39.93 357.45,39.69 357.88,39.48 358.30,39.30 358.72,39.15 359.14,39.04 359.57,38.98 359.99,38.96 360.41,38.98 360.83,39.04 361.25,39.14 361.68,39.28 362.10,39.45 362.52,39.65 362.95,39.87 363.37,40.12 363.79,40.37 364.21,40.64 364.63,40.90 365.06,41.16 365.48,41.40 365.90,41.63 366.33,41.83 366.75,42.00 367.17,42.13 367.59,42.24 368.01,42.30 368.44,42.32 368.86,42.30 369.28,42.24 369.71,42.14 370.13,42.01 370.55,41.85 370.97,41.66 371.40,41.45 371.82,41.22 372.24,40.98 372.66,40.73 373.09,40.48 373.51,40.24 373.93,40.01 374.35,39.80 374.78,39.61 375.20,39.45 375.62,39.32 376.04,39.22 376.47,39.16 376.89,39.14 377.31,39.16 377.73,39.22 378.16,39.31 378.58,39.43 379.00,39.58 379.42,39.76 379.85,39.96 380.27,40.18 380.69,40.41 381.11,40.64 381.54,40.88 381.96,41.11 382.38,41.32 382.80,41.52 383.23,41.70 383.65,41.86 384.07,41.98 384.49,42.07 384.92,42.12 385.34,42.14 385.76,42.13 386.18,42.07 386.61,41.99 387.03,41.87 387.45,41.73 387.87,41.56 388.30,41.37 388.72,41.16 389.14,40.95 389.56,40.73 389.99,40.50 390.41,40.29 390.83,40.08 391.25,39.89 391.68,39.72 392.10,39.58 392.52,39.46 392.94,39.38 393.37,39.32 393.79,39.31 394.21,39.32 394.63,39.37 395.06,39.45 395.48,39.56 395.90,39.70 396.32,39.86 396.75,40.04 397.17,40.23 397.59,40.44 398.01,40.65 398.44,40.86 398.86,41.06 399.28,41.26 399.70,41.43 400.12,41.59 400.55,41.73 400.97,41.84 401.39,41.92 401.81,41.97 402.24,41.99 402.66,41.97 403.08,41.93 403.50,41.85 403.93,41.75 404.35,41.62 404.77,41.47 405.20,41.30 405.62,41.11 406.04,40.92 406.46,40.72 406.88,40.52 407.31,40.33 407.73,40.15 408.15,39.98 408.58,39.83 409.00,39.70 409.42,39.59 409.84,39.52 410.26,39.47 410.69,39.45 411.11,39.47 411.53,39.51 411.96,39.58 412.38,39.68 412.80,39.80 413.22,39.95 413.65,40.11 414.07,40.28 414.49,40.46 414.91,40.65 415.34,40.84 415.76,41.02 416.18,41.19 416.60,41.35 417.03,41.50 417.45,41.62 417.87,41.72 418.29,41.79 418.72,41.83 419.14,41.85 419.56,41.83 419.98,41.79 420.41,41.72 420.83,41.63 421.25,41.52 421.67,41.38 422.10,41.23 422.52,41.07 422.94,40.89 423.36,40.72 423.79,40.54 424.21,40.37 424.63,40.20 425.05,40.05 425.48,39.92 425.90,39.80 426.32,39.71 426.74,39.64 427.17,39.60 427.59,39.59 428.01,39.60 428.43,39.64 428.86,39.70 429.28,39.79 429.70,39.90 430.12,40.03 430.55,40.17 430.97,40.32 431.39,40.49 431.81,40.65 432.24,40.82 432.66,40.99 433.08,41.14 433.50,41.28 433.93,41.41 434.35,41.52 434.77,41.61 435.19,41.67 435.62,41.71 436.04,41.72 436.46,41.71 436.88,41.67 437.31,41.61 437.73,41.53 438.15,41.43 438.57,41.31 439.00,41.17 439.42,41.03 439.84,40.87 440.26,40.71 440.69,40.56 441.11,40.40 441.53,40.26 441.95,40.12 442.38,40.00 442.80,39.90 443.22,39.81 443.64,39.75 444.07,39.72 444.49,39.70 444.91,39.72 445.33,39.75 445.75,39.81 446.18,39.89 446.60,39.98" fill="none" stroke="#35a035" stroke-width="0.9" stroke-linejoin="round" />
<path d="M276.7,11.5a1.75,1.75 0 1,0 3.5,0a1.75,1.75 0 1,0 -3.5,0M278.5,20.3a1.75,1.75 0 1,0 3.5,0a1.75,1.75 0 1,0 -3.5,0M280.2,29.4a1.75,1.75 0 1,0 3.5,0a1.75,1.75 0 1,0 -3.5,0M282.0,46.2a1.75,1.75 0 1,0 3.5,0a1.75,1.75 0 1,0 -3.5,0M283.8,52.5a1.75,1.75 0 1,0 3.5,0a1.75,1.75 0 1,0 -3.5,0M285.6,55.0a1.75,1.75 0 1,0 3.5,0a1.75,1.75 0 1,0 -3.5,0M287.3,51.4a1.75,1.75 0 1,0 3.5,0a1.75,1.75 0 1,0 -3.5,0M289.1,49.1a1.75,1.75 0 1,0 3.5,0a1.75,1.75 0 1,0 -3.5,0M290.9,46.3a1.75,1.75 0 1,0 3.5,0a1.75,1.75 0 1,0 -3.5,0M292.7,37.2a1.75,1.75 0 1,0 3.5,0a1.75,1.75 0 1,0 -3.5,0M294.4,36.5a1.75,1.75 0 1,0 3.5,0a1.75,1.75 0 1,0 -3.5,0M296.2,39.1a1.75,1.75 0 1,0 3.5,0a1.75,1.75 0 1,0 -3.5,0M298.0,43.2a1.75,1.75 0 1,0 3.5,0a1.75,1.75 0 1,0 -3.5,0M299.8,42.9a1.75,1.75 0 1,0 3.5,0a1.75,1.75 0 1,0 -3.5,0M301.5,43.1a1.75,1.75 0 1,0 3.5,0a1.75,1.75 0 1,0 -3.5,0M303.3,37.0a1.75,1.75 0 1,0 3.5,0a1.75,1.75 0 1,0 -3.5,0M305.1,34.5a1.75,1.75 0 1,0 3.5,0a1.75,1.75 0 1,0 -3.5,0M306.9,35.7a1.75,1.75 0 1,0 3.5,0a1.75,1.75 0 1,0 -3.5,0M308.6,39.5a1.75,1.75 0 1,0 3.5,0a1.75,1.75 0 1,0 -3.5,0M310.4,45.5a1.75,1.75 0 1,0 3.5,0a1.75,1.75 0 1,0 -3.5,0M312.2,41.1a1.75,1.75 0 1,0 3.5,0a1.75,1.75 0 1,0 -3.5,0M314.0,43.9a1.75,1.75 0 1,0 3.5,0a1.75,1.75 0 1,0 -3.5,0M315.7,44.1a1.75,1.75 0 1,0 3.5,0a1.75,1.75 0 1,0 -3.5,0M317.5,43.2a1.75,1.75 0 1,0 3.5,0a1.75,1.75 0 1,0 -3.5,0M319.3,40.0a1.75,1.75 0 1,0 3.5,0a1.75,1.75 0 1,0 -3.5,0M321.1,39.1a1.75,1.75 0 1,0 3.5,0a1.75,1.75 0 1,0 -3.5,0M322.8,38.7a1.75,1.75 0 1,0 3.5,0a1.75,1.75 0 1,0 -3.5,0M324.6,37.6a1.75,1.75 0 1,0 3.5,0a1.75,1.75 0 1,0 -3.5,0M326.4,38.2a1.75,1.75 0 1,0 3.5,0a1.75,1.75 0 1,0 -3.5,0M328.2,40.2a1.75,1.75 0 1,0 3.5,0a1.75,1.75 0 1,0 -3.5,0M329.9,43.6a1.75,1.75 0 1,0 3.5,0a1.75,1.75 0 1,0 -3.5,0M331.7,41.7a1.75,1.75 0 1,0 3.5,0a1.75,1.75 0 1,0 -3.5,0M333.5,45.7a1.75,1.75 0 1,0 3.5,0a1.75,1.75 0 1,0 -3.5,0M335.3,41.2a1.75,1.75 0 1,0 3.5,0a1.75,1.75 0 1,0 -3.5,0M337.0,43.0a1.75,1.75 0 1,0 3.5,0a1.75,1.75 0 1,0 -3.5,0M338.8,39.0a1.75,1.75 0 1,0 3.5,0a1.75,1.75 0 1,0 -3.5,0M340.6,36.2a1.75,1.75 0 1,0 3.5,0a1.75,1.75 0 1,0 -3.5,0M342.4,38.5a1.75,1.75 0 1,0 3.5,0a1.75,1.75 0 1,0 -3.5,0M344.1,41.1a1.75,1.75 0 1,0 3.5,0a1.75,1.75 0 1,0 -3.5,0M345.9,40.8a1.75,1.75 0 1,0 3.5,0a1.75,1.75 0 1,0 -3.5,0M347.7,41.7a1.75,1.75 0 1,0 3.5,0a1.75,1.75 0 1,0 -3.5,0M349.4,45.9a1.75,1.75 0 1,0 3.5,0a1.75,1.75 0 1,0 -3.5,0M351.2,43.4a1.75,1.75 0 1,0 3.5,0a1.75,1.75 0 1,0 -3.5,0M353.0,41.1a1.75,1.75 0 1,0 3.5,0a1.75,1.75 0 1,0 -3.5,0M354.8,41.1a1.75,1.75 0 1,0 3.5,0a1.75,1.75 0 1,0 -3.5,0M356.5,39.1a1.75,1.75 0 1,0 3.5,0a1.75,1.75 0 1,0 -3.5,0M358.3,37.5a1.75,1.75 0 1,0 3.5,0a1.75,1.75 0 1,0 -3.5,0M360.1,37.9a1.75,1.75 0 1,0 3.5,0a1.75,1.75 0 1,0 -3.5,0M361.9,38.5a1.75,1.75 0 1,0 3.5,0a1.75,1.75 0 1,0 -3.5,0M363.6,40.2a1.75,1.75 0 1,0 3.5,0a1.75,1.75 0 1,0 -3.5,0M365.4,42.7a1.75,1.75 0 1,0 3.5,0a1.75,1.75 0 1,0 -3.5,0M367.2,42.3a1.75,1.75 0 1,0 3.5,0a1.75,1.75 0 1,0 -3.5,0M369.0,42.3a1.75,1.75 0 1,0 3.5,0a1.75,1.75 0 1,0 -3.5,0M370.7,41.4a1.75,1.75 0 1,0 3.5,0a1.75,1.75 0 1,0 -3.5,0M372.5,40.2a1.75,1.75 0 1,0 3.5,0a1.75,1.75 0 1,0 -3.5,0M374.3,42.6a1.75,1.75 0 1,0 3.5,0a1.75,1.75 0 1,0 -3.5,0M376.1,39.9a1.75,1.75 0 1,0 3.5,0a1.75,1.75 0 1,0 -3.5,0M377.8,39.9a1.75,1.75 0 1,0 3.5,0a1.75,1.75 0 1,0 -3.5,0M379.6,42.7a1.75,1.75 0 1,0 3.5,0a1.75,1.75 0 1,0 -3.5,0M381.4,41.7a1.75,1.75 0 1,0 3.5,0a1.75,1.75 0 1,0 -3.5,0M383.2,41.1a1.75,1.75 0 1,0 3.5,0a1.75,1.75 0 1,0 -3.5,0M384.9,42.3a1.75,1.75 0 1,0 3.5,0a1.75,1.75 0 1,0 -3.5,0M386.7,37.3a1.75,1.75 0 1,0 3.5,0a1.75,1.75 0 1,0 -3.5,0M388.5,45.4a1.75,1.75 0 1,0 3.5,0a1.75,1.75 0 1,0 -3.5,0M390.3,40.0a1.75,1.75 0 1,0 3.5,0a1.75,1.75 0 1,0 -3.5,0M392.0,42.8a1.75,1.75 0 1,0 3.5,0a1.75,1.75 0 1,0 -3.5,0M393.8,37.7a1.75,1.75 0 1,0 3.5,0a1.75,1.75 0 1,0 -3.5,0M395.6,35.2a1.75,1.75 0 1,0 3.5,0a1.75,1.75 0 1,0 -3.5,0M397.4,46.0a1.75,1.75 0 1,0 3.5,0a1.75,1.75 0 1,0 -3.5,0M399.1,41.6a1.75,1.75 0 1,0 3.5,0a1.75,1.75 0 1,0 -3.5,0M400.9,41.0a1.75,1.75 0 1,0 3.5,0a1.75,1.75 0 1,0 -3.5,0M402.7,42.2a1.75,1.75 0 1,0 3.5,0a1.75,1.75 0 1,0 -3.5,0M404.5,39.8a1.75,1.75 0 1,0 3.5,0a1.75,1.75 0 1,0 -3.5,0M406.2,44.4a1.75,1.75 0 1,0 3.5,0a1.75,1.75 0 1,0 -3.5,0M408.0,37.9a1.75,1.75 0 1,0 3.5,0a1.75,1.75 0 1,0 -3.5,0M409.8,38.8a1.75,1.75 0 1,0 3.5,0a1.75,1.75 0 1,0 -3.5,0M411.6,39.9a1.75,1.75 0 1,0 3.5,0a1.75,1.75 0 1,0 -3.5,0M413.3,41.9a1.75,1.75 0 1,0 3.5,0a1.75,1.75 0 1,0 -3.5,0M415.1,40.2a1.75,1.75 0 1,0 3.5,0a1.75,1.75 0 1,0 -3.5,0M416.9,42.8a1.75,1.75 0 1,0 3.5,0a1.75,1.75 0 1,0 -3.5,0M418.7,41.3a1.75,1.75 0 1,0 3.5,0a1.75,1.75 0 1,0 -3.5,0M420.4,42.2a1.75,1.75 0 1,0 3.5,0a1.75,1.75 0 1,0 -3.5,0M422.2,44.8a1.75,1.75 0 1,0 3.5,0a1.75,1.75 0 1,0 -3.5,0M424.0,39.9a1.75,1.75 0 1,0 3.5,0a1.75,1.75 0 1,0 -3.5,0M425.8,39.2a1.75,1.75 0 1,0 3.5,0a1.75,1.75 0 1,0 -3.5,0M427.5,38.3a1.75,1.75 0 1,0 3.5,0a1.75,1.75 0 1,0 -3.5,0M429.3,42.1a1.75,1.75 0 1,0 3.5,0a1.75,1.75 0 1,0 -3.5,0M431.1,41.1a1.75,1.75 0 1,0 3.5,0a1.75,1.75 0 1,0 -3.5,0M432.9,40.4a1.75,1.75 0 1,0 3.5,0a1.75,1.75 0 1,0 -3.5,0M434.6,41.4a1.75,1.75 0 1,0 3.5,0a1.75,1.75 0 1,0 -3.5,0M436.4,39.0a1.75,1.75 0 1,0 3.5,0a1.75,1.75 0 1,0 -3.5,0M438.2,37.0a1.75,1.75 0 1,0 3.5,0a1.75,1.75 0 1,0 -3.5,0M439.9,42.0a1.75,1.75 0 1,0 3.5,0a1.75,1.75 0 1,0 -3.5,0M441.7,43.5a1.75,1.75 0 1,0 3.5,0a1.75,1.75 0 1,0 -3.5,0M443.5,38.1a1.75,1.75 0 1,0 3.5,0a1.75,1.75 0 1,0 -3.5,0" fill="#35a035" opacity="1"/>
<path d="M278.4,9.1v4.8M280.2,17.9v4.8M282.0,27.0v4.8M283.8,43.8v4.8M285.5,50.1v4.8M287.3,52.6v4.8M289.1,49.0v4.8M290.9,46.7v4.8M292.6,43.9v4.8M294.4,34.8v4.8M296.2,34.1v4.8M298.0,36.7v4.8M299.7,40.8v4.8M301.5,40.5v4.8M303.3,40.7v4.8M305.1,34.6v4.8M306.8,32.1v4.8M308.6,33.3v4.8M310.4,37.1v4.8M312.2,43.1v4.8M313.9,38.7v4.8M315.7,41.5v4.8M317.5,41.7v4.8M319.3,40.8v4.8M321.0,37.6v4.8M322.8,36.7v4.8M324.6,36.3v4.8M326.4,35.2v4.8M328.1,35.8v4.8M329.9,37.8v4.8M331.7,41.2v4.8M333.5,39.3v4.8M335.2,43.3v4.8M337.0,38.8v4.8M338.8,40.6v4.8M340.6,36.6v4.8M342.3,33.8v4.8M344.1,36.1v4.8M345.9,38.7v4.8M347.7,38.4v4.8M349.4,39.3v4.8M351.2,43.5v4.8M353.0,41.0v4.8M354.7,38.7v4.8M356.5,38.7v4.8M358.3,36.7v4.8M360.1,35.1v4.8M361.8,35.5v4.8M363.6,36.1v4.8M365.4,37.8v4.8M367.2,40.3v4.8M368.9,39.9v4.8M370.7,39.9v4.8M372.5,39.0v4.8M374.3,37.8v4.8M376.0,40.2v4.8M377.8,37.5v4.8M379.6,37.5v4.8M381.4,40.3v4.8M383.1,39.3v4.8M384.9,38.7v4.8M386.7,39.9v4.8M388.5,34.9v4.8M390.2,43.0v4.8M392.0,37.6v4.8M393.8,40.4v4.8M395.6,35.3v4.8M397.3,32.8v4.8M399.1,43.6v4.8M400.9,39.2v4.8M402.7,38.6v4.8M404.4,39.8v4.8M406.2,37.4v4.8M408.0,42.0v4.8M409.8,35.5v4.8M411.5,36.4v4.8M413.3,37.5v4.8M415.1,39.5v4.8M416.9,37.8v4.8M418.6,40.4v4.8M420.4,38.9v4.8M422.2,39.8v4.8M424.0,42.4v4.8M425.7,37.5v4.8M427.5,36.8v4.8M429.3,35.9v4.8M431.1,39.7v4.8M432.8,38.7v4.8M434.6,38.0v4.8M436.4,39.0v4.8M438.1,36.6v4.8M439.9,34.6v4.8M441.7,39.6v4.8M443.5,41.1v4.8M445.2,35.7v4.8" stroke="#35a035" stroke-width="0.7" fill="none"/>
<polyline points="278.02,55.52 278.45,55.52 278.87,56.04 279.29,57.58 279.71,60.09 280.14,63.45 280.56,67.56 280.98,72.24 281.40,77.33 281.83,82.61 282.25,87.89 282.67,92.98 283.09,97.66 283.52,101.77 283.94,105.13 284.36,107.64 284.78,109.18 285.21,109.70 285.63,109.38 286.05,108.44 286.47,106.90 286.90,104.82 287.32,102.27 287.74,99.33 288.16,96.11 288.59,92.72 289.01,89.27 289.43,85.88 289.85,82.66 290.28,79.72 290.70,77.17 291.12,75.09 291.54,73.55 291.97,72.61 292.39,72.29 292.81,72.56 293.23,73.38 293.66,74.69 294.08,76.45 294.50,78.58 294.92,80.98 295.35,83.55 295.77,86.18 296.19,88.75 296.61,91.16 297.04,93.28 297.46,95.04 297.88,96.36 298.30,97.17 298.73,97.44 299.15,97.22 299.57,96.55 299.99,95.46 300.42,93.99 300.84,92.19 301.26,90.12 301.68,87.84 302.11,85.44 302.53,83.00 302.95,80.60 303.37,78.33 303.80,76.25 304.22,74.45 304.64,72.98 305.06,71.89 305.49,71.23 305.91,71.00 306.33,71.20 306.75,71.81 307.18,72.79 307.60,74.11 308.02,75.74 308.44,77.61 308.87,79.67 309.29,81.83 309.71,84.03 310.13,86.20 310.56,88.25 310.98,90.12 311.40,91.75 311.82,93.08 312.25,94.06 312.67,94.66 313.09,94.87 313.51,94.70 313.94,94.23 314.36,93.46 314.78,92.44 315.20,91.21 315.62,89.85 316.05,88.42 316.47,86.98 316.89,85.62 317.32,84.39 317.74,83.37 318.16,82.60 318.58,82.13 319.00,81.96 319.43,82.05 319.85,82.31 320.27,82.74 320.70,83.31 321.12,84.02 321.54,84.82 321.96,85.71 322.38,86.65 322.81,87.60 323.23,88.54 323.65,89.43 324.08,90.23 324.50,90.94 324.92,91.51 325.34,91.94 325.77,92.20 326.19,92.29 326.61,92.20 327.03,91.95 327.46,91.54 327.88,90.98 328.30,90.31 328.72,89.53 329.15,88.69 329.57,87.80 329.99,86.91 330.41,86.04 330.84,85.22 331.26,84.50 331.68,83.88 332.10,83.39 332.53,83.06 332.95,82.89 333.37,82.89 333.79,83.04 334.22,83.33 334.64,83.76 335.06,84.30 335.48,84.94 335.91,85.65 336.33,86.41 336.75,87.20 337.17,87.98 337.60,88.72 338.02,89.40 338.44,89.99 338.86,90.48 339.29,90.84 339.71,91.06 340.13,91.13 340.55,91.06 340.98,90.85 341.40,90.51 341.82,90.06 342.24,89.50 342.67,88.86 343.09,88.16 343.51,87.43 343.93,86.69 344.36,85.97 344.78,85.30 345.20,84.69 345.62,84.18 346.05,83.78 346.47,83.51 346.89,83.37 347.31,83.37 347.74,83.50 348.16,83.76 348.58,84.13 349.00,84.61 349.43,85.18 349.85,85.82 350.27,86.49 350.69,87.19 351.12,87.88 351.54,88.54 351.96,89.14 352.38,89.67 352.81,90.10 353.23,90.42 353.65,90.62 354.07,90.68 354.50,90.62 354.92,90.43 355.34,90.13 355.76,89.73 356.19,89.23 356.61,88.66 357.03,88.04 357.45,87.39 357.88,86.74 358.30,86.10 358.72,85.50 359.14,84.97 359.57,84.51 359.99,84.16 360.41,83.91 360.83,83.79 361.25,83.79 361.68,83.91 362.10,84.14 362.52,84.47 362.95,84.90 363.37,85.40 363.79,85.96 364.21,86.56 364.63,87.18 365.06,87.80 365.48,88.38 365.90,88.92 366.33,89.38 366.75,89.77 367.17,90.05 367.59,90.22 368.01,90.28 368.44,90.23 368.86,90.06 369.28,89.80 369.71,89.44 370.13,88.99 370.55,88.49 370.97,87.94 371.40,87.36 371.82,86.78 372.24,86.21 372.66,85.68 373.09,85.21 373.51,84.81 373.93,84.49 374.35,84.27 374.78,84.16 375.20,84.16 375.62,84.27 376.04,84.47 376.47,84.77 376.89,85.15 377.31,85.59 377.73,86.09 378.16,86.63 378.58,87.18 379.00,87.72 379.42,88.24 379.85,88.71 380.27,89.13 380.69,89.47 381.11,89.72 381.54,89.88 381.96,89.93 382.38,89.88 382.80,89.73 383.23,89.50 383.65,89.18 384.07,88.78 384.49,88.34 384.92,87.85 385.34,87.34 385.76,86.82 386.18,86.32 386.61,85.85 387.03,85.42 387.45,85.07 387.87,84.79 388.30,84.59 388.72,84.50 389.14,84.50 389.56,84.59 389.99,84.77 390.41,85.03 390.83,85.37 391.25,85.77 391.68,86.21 392.10,86.68 392.52,87.17 392.94,87.65 393.37,88.11 393.79,88.54 394.21,88.90 394.63,89.21 395.06,89.43 395.48,89.57 395.90,89.61 396.32,89.57 396.75,89.44 397.17,89.23 397.59,88.95 398.01,88.60 398.44,88.20 398.86,87.77 399.28,87.31 399.70,86.85 400.12,86.41 400.55,85.99 400.97,85.62 401.39,85.30 401.81,85.05 402.24,84.88 402.66,84.79 403.08,84.79 403.50,84.87 403.93,85.03 404.35,85.27 404.77,85.57 405.20,85.92 405.62,86.31 406.04,86.73 406.46,87.17 406.88,87.59 407.31,88.00 407.73,88.38 408.15,88.70 408.58,88.97 409.00,89.17 409.42,89.29 409.84,89.33 410.26,89.29 410.69,89.18 411.11,88.99 411.53,88.74 411.96,88.43 412.38,88.08 412.80,87.69 413.22,87.29 413.65,86.88 414.07,86.49 414.49,86.12 414.91,85.78 415.34,85.50 415.76,85.28 416.18,85.13 416.60,85.05 417.03,85.05 417.45,85.13 417.87,85.27 418.29,85.48 418.72,85.74 419.14,86.05 419.56,86.40 419.98,86.78 420.41,87.16 420.83,87.54 421.25,87.90 421.67,88.24 422.10,88.53 422.52,88.76 422.94,88.94 423.36,89.05 423.79,89.08 424.21,89.05 424.63,88.95 425.05,88.78 425.48,88.56 425.90,88.29 426.32,87.97 426.74,87.63 427.17,87.27 427.59,86.91 428.01,86.56 428.43,86.23 428.86,85.94 429.28,85.69 429.70,85.49 430.12,85.36 430.55,85.29 430.97,85.29 431.39,85.35 431.81,85.48 432.24,85.66 432.66,85.90 433.08,86.18 433.50,86.49 433.93,86.82 434.35,87.16 434.77,87.49 435.19,87.82 435.62,88.11 436.04,88.37 436.46,88.58 436.88,88.74 437.31,88.83 437.73,88.86 438.15,88.83 438.57,88.74 439.00,88.60 439.42,88.40 439.84,88.16 440.26,87.88 440.69,87.57 441.11,87.26 441.53,86.93 441.95,86.62 442.38,86.33 442.80,86.07 443.22,85.85 443.64,85.67 444.07,85.55 444.49,85.49 444.91,85.49 445.33,85.55 445.75,85.66 446.18,85.83 446.60,86.04" fill="none" stroke="#ee2020" stroke-width="0.9" stroke-linejoin="round" />
<path d="M276.7,52.6a1.75,1.75 0 1,0 3.5,0a1.75,1.75 0 1,0 -3.5,0M278.5,62.4a1.75,1.75 0 1,0 3.5,0a1.75,1.75 0 1,0 -3.5,0M280.2,83.2a1.75,1.75 0 1,0 3.5,0a1.75,1.75 0 1,0 -3.5,0M282.0,105.1a1.75,1.75 0 1,0 3.5,0a1.75,1.75 0 1,0 -3.5,0M283.8,110.9a1.75,1.75 0 1,0 3.5,0a1.75,1.75 0 1,0 -3.5,0M285.6,100.5a1.75,1.75 0 1,0 3.5,0a1.75,1.75 0 1,0 -3.5,0M287.3,90.3a1.75,1.75 0 1,0 3.5,0a1.75,1.75 0 1,0 -3.5,0M289.1,79.8a1.75,1.75 0 1,0 3.5,0a1.75,1.75 0 1,0 -3.5,0M290.9,74.3a1.75,1.75 0 1,0 3.5,0a1.75,1.75 0 1,0 -3.5,0M292.7,73.3a1.75,1.75 0 1,0 3.5,0a1.75,1.75 0 1,0 -3.5,0M294.4,85.0a1.75,1.75 0 1,0 3.5,0a1.75,1.75 0 1,0 -3.5,0M296.2,97.9a1.75,1.75 0 1,0 3.5,0a1.75,1.75 0 1,0 -3.5,0M298.0,97.6a1.75,1.75 0 1,0 3.5,0a1.75,1.75 0 1,0 -3.5,0M299.8,88.3a1.75,1.75 0 1,0 3.5,0a1.75,1.75 0 1,0 -3.5,0M301.5,80.2a1.75,1.75 0 1,0 3.5,0a1.75,1.75 0 1,0 -3.5,0M303.3,69.4a1.75,1.75 0 1,0 3.5,0a1.75,1.75 0 1,0 -3.5,0M305.1,72.1a1.75,1.75 0 1,0 3.5,0a1.75,1.75 0 1,0 -3.5,0M306.9,80.5a1.75,1.75 0 1,0 3.5,0a1.75,1.75 0 1,0 -3.5,0M308.6,84.9a1.75,1.75 0 1,0 3.5,0a1.75,1.75 0 1,0 -3.5,0M310.4,95.0a1.75,1.75 0 1,0 3.5,0a1.75,1.75 0 1,0 -3.5,0M312.2,93.8a1.75,1.75 0 1,0 3.5,0a1.75,1.75 0 1,0 -3.5,0M314.0,89.6a1.75,1.75 0 1,0 3.5,0a1.75,1.75 0 1,0 -3.5,0M315.7,84.6a1.75,1.75 0 1,0 3.5,0a1.75,1.75 0 1,0 -3.5,0M317.5,81.4a1.75,1.75 0 1,0 3.5,0a1.75,1.75 0 1,0 -3.5,0M319.3,85.2a1.75,1.75 0 1,0 3.5,0a1.75,1.75 0 1,0 -3.5,0M321.1,91.2a1.75,1.75 0 1,0 3.5,0a1.75,1.75 0 1,0 -3.5,0M322.8,95.3a1.75,1.75 0 1,0 3.5,0a1.75,1.75 0 1,0 -3.5,0M324.6,94.7a1.75,1.75 0 1,0 3.5,0a1.75,1.75 0 1,0 -3.5,0M326.4,92.1a1.75,1.75 0 1,0 3.5,0a1.75,1.75 0 1,0 -3.5,0M328.2,87.1a1.75,1.75 0 1,0 3.5,0a1.75,1.75 0 1,0 -3.5,0M329.9,83.8a1.75,1.75 0 1,0 3.5,0a1.75,1.75 0 1,0 -3.5,0M331.7,81.8a1.75,1.75 0 1,0 3.5,0a1.75,1.75 0 1,0 -3.5,0M333.5,84.3a1.75,1.75 0 1,0 3.5,0a1.75,1.75 0 1,0 -3.5,0M335.3,89.2a1.75,1.75 0 1,0 3.5,0a1.75,1.75 0 1,0 -3.5,0M337.0,91.8a1.75,1.75 0 1,0 3.5,0a1.75,1.75 0 1,0 -3.5,0M338.8,95.2a1.75,1.75 0 1,0 3.5,0a1.75,1.75 0 1,0 -3.5,0M340.6,89.7a1.75,1.75 0 1,0 3.5,0a1.75,1.75 0 1,0 -3.5,0M342.4,85.5a1.75,1.75 0 1,0 3.5,0a1.75,1.75 0 1,0 -3.5,0M344.1,82.9a1.75,1.75 0 1,0 3.5,0a1.75,1.75 0 1,0 -3.5,0M345.9,83.7a1.75,1.75 0 1,0 3.5,0a1.75,1.75 0 1,0 -3.5,0M347.7,85.5a1.75,1.75 0 1,0 3.5,0a1.75,1.75 0 1,0 -3.5,0M349.4,86.2a1.75,1.75 0 1,0 3.5,0a1.75,1.75 0 1,0 -3.5,0M351.2,90.2a1.75,1.75 0 1,0 3.5,0a1.75,1.75 0 1,0 -3.5,0M353.0,89.1a1.75,1.75 0 1,0 3.5,0a1.75,1.75 0 1,0 -3.5,0M354.8,87.7a1.75,1.75 0 1,0 3.5,0a1.75,1.75 0 1,0 -3.5,0M356.5,85.7a1.75,1.75 0 1,0 3.5,0a1.75,1.75 0 1,0 -3.5,0M358.3,81.6a1.75,1.75 0 1,0 3.5,0a1.75,1.75 0 1,0 -3.5,0M360.1,85.1a1.75,1.75 0 1,0 3.5,0a1.75,1.75 0 1,0 -3.5,0M361.9,86.4a1.75,1.75 0 1,0 3.5,0a1.75,1.75 0 1,0 -3.5,0M363.6,89.8a1.75,1.75 0 1,0 3.5,0a1.75,1.75 0 1,0 -3.5,0M365.4,91.6a1.75,1.75 0 1,0 3.5,0a1.75,1.75 0 1,0 -3.5,0M367.2,87.0a1.75,1.75 0 1,0 3.5,0a1.75,1.75 0 1,0 -3.5,0M369.0,84.9a1.75,1.75 0 1,0 3.5,0a1.75,1.75 0 1,0 -3.5,0M370.7,85.8a1.75,1.75 0 1,0 3.5,0a1.75,1.75 0 1,0 -3.5,0M372.5,83.2a1.75,1.75 0 1,0 3.5,0a1.75,1.75 0 1,0 -3.5,0M374.3,82.2a1.75,1.75 0 1,0 3.5,0a1.75,1.75 0 1,0 -3.5,0M376.1,84.6a1.75,1.75 0 1,0 3.5,0a1.75,1.75 0 1,0 -3.5,0M377.8,86.1a1.75,1.75 0 1,0 3.5,0a1.75,1.75 0 1,0 -3.5,0M379.6,92.3a1.75,1.75 0 1,0 3.5,0a1.75,1.75 0 1,0 -3.5,0M381.4,90.8a1.75,1.75 0 1,0 3.5,0a1.75,1.75 0 1,0 -3.5,0M383.2,87.0a1.75,1.75 0 1,0 3.5,0a1.75,1.75 0 1,0 -3.5,0M384.9,83.0a1.75,1.75 0 1,0 3.5,0a1.75,1.75 0 1,0 -3.5,0M386.7,84.3a1.75,1.75 0 1,0 3.5,0a1.75,1.75 0 1,0 -3.5,0M388.5,86.6a1.75,1.75 0 1,0 3.5,0a1.75,1.75 0 1,0 -3.5,0M390.3,87.3a1.75,1.75 0 1,0 3.5,0a1.75,1.75 0 1,0 -3.5,0M392.0,89.8a1.75,1.75 0 1,0 3.5,0a1.75,1.75 0 1,0 -3.5,0M393.8,91.2a1.75,1.75 0 1,0 3.5,0a1.75,1.75 0 1,0 -3.5,0M395.6,86.2a1.75,1.75 0 1,0 3.5,0a1.75,1.75 0 1,0 -3.5,0M397.4,88.7a1.75,1.75 0 1,0 3.5,0a1.75,1.75 0 1,0 -3.5,0M399.1,85.6a1.75,1.75 0 1,0 3.5,0a1.75,1.75 0 1,0 -3.5,0M400.9,80.6a1.75,1.75 0 1,0 3.5,0a1.75,1.75 0 1,0 -3.5,0M402.7,83.0a1.75,1.75 0 1,0 3.5,0a1.75,1.75 0 1,0 -3.5,0M404.5,86.3a1.75,1.75 0 1,0 3.5,0a1.75,1.75 0 1,0 -3.5,0M406.2,89.8a1.75,1.75 0 1,0 3.5,0a1.75,1.75 0 1,0 -3.5,0M408.0,88.5a1.75,1.75 0 1,0 3.5,0a1.75,1.75 0 1,0 -3.5,0M409.8,85.6a1.75,1.75 0 1,0 3.5,0a1.75,1.75 0 1,0 -3.5,0M411.6,86.0a1.75,1.75 0 1,0 3.5,0a1.75,1.75 0 1,0 -3.5,0M413.3,83.2a1.75,1.75 0 1,0 3.5,0a1.75,1.75 0 1,0 -3.5,0M415.1,84.9a1.75,1.75 0 1,0 3.5,0a1.75,1.75 0 1,0 -3.5,0M416.9,84.7a1.75,1.75 0 1,0 3.5,0a1.75,1.75 0 1,0 -3.5,0M418.7,87.5a1.75,1.75 0 1,0 3.5,0a1.75,1.75 0 1,0 -3.5,0M420.4,87.8a1.75,1.75 0 1,0 3.5,0a1.75,1.75 0 1,0 -3.5,0M422.2,86.6a1.75,1.75 0 1,0 3.5,0a1.75,1.75 0 1,0 -3.5,0M424.0,91.2a1.75,1.75 0 1,0 3.5,0a1.75,1.75 0 1,0 -3.5,0M425.8,87.1a1.75,1.75 0 1,0 3.5,0a1.75,1.75 0 1,0 -3.5,0M427.5,85.2a1.75,1.75 0 1,0 3.5,0a1.75,1.75 0 1,0 -3.5,0M429.3,86.4a1.75,1.75 0 1,0 3.5,0a1.75,1.75 0 1,0 -3.5,0M431.1,86.6a1.75,1.75 0 1,0 3.5,0a1.75,1.75 0 1,0 -3.5,0M432.9,85.8a1.75,1.75 0 1,0 3.5,0a1.75,1.75 0 1,0 -3.5,0M434.6,84.7a1.75,1.75 0 1,0 3.5,0a1.75,1.75 0 1,0 -3.5,0M436.4,87.6a1.75,1.75 0 1,0 3.5,0a1.75,1.75 0 1,0 -3.5,0M438.2,87.5a1.75,1.75 0 1,0 3.5,0a1.75,1.75 0 1,0 -3.5,0M439.9,89.8a1.75,1.75 0 1,0 3.5,0a1.75,1.75 0 1,0 -3.5,0M441.7,82.0a1.75,1.75 0 1,0 3.5,0a1.75,1.75 0 1,0 -3.5,0M443.5,85.4a1.75,1.75 0 1,0 3.5,0a1.75,1.75 0 1,0 -3.5,0" fill="#ee2020" opacity="1"/>
<path d="M278.4,50.2v4.8M280.2,60.0v4.8M282.0,80.8v4.8M283.8,102.7v4.8M285.5,108.5v4.8M287.3,98.1v4.8M289.1,87.9v4.8M290.9,77.4v4.8M292.6,71.9v4.8M294.4,70.9v4.8M296.2,82.6v4.8M298.0,95.5v4.8M299.7,95.2v4.8M301.5,85.9v4.8M303.3,77.8v4.8M305.1,67.0v4.8M306.8,69.7v4.8M308.6,78.1v4.8M310.4,82.5v4.8M312.2,92.6v4.8M313.9,91.4v4.8M315.7,87.2v4.8M317.5,82.2v4.8M319.3,79.0v4.8M321.0,82.8v4.8M322.8,88.8v4.8M324.6,92.9v4.8M326.4,92.3v4.8M328.1,89.7v4.8M329.9,84.7v4.8M331.7,81.4v4.8M333.5,79.4v4.8M335.2,81.9v4.8M337.0,86.8v4.8M338.8,89.4v4.8M340.6,92.8v4.8M342.3,87.3v4.8M344.1,83.1v4.8M345.9,80.5v4.8M347.7,81.3v4.8M349.4,83.1v4.8M351.2,83.8v4.8M353.0,87.8v4.8M354.7,86.7v4.8M356.5,85.3v4.8M358.3,83.3v4.8M360.1,79.2v4.8M361.8,82.7v4.8M363.6,84.0v4.8M365.4,87.4v4.8M367.2,89.2v4.8M368.9,84.6v4.8M370.7,82.5v4.8M372.5,83.4v4.8M374.3,80.8v4.8M376.0,79.8v4.8M377.8,82.2v4.8M379.6,83.7v4.8M381.4,89.9v4.8M383.1,88.4v4.8M384.9,84.6v4.8M386.7,80.6v4.8M388.5,81.9v4.8M390.2,84.2v4.8M392.0,84.9v4.8M393.8,87.4v4.8M395.6,88.8v4.8M397.3,83.8v4.8M399.1,86.3v4.8M400.9,83.2v4.8M402.7,78.2v4.8M404.4,80.6v4.8M406.2,83.9v4.8M408.0,87.4v4.8M409.8,86.1v4.8M411.5,83.2v4.8M413.3,83.6v4.8M415.1,80.8v4.8M416.9,82.5v4.8M418.6,82.3v4.8M420.4,85.1v4.8M422.2,85.4v4.8M424.0,84.2v4.8M425.7,88.8v4.8M427.5,84.7v4.8M429.3,82.8v4.8M431.1,84.0v4.8M432.8,84.2v4.8M434.6,83.4v4.8M436.4,82.3v4.8M438.1,85.2v4.8M439.9,85.1v4.8M441.7,87.4v4.8M443.5,79.6v4.8M445.2,83.0v4.8" stroke="#ee2020" stroke-width="0.7" fill="none"/>
<polyline points="278.02,100.67 278.45,100.67 278.87,101.35 279.29,103.37 279.71,106.65 280.14,111.06 280.56,116.44 280.98,122.57 281.40,129.22 281.83,136.14 282.25,143.07 282.67,149.72 283.09,155.85 283.52,161.23 283.94,165.64 284.36,168.92 284.78,170.94 285.21,171.62 285.63,171.20 286.05,169.94 286.47,167.90 286.90,165.14 287.32,161.75 287.74,157.86 288.16,153.58 288.59,149.08 289.01,144.50 289.43,139.99 289.85,135.72 290.28,131.82 290.70,128.44 291.12,125.67 291.54,123.63 291.97,122.38 292.39,121.95 292.81,122.32 293.23,123.40 293.66,125.16 294.08,127.50 294.50,130.34 294.92,133.54 295.35,136.97 295.77,140.48 296.19,143.91 296.61,147.11 297.04,149.95 297.46,152.29 297.88,154.05 298.30,155.13 298.73,155.50 299.15,155.19 299.57,154.28 299.99,152.79 300.42,150.78 300.84,148.32 301.26,145.49 301.68,142.38 302.11,139.10 302.53,135.77 302.95,132.49 303.37,129.38 303.80,126.55 304.22,124.09 304.64,122.08 305.06,120.59 305.49,119.68 305.91,119.38 306.33,119.64 306.75,120.44 307.18,121.74 307.60,123.50 308.02,125.65 308.44,128.13 308.87,130.85 309.29,133.72 309.71,136.64 310.13,139.50 310.56,142.22 310.98,144.70 311.40,146.86 311.82,148.61 312.25,149.91 312.67,150.71 313.09,150.98 313.51,150.75 313.94,150.09 314.36,149.01 314.78,147.57 315.20,145.82 315.62,143.85 316.05,141.74 316.47,139.58 316.89,137.47 317.32,135.50 317.74,133.75 318.16,132.31 318.58,131.23 319.00,130.57 319.43,130.34 319.85,130.54 320.27,131.15 320.70,132.13 321.12,133.46 321.54,135.07 321.96,136.91 322.38,138.91 322.81,140.98 323.23,143.06 323.65,145.06 324.08,146.90 324.50,148.51 324.92,149.83 325.34,150.81 325.77,151.42 326.19,151.62 326.61,151.44 327.03,150.88 327.46,149.99 327.88,148.78 328.30,147.30 328.72,145.62 329.15,143.79 329.57,141.90 329.99,140.00 330.41,138.17 330.84,136.49 331.26,135.02 331.68,133.81 332.10,132.91 332.53,132.35 332.95,132.17 333.37,132.31 333.79,132.75 334.22,133.45 334.64,134.39 335.06,135.54 335.48,136.86 335.91,138.28 336.33,139.76 336.75,141.25 337.17,142.67 337.60,143.98 338.02,145.14 338.44,146.08 338.86,146.78 339.29,147.21 339.71,147.36 340.13,147.22 340.55,146.82 340.98,146.16 341.40,145.28 341.82,144.20 342.24,142.97 342.67,141.64 343.09,140.25 343.51,138.86 343.93,137.53 344.36,136.30 344.78,135.22 345.20,134.34 345.62,133.68 346.05,133.28 346.47,133.14 346.89,133.27 347.31,133.65 347.74,134.26 348.16,135.09 348.58,136.10 349.00,137.25 349.43,138.50 349.85,139.79 350.27,141.09 350.69,142.34 351.12,143.49 351.54,144.50 351.96,145.33 352.38,145.94 352.81,146.32 353.23,146.45 353.65,146.33 354.07,145.98 354.50,145.40 354.92,144.63 355.34,143.68 355.76,142.60 356.19,141.44 356.61,140.22 357.03,139.01 357.45,137.84 357.88,136.76 358.30,135.82 358.72,135.04 359.14,134.47 359.57,134.11 359.99,133.99 360.41,134.10 360.83,134.44 361.25,134.97 361.68,135.70 362.10,136.58 362.52,137.59 362.95,138.68 363.37,139.82 363.79,140.96 364.21,142.05 364.63,143.06 365.06,143.94 365.48,144.67 365.90,145.21 366.33,145.54 366.75,145.65 367.17,145.55 367.59,145.24 368.01,144.73 368.44,144.05 368.86,143.23 369.28,142.28 369.71,141.26 370.13,140.20 370.55,139.13 370.97,138.11 371.40,137.16 371.82,136.34 372.24,135.66 372.66,135.15 373.09,134.84 373.51,134.74 373.93,134.84 374.35,135.13 374.78,135.60 375.20,136.23 375.62,137.01 376.04,137.89 376.47,138.85 376.89,139.85 377.31,140.84 377.73,141.80 378.16,142.68 378.58,143.46 379.00,144.09 379.42,144.56 379.85,144.86 380.27,144.95 380.69,144.86 381.11,144.59 381.54,144.15 381.96,143.55 382.38,142.83 382.80,142.00 383.23,141.11 383.65,140.17 384.07,139.24 384.49,138.34 384.92,137.52 385.34,136.79 385.76,136.20 386.18,135.76 386.61,135.48 387.03,135.39 387.45,135.48 387.87,135.73 388.30,136.15 388.72,136.70 389.14,137.38 389.56,138.15 389.99,138.99 390.41,139.87 390.83,140.74 391.25,141.58 391.68,142.35 392.10,143.03 392.52,143.59 392.94,144.00 393.37,144.26 393.79,144.34 394.21,144.26 394.63,144.02 395.06,143.64 395.48,143.11 395.90,142.48 396.32,141.76 396.75,140.97 397.17,140.15 397.59,139.34 398.01,138.55 398.44,137.83 398.86,137.19 399.28,136.67 399.70,136.28 400.12,136.05 400.55,135.97 400.97,136.04 401.39,136.26 401.81,136.63 402.24,137.11 402.66,137.71 403.08,138.39 403.50,139.12 403.93,139.89 404.35,140.65 404.77,141.39 405.20,142.06 405.62,142.66 406.04,143.14 406.46,143.51 406.88,143.73 407.31,143.81 407.73,143.73 408.15,143.53 408.58,143.19 409.00,142.73 409.42,142.17 409.84,141.54 410.26,140.85 410.69,140.14 411.11,139.42 411.53,138.73 411.96,138.10 412.38,137.54 412.80,137.09 413.22,136.75 413.65,136.54 414.07,136.47 414.49,136.53 414.91,136.73 415.34,137.05 415.76,137.47 416.18,137.99 416.60,138.59 417.03,139.23 417.45,139.90 417.87,140.57 418.29,141.22 418.72,141.81 419.14,142.33 419.56,142.76 419.98,143.07 420.41,143.27 420.83,143.34 421.25,143.27 421.67,143.09 422.10,142.79 422.52,142.39 422.94,141.91 423.36,141.35 423.79,140.75 424.21,140.12 424.63,139.49 425.05,138.89 425.48,138.34 425.90,137.85 426.32,137.45 426.74,137.15 427.17,136.97 427.59,136.91 428.01,136.97 428.43,137.14 428.86,137.41 429.28,137.79 429.70,138.24 430.12,138.76 430.55,139.33 430.97,139.92 431.39,140.50 431.81,141.07 432.24,141.59 432.66,142.04 433.08,142.42 433.50,142.69 433.93,142.87 434.35,142.92 434.77,142.87 435.19,142.71 435.62,142.45 436.04,142.10 436.46,141.67 436.88,141.19 437.31,140.66 437.73,140.11 438.15,139.56 438.57,139.03 439.00,138.54 439.42,138.12 439.84,137.77 440.26,137.51 440.69,137.35 441.11,137.29 441.53,137.34 441.95,137.49 442.38,137.74 442.80,138.06 443.22,138.46 443.64,138.92 444.07,139.41 444.49,139.93 444.91,140.44 445.33,140.94 445.75,141.39 446.18,141.79 446.60,142.12" fill="none" stroke="#1e1ec8" stroke-width="0.9" stroke-linejoin="round" />
<path d="M276.7,100.7a1.75,1.75 0 1,0 3.5,0a1.75,1.75 0 1,0 -3.5,0M278.5,114.2a1.75,1.75 0 1,0 3.5,0a1.75,1.75 0 1,0 -3.5,0M280.2,139.0a1.75,1.75 0 1,0 3.5,0a1.75,1.75 0 1,0 -3.5,0M282.0,166.1a1.75,1.75 0 1,0 3.5,0a1.75,1.75 0 1,0 -3.5,0M283.8,171.2a1.75,1.75 0 1,0 3.5,0a1.75,1.75 0 1,0 -3.5,0M285.6,160.9a1.75,1.75 0 1,0 3.5,0a1.75,1.75 0 1,0 -3.5,0M287.3,143.5a1.75,1.75 0 1,0 3.5,0a1.75,1.75 0 1,0 -3.5,0M289.1,126.7a1.75,1.75 0 1,0 3.5,0a1.75,1.75 0 1,0 -3.5,0M290.9,123.7a1.75,1.75 0 1,0 3.5,0a1.75,1.75 0 1,0 -3.5,0M292.7,127.0a1.75,1.75 0 1,0 3.5,0a1.75,1.75 0 1,0 -3.5,0M294.4,145.2a1.75,1.75 0 1,0 3.5,0a1.75,1.75 0 1,0 -3.5,0M296.2,157.8a1.75,1.75 0 1,0 3.5,0a1.75,1.75 0 1,0 -3.5,0M298.0,154.1a1.75,1.75 0 1,0 3.5,0a1.75,1.75 0 1,0 -3.5,0M299.8,145.1a1.75,1.75 0 1,0 3.5,0a1.75,1.75 0 1,0 -3.5,0M301.5,131.9a1.75,1.75 0 1,0 3.5,0a1.75,1.75 0 1,0 -3.5,0M303.3,121.3a1.75,1.75 0 1,0 3.5,0a1.75,1.75 0 1,0 -3.5,0M305.1,120.1a1.75,1.75 0 1,0 3.5,0a1.75,1.75 0 1,0 -3.5,0M306.9,131.5a1.75,1.75 0 1,0 3.5,0a1.75,1.75 0 1,0 -3.5,0M308.6,141.4a1.75,1.75 0 1,0 3.5,0a1.75,1.75 0 1,0 -3.5,0M310.4,146.9a1.75,1.75 0 1,0 3.5,0a1.75,1.75 0 1,0 -3.5,0M312.2,148.8a1.75,1.75 0 1,0 3.5,0a1.75,1.75 0 1,0 -3.5,0M314.0,143.7a1.75,1.75 0 1,0 3.5,0a1.75,1.75 0 1,0 -3.5,0M315.7,134.5a1.75,1.75 0 1,0 3.5,0a1.75,1.75 0 1,0 -3.5,0M317.5,130.6a1.75,1.75 0 1,0 3.5,0a1.75,1.75 0 1,0 -3.5,0M319.3,133.3a1.75,1.75 0 1,0 3.5,0a1.75,1.75 0 1,0 -3.5,0M321.1,139.6a1.75,1.75 0 1,0 3.5,0a1.75,1.75 0 1,0 -3.5,0M322.8,149.0a1.75,1.75 0 1,0 3.5,0a1.75,1.75 0 1,0 -3.5,0M324.6,156.2a1.75,1.75 0 1,0 3.5,0a1.75,1.75 0 1,0 -3.5,0M326.4,148.0a1.75,1.75 0 1,0 3.5,0a1.75,1.75 0 1,0 -3.5,0M328.2,142.1a1.75,1.75 0 1,0 3.5,0a1.75,1.75 0 1,0 -3.5,0M329.9,132.5a1.75,1.75 0 1,0 3.5,0a1.75,1.75 0 1,0 -3.5,0M331.7,133.6a1.75,1.75 0 1,0 3.5,0a1.75,1.75 0 1,0 -3.5,0M333.5,135.8a1.75,1.75 0 1,0 3.5,0a1.75,1.75 0 1,0 -3.5,0M335.3,137.9a1.75,1.75 0 1,0 3.5,0a1.75,1.75 0 1,0 -3.5,0M337.0,148.7a1.75,1.75 0 1,0 3.5,0a1.75,1.75 0 1,0 -3.5,0M338.8,149.0a1.75,1.75 0 1,0 3.5,0a1.75,1.75 0 1,0 -3.5,0M340.6,145.4a1.75,1.75 0 1,0 3.5,0a1.75,1.75 0 1,0 -3.5,0M342.4,141.7a1.75,1.75 0 1,0 3.5,0a1.75,1.75 0 1,0 -3.5,0M344.1,137.0a1.75,1.75 0 1,0 3.5,0a1.75,1.75 0 1,0 -3.5,0M345.9,133.4a1.75,1.75 0 1,0 3.5,0a1.75,1.75 0 1,0 -3.5,0M347.7,139.7a1.75,1.75 0 1,0 3.5,0a1.75,1.75 0 1,0 -3.5,0M349.4,147.3a1.75,1.75 0 1,0 3.5,0a1.75,1.75 0 1,0 -3.5,0M351.2,149.3a1.75,1.75 0 1,0 3.5,0a1.75,1.75 0 1,0 -3.5,0M353.0,143.8a1.75,1.75 0 1,0 3.5,0a1.75,1.75 0 1,0 -3.5,0M354.8,142.0a1.75,1.75 0 1,0 3.5,0a1.75,1.75 0 1,0 -3.5,0M356.5,136.5a1.75,1.75 0 1,0 3.5,0a1.75,1.75 0 1,0 -3.5,0M358.3,133.4a1.75,1.75 0 1,0 3.5,0a1.75,1.75 0 1,0 -3.5,0M360.1,133.4a1.75,1.75 0 1,0 3.5,0a1.75,1.75 0 1,0 -3.5,0M361.9,136.8a1.75,1.75 0 1,0 3.5,0a1.75,1.75 0 1,0 -3.5,0M363.6,142.5a1.75,1.75 0 1,0 3.5,0a1.75,1.75 0 1,0 -3.5,0M365.4,145.3a1.75,1.75 0 1,0 3.5,0a1.75,1.75 0 1,0 -3.5,0M367.2,142.7a1.75,1.75 0 1,0 3.5,0a1.75,1.75 0 1,0 -3.5,0M369.0,135.2a1.75,1.75 0 1,0 3.5,0a1.75,1.75 0 1,0 -3.5,0M370.7,132.6a1.75,1.75 0 1,0 3.5,0a1.75,1.75 0 1,0 -3.5,0M372.5,135.7a1.75,1.75 0 1,0 3.5,0a1.75,1.75 0 1,0 -3.5,0M374.3,137.0a1.75,1.75 0 1,0 3.5,0a1.75,1.75 0 1,0 -3.5,0M376.1,141.4a1.75,1.75 0 1,0 3.5,0a1.75,1.75 0 1,0 -3.5,0M377.8,144.6a1.75,1.75 0 1,0 3.5,0a1.75,1.75 0 1,0 -3.5,0M379.6,145.3a1.75,1.75 0 1,0 3.5,0a1.75,1.75 0 1,0 -3.5,0M381.4,143.9a1.75,1.75 0 1,0 3.5,0a1.75,1.75 0 1,0 -3.5,0M383.2,138.6a1.75,1.75 0 1,0 3.5,0a1.75,1.75 0 1,0 -3.5,0M384.9,138.4a1.75,1.75 0 1,0 3.5,0a1.75,1.75 0 1,0 -3.5,0M386.7,134.0a1.75,1.75 0 1,0 3.5,0a1.75,1.75 0 1,0 -3.5,0M388.5,138.5a1.75,1.75 0 1,0 3.5,0a1.75,1.75 0 1,0 -3.5,0M390.3,145.2a1.75,1.75 0 1,0 3.5,0a1.75,1.75 0 1,0 -3.5,0M392.0,141.6a1.75,1.75 0 1,0 3.5,0a1.75,1.75 0 1,0 -3.5,0M393.8,141.3a1.75,1.75 0 1,0 3.5,0a1.75,1.75 0 1,0 -3.5,0M395.6,143.5a1.75,1.75 0 1,0 3.5,0a1.75,1.75 0 1,0 -3.5,0M397.4,133.3a1.75,1.75 0 1,0 3.5,0a1.75,1.75 0 1,0 -3.5,0M399.1,134.4a1.75,1.75 0 1,0 3.5,0a1.75,1.75 0 1,0 -3.5,0M400.9,133.7a1.75,1.75 0 1,0 3.5,0a1.75,1.75 0 1,0 -3.5,0M402.7,143.2a1.75,1.75 0 1,0 3.5,0a1.75,1.75 0 1,0 -3.5,0M404.5,142.3a1.75,1.75 0 1,0 3.5,0a1.75,1.75 0 1,0 -3.5,0M406.2,142.8a1.75,1.75 0 1,0 3.5,0a1.75,1.75 0 1,0 -3.5,0M408.0,141.3a1.75,1.75 0 1,0 3.5,0a1.75,1.75 0 1,0 -3.5,0M409.8,138.4a1.75,1.75 0 1,0 3.5,0a1.75,1.75 0 1,0 -3.5,0M411.6,134.7a1.75,1.75 0 1,0 3.5,0a1.75,1.75 0 1,0 -3.5,0M413.3,139.7a1.75,1.75 0 1,0 3.5,0a1.75,1.75 0 1,0 -3.5,0M415.1,141.4a1.75,1.75 0 1,0 3.5,0a1.75,1.75 0 1,0 -3.5,0M416.9,144.4a1.75,1.75 0 1,0 3.5,0a1.75,1.75 0 1,0 -3.5,0M418.7,144.3a1.75,1.75 0 1,0 3.5,0a1.75,1.75 0 1,0 -3.5,0M420.4,143.9a1.75,1.75 0 1,0 3.5,0a1.75,1.75 0 1,0 -3.5,0M422.2,139.8a1.75,1.75 0 1,0 3.5,0a1.75,1.75 0 1,0 -3.5,0M424.0,137.5a1.75,1.75 0 1,0 3.5,0a1.75,1.75 0 1,0 -3.5,0M425.8,136.8a1.75,1.75 0 1,0 3.5,0a1.75,1.75 0 1,0 -3.5,0M427.5,139.1a1.75,1.75 0 1,0 3.5,0a1.75,1.75 0 1,0 -3.5,0M429.3,140.9a1.75,1.75 0 1,0 3.5,0a1.75,1.75 0 1,0 -3.5,0M431.1,140.4a1.75,1.75 0 1,0 3.5,0a1.75,1.75 0 1,0 -3.5,0M432.9,141.4a1.75,1.75 0 1,0 3.5,0a1.75,1.75 0 1,0 -3.5,0M434.6,141.6a1.75,1.75 0 1,0 3.5,0a1.75,1.75 0 1,0 -3.5,0M436.4,140.2a1.75,1.75 0 1,0 3.5,0a1.75,1.75 0 1,0 -3.5,0M438.2,134.7a1.75,1.75 0 1,0 3.5,0a1.75,1.75 0 1,0 -3.5,0M439.9,138.5a1.75,1.75 0 1,0 3.5,0a1.75,1.75 0 1,0 -3.5,0M441.7,137.5a1.75,1.75 0 1,0 3.5,0a1.75,1.75 0 1,0 -3.5,0M443.5,138.6a1.75,1.75 0 1,0 3.5,0a1.75,1.75 0 1,0 -3.5,0" fill="#1e1ec8" opacity="1"/>
<path d="M278.4,98.3v4.8M280.2,111.8v4.8M282.0,136.6v4.8M283.8,163.7v4.8M285.5,168.8v4.8M287.3,158.5v4.8M289.1,141.1v4.8M290.9,124.3v4.8M292.6,121.3v4.8M294.4,124.6v4.8M296.2,142.8v4.8M298.0,155.4v4.8M299.7,151.7v4.8M301.5,142.7v4.8M303.3,129.5v4.8M305.1,118.9v4.8M306.8,117.7v4.8M308.6,129.1v4.8M310.4,139.0v4.8M312.2,144.5v4.8M313.9,146.4v4.8M315.7,141.3v4.8M317.5,132.1v4.8M319.3,128.2v4.8M321.0,130.9v4.8M322.8,137.2v4.8M324.6,146.6v4.8M326.4,153.8v4.8M328.1,145.6v4.8M329.9,139.7v4.8M331.7,130.1v4.8M333.5,131.2v4.8M335.2,133.4v4.8M337.0,135.5v4.8M338.8,146.3v4.8M340.6,146.6v4.8M342.3,143.0v4.8M344.1,139.3v4.8M345.9,134.6v4.8M347.7,131.0v4.8M349.4,137.3v4.8M351.2,144.9v4.8M353.0,146.9v4.8M354.7,141.4v4.8M356.5,139.6v4.8M358.3,134.1v4.8M360.1,131.0v4.8M361.8,131.0v4.8M363.6,134.4v4.8M365.4,140.1v4.8M367.2,142.9v4.8M368.9,140.3v4.8M370.7,132.8v4.8M372.5,130.2v4.8M374.3,133.3v4.8M376.0,134.6v4.8M377.8,139.0v4.8M379.6,142.2v4.8M381.4,142.9v4.8M383.1,141.5v4.8M384.9,136.2v4.8M386.7,136.0v4.8M388.5,131.6v4.8M390.2,136.1v4.8M392.0,142.8v4.8M393.8,139.2v4.8M395.6,138.9v4.8M397.3,141.1v4.8M399.1,130.9v4.8M400.9,132.0v4.8M402.7,131.3v4.8M404.4,140.8v4.8M406.2,139.9v4.8M408.0,140.4v4.8M409.8,138.9v4.8M411.5,136.0v4.8M413.3,132.3v4.8M415.1,137.3v4.8M416.9,139.0v4.8M418.6,142.0v4.8M420.4,141.9v4.8M422.2,141.5v4.8M424.0,137.4v4.8M425.7,135.1v4.8M427.5,134.4v4.8M429.3,136.7v4.8M431.1,138.5v4.8M432.8,138.0v4.8M434.6,139.0v4.8M436.4,139.2v4.8M438.1,137.8v4.8M439.9,132.3v4.8M441.7,136.1v4.8M443.5,135.1v4.8M445.2,136.2v4.8" stroke="#1e1ec8" stroke-width="0.7" fill="none"/>
<path d="M276.9,149.7a1.5,1.5 0 1,0 3.0,0a1.5,1.5 0 1,0 -3.0,0" fill="#1e1ec8" opacity="1"/>
<rect x="269.5" y="6.5" width="177.10" height="166.00" fill="none" stroke="#1a1a1a" stroke-width="1.1"/>
<line x1="269.5" y1="167.75" x2="274.5" y2="167.75" stroke="#1a1a1a" stroke-width="1"/>
<line x1="269.5" y1="135.50" x2="274.5" y2="135.50" stroke="#1a1a1a" stroke-width="1"/>
<line x1="269.5" y1="103.25" x2="274.5" y2="103.25" stroke="#1a1a1a" stroke-width="1"/>
<line x1="269.5" y1="71.00" x2="274.5" y2="71.00" stroke="#1a1a1a" stroke-width="1"/>
<line x1="269.5" y1="38.75" x2="274.5" y2="38.75" stroke="#1a1a1a" stroke-width="1"/>
<line x1="269.5" y1="6.50" x2="274.5" y2="6.50" stroke="#1a1a1a" stroke-width="1"/>
<line x1="269.5" y1="151.62" x2="272.5" y2="151.62" stroke="#1a1a1a" stroke-width="1"/>
<line x1="269.5" y1="119.38" x2="272.5" y2="119.38" stroke="#1a1a1a" stroke-width="1"/>
<line x1="269.5" y1="87.12" x2="272.5" y2="87.12" stroke="#1a1a1a" stroke-width="1"/>
<line x1="269.5" y1="54.88" x2="272.5" y2="54.88" stroke="#1a1a1a" stroke-width="1"/>
<line x1="269.5" y1="22.62" x2="272.5" y2="22.62" stroke="#1a1a1a" stroke-width="1"/>
<text x="266.50" y="170.85" font-size="8.6" text-anchor="end" fill="#222">0.0</text>
<text x="266.50" y="138.60" font-size="8.6" text-anchor="end" fill="#222">0.5</text>
<text x="266.50" y="106.35" font-size="8.6" text-anchor="end" fill="#222">1.0</text>
<text x="266.50" y="74.10" font-size="8.6" text-anchor="end" fill="#222">1.5</text>
<text x="266.50" y="41.85" font-size="8.6" text-anchor="end" fill="#222">2.0</text>
<text x="266.50" y="9.60" font-size="8.6" text-anchor="end" fill="#222">2.5</text>
<line x1="277.60" y1="172.5" x2="277.60" y2="168.0" stroke="#1a1a1a" stroke-width="1"/>
<line x1="319.85" y1="172.5" x2="319.85" y2="168.0" stroke="#1a1a1a" stroke-width="1"/>
<line x1="362.10" y1="172.5" x2="362.10" y2="168.0" stroke="#1a1a1a" stroke-width="1"/>
<line x1="404.35" y1="172.5" x2="404.35" y2="168.0" stroke="#1a1a1a" stroke-width="1"/>
<line x1="446.60" y1="172.5" x2="446.60" y2="168.0" stroke="#1a1a1a" stroke-width="1"/>
<line x1="288.16" y1="172.5" x2="288.16" y2="170.0" stroke="#1a1a1a" stroke-width="1"/>
<line x1="298.73" y1="172.5" x2="298.73" y2="170.0" stroke="#1a1a1a" stroke-width="1"/>
<line x1="309.29" y1="172.5" x2="309.29" y2="170.0" stroke="#1a1a1a" stroke-width="1"/>
<line x1="330.41" y1="172.5" x2="330.41" y2="170.0" stroke="#1a1a1a" stroke-width="1"/>
<line x1="340.98" y1="172.5" x2="340.98" y2="170.0" stroke="#1a1a1a" stroke-width="1"/>
<line x1="351.54" y1="172.5" x2="351.54" y2="170.0" stroke="#1a1a1a" stroke-width="1"/>
<line x1="372.66" y1="172.5" x2="372.66" y2="170.0" stroke="#1a1a1a" stroke-width="1"/>
<line x1="383.23" y1="172.5" x2="383.23" y2="170.0" stroke="#1a1a1a" stroke-width="1"/>
<line x1="393.79" y1="172.5" x2="393.79" y2="170.0" stroke="#1a1a1a" stroke-width="1"/>
<line x1="414.91" y1="172.5" x2="414.91" y2="170.0" stroke="#1a1a1a" stroke-width="1"/>
<line x1="425.48" y1="172.5" x2="425.48" y2="170.0" stroke="#1a1a1a" stroke-width="1"/>
<line x1="436.04" y1="172.5" x2="436.04" y2="170.0" stroke="#1a1a1a" stroke-width="1"/>
<text x="277.60" y="182.10" font-size="8.6" text-anchor="middle" fill="#222">0.0</text>
<text x="319.85" y="182.10" font-size="8.6" text-anchor="middle" fill="#222">0.1</text>
<text x="362.10" y="182.10" font-size="8.6" text-anchor="middle" fill="#222">0.2</text>
<text x="404.35" y="182.10" font-size="8.6" text-anchor="middle" fill="#222">0.3</text>
<text x="446.60" y="182.10" font-size="8.6" text-anchor="middle" fill="#222">0.4</text>
<text x="397.3" y="61" font-size="9.3" text-anchor="middle" fill="#2e962e">3 K and 2.3 GPa</text>
<text x="399.8" y="109.5" font-size="9.3" text-anchor="middle" fill="#e81c1c">20 K and 0.6 GPa</text>
<text x="397.3" y="161.7" font-size="9.3" text-anchor="middle" fill="#1e1ec8">6.5 K and 0 GPa</text>
<text x="358.1" y="199" font-size="12" letter-spacing="0.75" text-anchor="middle" fill="#111"><tspan font-style="italic">t</tspan> (μs)</text>
<g transform="translate(243.3,89) rotate(-90)"><text x="0" y="0" font-size="12" letter-spacing="0.5" text-anchor="middle" fill="#111"><tspan font-style="italic">G</tspan><tspan font-size="8.6" dy="2.9">mag</tspan></text></g>
<text x="224.2" y="10.7" font-size="16.6" font-weight="bold" fill="#000">c</text>
<path d="M47.2,240.1a1.7,1.7 0 1,0 3.4,0a1.7,1.7 0 1,0 -3.4,0M49.3,238.0a1.7,1.7 0 1,0 3.4,0a1.7,1.7 0 1,0 -3.4,0M51.3,241.0a1.7,1.7 0 1,0 3.4,0a1.7,1.7 0 1,0 -3.4,0M53.3,236.8a1.7,1.7 0 1,0 3.4,0a1.7,1.7 0 1,0 -3.4,0M55.3,237.5a1.7,1.7 0 1,0 3.4,0a1.7,1.7 0 1,0 -3.4,0M57.3,239.9a1.7,1.7 0 1,0 3.4,0a1.7,1.7 0 1,0 -3.4,0M59.4,235.4a1.7,1.7 0 1,0 3.4,0a1.7,1.7 0 1,0 -3.4,0M61.4,237.5a1.7,1.7 0 1,0 3.4,0a1.7,1.7 0 1,0 -3.4,0M63.4,233.2a1.7,1.7 0 1,0 3.4,0a1.7,1.7 0 1,0 -3.4,0M65.4,236.3a1.7,1.7 0 1,0 3.4,0a1.7,1.7 0 1,0 -3.4,0M67.4,235.3a1.7,1.7 0 1,0 3.4,0a1.7,1.7 0 1,0 -3.4,0M69.5,234.7a1.7,1.7 0 1,0 3.4,0a1.7,1.7 0 1,0 -3.4,0M71.5,236.0a1.7,1.7 0 1,0 3.4,0a1.7,1.7 0 1,0 -3.4,0M73.5,235.4a1.7,1.7 0 1,0 3.4,0a1.7,1.7 0 1,0 -3.4,0M75.5,237.3a1.7,1.7 0 1,0 3.4,0a1.7,1.7 0 1,0 -3.4,0M77.6,235.8a1.7,1.7 0 1,0 3.4,0a1.7,1.7 0 1,0 -3.4,0M79.6,237.5a1.7,1.7 0 1,0 3.4,0a1.7,1.7 0 1,0 -3.4,0M81.6,237.7a1.7,1.7 0 1,0 3.4,0a1.7,1.7 0 1,0 -3.4,0M83.6,243.3a1.7,1.7 0 1,0 3.4,0a1.7,1.7 0 1,0 -3.4,0M85.6,236.9a1.7,1.7 0 1,0 3.4,0a1.7,1.7 0 1,0 -3.4,0M87.7,239.0a1.7,1.7 0 1,0 3.4,0a1.7,1.7 0 1,0 -3.4,0M89.7,242.1a1.7,1.7 0 1,0 3.4,0a1.7,1.7 0 1,0 -3.4,0M91.7,238.9a1.7,1.7 0 1,0 3.4,0a1.7,1.7 0 1,0 -3.4,0M93.7,238.1a1.7,1.7 0 1,0 3.4,0a1.7,1.7 0 1,0 -3.4,0M95.7,237.0a1.7,1.7 0 1,0 3.4,0a1.7,1.7 0 1,0 -3.4,0M97.8,240.6a1.7,1.7 0 1,0 3.4,0a1.7,1.7 0 1,0 -3.4,0M99.8,236.0a1.7,1.7 0 1,0 3.4,0a1.7,1.7 0 1,0 -3.4,0M101.8,238.8a1.7,1.7 0 1,0 3.4,0a1.7,1.7 0 1,0 -3.4,0M103.8,234.4a1.7,1.7 0 1,0 3.4,0a1.7,1.7 0 1,0 -3.4,0M105.8,238.7a1.7,1.7 0 1,0 3.4,0a1.7,1.7 0 1,0 -3.4,0M107.9,237.4a1.7,1.7 0 1,0 3.4,0a1.7,1.7 0 1,0 -3.4,0M109.9,239.4a1.7,1.7 0 1,0 3.4,0a1.7,1.7 0 1,0 -3.4,0M111.9,241.0a1.7,1.7 0 1,0 3.4,0a1.7,1.7 0 1,0 -3.4,0M113.9,237.5a1.7,1.7 0 1,0 3.4,0a1.7,1.7 0 1,0 -3.4,0M115.9,238.2a1.7,1.7 0 1,0 3.4,0a1.7,1.7 0 1,0 -3.4,0M118.0,237.4a1.7,1.7 0 1,0 3.4,0a1.7,1.7 0 1,0 -3.4,0M120.0,238.8a1.7,1.7 0 1,0 3.4,0a1.7,1.7 0 1,0 -3.4,0M122.0,241.3a1.7,1.7 0 1,0 3.4,0a1.7,1.7 0 1,0 -3.4,0M124.0,243.1a1.7,1.7 0 1,0 3.4,0a1.7,1.7 0 1,0 -3.4,0M126.1,241.3a1.7,1.7 0 1,0 3.4,0a1.7,1.7 0 1,0 -3.4,0M128.1,241.1a1.7,1.7 0 1,0 3.4,0a1.7,1.7 0 1,0 -3.4,0M130.1,241.1a1.7,1.7 0 1,0 3.4,0a1.7,1.7 0 1,0 -3.4,0M132.1,238.5a1.7,1.7 0 1,0 3.4,0a1.7,1.7 0 1,0 -3.4,0M134.1,238.7a1.7,1.7 0 1,0 3.4,0a1.7,1.7 0 1,0 -3.4,0M136.2,239.6a1.7,1.7 0 1,0 3.4,0a1.7,1.7 0 1,0 -3.4,0M138.2,238.7a1.7,1.7 0 1,0 3.4,0a1.7,1.7 0 1,0 -3.4,0M140.2,239.3a1.7,1.7 0 1,0 3.4,0a1.7,1.7 0 1,0 -3.4,0M142.2,238.8a1.7,1.7 0 1,0 3.4,0a1.7,1.7 0 1,0 -3.4,0M144.2,238.1a1.7,1.7 0 1,0 3.4,0a1.7,1.7 0 1,0 -3.4,0M146.3,238.0a1.7,1.7 0 1,0 3.4,0a1.7,1.7 0 1,0 -3.4,0M148.3,241.2a1.7,1.7 0 1,0 3.4,0a1.7,1.7 0 1,0 -3.4,0M150.3,242.9a1.7,1.7 0 1,0 3.4,0a1.7,1.7 0 1,0 -3.4,0M152.3,238.1a1.7,1.7 0 1,0 3.4,0a1.7,1.7 0 1,0 -3.4,0M154.3,240.5a1.7,1.7 0 1,0 3.4,0a1.7,1.7 0 1,0 -3.4,0M156.4,238.8a1.7,1.7 0 1,0 3.4,0a1.7,1.7 0 1,0 -3.4,0M158.4,243.5a1.7,1.7 0 1,0 3.4,0a1.7,1.7 0 1,0 -3.4,0M160.4,241.1a1.7,1.7 0 1,0 3.4,0a1.7,1.7 0 1,0 -3.4,0M162.4,240.3a1.7,1.7 0 1,0 3.4,0a1.7,1.7 0 1,0 -3.4,0M164.4,242.6a1.7,1.7 0 1,0 3.4,0a1.7,1.7 0 1,0 -3.4,0M166.5,240.8a1.7,1.7 0 1,0 3.4,0a1.7,1.7 0 1,0 -3.4,0M168.5,238.5a1.7,1.7 0 1,0 3.4,0a1.7,1.7 0 1,0 -3.4,0M170.5,237.8a1.7,1.7 0 1,0 3.4,0a1.7,1.7 0 1,0 -3.4,0M172.5,236.8a1.7,1.7 0 1,0 3.4,0a1.7,1.7 0 1,0 -3.4,0M174.6,241.1a1.7,1.7 0 1,0 3.4,0a1.7,1.7 0 1,0 -3.4,0M176.6,242.2a1.7,1.7 0 1,0 3.4,0a1.7,1.7 0 1,0 -3.4,0M178.6,239.1a1.7,1.7 0 1,0 3.4,0a1.7,1.7 0 1,0 -3.4,0M180.6,238.6a1.7,1.7 0 1,0 3.4,0a1.7,1.7 0 1,0 -3.4,0M182.6,240.2a1.7,1.7 0 1,0 3.4,0a1.7,1.7 0 1,0 -3.4,0M184.7,243.0a1.7,1.7 0 1,0 3.4,0a1.7,1.7 0 1,0 -3.4,0M186.7,239.6a1.7,1.7 0 1,0 3.4,0a1.7,1.7 0 1,0 -3.4,0M188.7,239.7a1.7,1.7 0 1,0 3.4,0a1.7,1.7 0 1,0 -3.4,0M190.7,240.1a1.7,1.7 0 1,0 3.4,0a1.7,1.7 0 1,0 -3.4,0M192.7,241.8a1.7,1.7 0 1,0 3.4,0a1.7,1.7 0 1,0 -3.4,0M194.8,240.3a1.7,1.7 0 1,0 3.4,0a1.7,1.7 0 1,0 -3.4,0M196.8,239.3a1.7,1.7 0 1,0 3.4,0a1.7,1.7 0 1,0 -3.4,0M198.8,241.5a1.7,1.7 0 1,0 3.4,0a1.7,1.7 0 1,0 -3.4,0M200.8,243.5a1.7,1.7 0 1,0 3.4,0a1.7,1.7 0 1,0 -3.4,0M202.8,239.6a1.7,1.7 0 1,0 3.4,0a1.7,1.7 0 1,0 -3.4,0M204.9,239.3a1.7,1.7 0 1,0 3.4,0a1.7,1.7 0 1,0 -3.4,0M206.9,240.1a1.7,1.7 0 1,0 3.4,0a1.7,1.7 0 1,0 -3.4,0M208.9,238.6a1.7,1.7 0 1,0 3.4,0a1.7,1.7 0 1,0 -3.4,0M210.9,241.3a1.7,1.7 0 1,0 3.4,0a1.7,1.7 0 1,0 -3.4,0M212.9,240.7a1.7,1.7 0 1,0 3.4,0a1.7,1.7 0 1,0 -3.4,0" fill="#8a0af0" opacity="1"/>
<path d="M47.2,245.7a1.7,1.7 0 1,0 3.4,0a1.7,1.7 0 1,0 -3.4,0M49.3,247.0a1.7,1.7 0 1,0 3.4,0a1.7,1.7 0 1,0 -3.4,0M51.3,247.2a1.7,1.7 0 1,0 3.4,0a1.7,1.7 0 1,0 -3.4,0M53.3,250.4a1.7,1.7 0 1,0 3.4,0a1.7,1.7 0 1,0 -3.4,0M55.3,246.2a1.7,1.7 0 1,0 3.4,0a1.7,1.7 0 1,0 -3.4,0M57.3,246.9a1.7,1.7 0 1,0 3.4,0a1.7,1.7 0 1,0 -3.4,0M59.4,248.1a1.7,1.7 0 1,0 3.4,0a1.7,1.7 0 1,0 -3.4,0M61.4,248.6a1.7,1.7 0 1,0 3.4,0a1.7,1.7 0 1,0 -3.4,0M63.4,247.0a1.7,1.7 0 1,0 3.4,0a1.7,1.7 0 1,0 -3.4,0M65.4,251.1a1.7,1.7 0 1,0 3.4,0a1.7,1.7 0 1,0 -3.4,0M67.4,251.7a1.7,1.7 0 1,0 3.4,0a1.7,1.7 0 1,0 -3.4,0M69.5,254.1a1.7,1.7 0 1,0 3.4,0a1.7,1.7 0 1,0 -3.4,0M71.5,252.1a1.7,1.7 0 1,0 3.4,0a1.7,1.7 0 1,0 -3.4,0M73.5,251.1a1.7,1.7 0 1,0 3.4,0a1.7,1.7 0 1,0 -3.4,0M75.5,252.7a1.7,1.7 0 1,0 3.4,0a1.7,1.7 0 1,0 -3.4,0M77.6,253.0a1.7,1.7 0 1,0 3.4,0a1.7,1.7 0 1,0 -3.4,0M79.6,254.4a1.7,1.7 0 1,0 3.4,0a1.7,1.7 0 1,0 -3.4,0M81.6,254.3a1.7,1.7 0 1,0 3.4,0a1.7,1.7 0 1,0 -3.4,0M83.6,257.7a1.7,1.7 0 1,0 3.4,0a1.7,1.7 0 1,0 -3.4,0M85.6,254.2a1.7,1.7 0 1,0 3.4,0a1.7,1.7 0 1,0 -3.4,0M87.7,257.3a1.7,1.7 0 1,0 3.4,0a1.7,1.7 0 1,0 -3.4,0M89.7,259.0a1.7,1.7 0 1,0 3.4,0a1.7,1.7 0 1,0 -3.4,0M91.7,258.7a1.7,1.7 0 1,0 3.4,0a1.7,1.7 0 1,0 -3.4,0M93.7,258.8a1.7,1.7 0 1,0 3.4,0a1.7,1.7 0 1,0 -3.4,0M95.7,256.0a1.7,1.7 0 1,0 3.4,0a1.7,1.7 0 1,0 -3.4,0M97.8,255.7a1.7,1.7 0 1,0 3.4,0a1.7,1.7 0 1,0 -3.4,0M99.8,259.9a1.7,1.7 0 1,0 3.4,0a1.7,1.7 0 1,0 -3.4,0M101.8,256.1a1.7,1.7 0 1,0 3.4,0a1.7,1.7 0 1,0 -3.4,0M103.8,256.2a1.7,1.7 0 1,0 3.4,0a1.7,1.7 0 1,0 -3.4,0M105.8,258.8a1.7,1.7 0 1,0 3.4,0a1.7,1.7 0 1,0 -3.4,0M107.9,260.4a1.7,1.7 0 1,0 3.4,0a1.7,1.7 0 1,0 -3.4,0M109.9,259.1a1.7,1.7 0 1,0 3.4,0a1.7,1.7 0 1,0 -3.4,0M111.9,259.0a1.7,1.7 0 1,0 3.4,0a1.7,1.7 0 1,0 -3.4,0M113.9,257.6a1.7,1.7 0 1,0 3.4,0a1.7,1.7 0 1,0 -3.4,0M115.9,259.1a1.7,1.7 0 1,0 3.4,0a1.7,1.7 0 1,0 -3.4,0M118.0,262.3a1.7,1.7 0 1,0 3.4,0a1.7,1.7 0 1,0 -3.4,0M120.0,258.8a1.7,1.7 0 1,0 3.4,0a1.7,1.7 0 1,0 -3.4,0M122.0,262.1a1.7,1.7 0 1,0 3.4,0a1.7,1.7 0 1,0 -3.4,0M124.0,258.1a1.7,1.7 0 1,0 3.4,0a1.7,1.7 0 1,0 -3.4,0M126.1,261.8a1.7,1.7 0 1,0 3.4,0a1.7,1.7 0 1,0 -3.4,0M128.1,260.9a1.7,1.7 0 1,0 3.4,0a1.7,1.7 0 1,0 -3.4,0M130.1,261.2a1.7,1.7 0 1,0 3.4,0a1.7,1.7 0 1,0 -3.4,0M132.1,260.6a1.7,1.7 0 1,0 3.4,0a1.7,1.7 0 1,0 -3.4,0M134.1,257.3a1.7,1.7 0 1,0 3.4,0a1.7,1.7 0 1,0 -3.4,0M136.2,257.9a1.7,1.7 0 1,0 3.4,0a1.7,1.7 0 1,0 -3.4,0M138.2,258.3a1.7,1.7 0 1,0 3.4,0a1.7,1.7 0 1,0 -3.4,0M140.2,258.7a1.7,1.7 0 1,0 3.4,0a1.7,1.7 0 1,0 -3.4,0M142.2,261.9a1.7,1.7 0 1,0 3.4,0a1.7,1.7 0 1,0 -3.4,0M144.2,260.1a1.7,1.7 0 1,0 3.4,0a1.7,1.7 0 1,0 -3.4,0M146.3,260.3a1.7,1.7 0 1,0 3.4,0a1.7,1.7 0 1,0 -3.4,0M148.3,261.2a1.7,1.7 0 1,0 3.4,0a1.7,1.7 0 1,0 -3.4,0M150.3,258.8a1.7,1.7 0 1,0 3.4,0a1.7,1.7 0 1,0 -3.4,0M152.3,261.2a1.7,1.7 0 1,0 3.4,0a1.7,1.7 0 1,0 -3.4,0M154.3,261.4a1.7,1.7 0 1,0 3.4,0a1.7,1.7 0 1,0 -3.4,0M156.4,262.1a1.7,1.7 0 1,0 3.4,0a1.7,1.7 0 1,0 -3.4,0M158.4,264.0a1.7,1.7 0 1,0 3.4,0a1.7,1.7 0 1,0 -3.4,0M160.4,259.5a1.7,1.7 0 1,0 3.4,0a1.7,1.7 0 1,0 -3.4,0M162.4,258.2a1.7,1.7 0 1,0 3.4,0a1.7,1.7 0 1,0 -3.4,0M164.4,260.1a1.7,1.7 0 1,0 3.4,0a1.7,1.7 0 1,0 -3.4,0M166.5,261.9a1.7,1.7 0 1,0 3.4,0a1.7,1.7 0 1,0 -3.4,0M168.5,264.7a1.7,1.7 0 1,0 3.4,0a1.7,1.7 0 1,0 -3.4,0M170.5,259.6a1.7,1.7 0 1,0 3.4,0a1.7,1.7 0 1,0 -3.4,0M172.5,257.7a1.7,1.7 0 1,0 3.4,0a1.7,1.7 0 1,0 -3.4,0M174.6,259.2a1.7,1.7 0 1,0 3.4,0a1.7,1.7 0 1,0 -3.4,0M176.6,258.1a1.7,1.7 0 1,0 3.4,0a1.7,1.7 0 1,0 -3.4,0M178.6,257.1a1.7,1.7 0 1,0 3.4,0a1.7,1.7 0 1,0 -3.4,0M180.6,257.8a1.7,1.7 0 1,0 3.4,0a1.7,1.7 0 1,0 -3.4,0M182.6,260.7a1.7,1.7 0 1,0 3.4,0a1.7,1.7 0 1,0 -3.4,0M184.7,258.3a1.7,1.7 0 1,0 3.4,0a1.7,1.7 0 1,0 -3.4,0M186.7,259.0a1.7,1.7 0 1,0 3.4,0a1.7,1.7 0 1,0 -3.4,0M188.7,263.1a1.7,1.7 0 1,0 3.4,0a1.7,1.7 0 1,0 -3.4,0M190.7,261.3a1.7,1.7 0 1,0 3.4,0a1.7,1.7 0 1,0 -3.4,0M192.7,263.2a1.7,1.7 0 1,0 3.4,0a1.7,1.7 0 1,0 -3.4,0M194.8,260.9a1.7,1.7 0 1,0 3.4,0a1.7,1.7 0 1,0 -3.4,0M196.8,259.6a1.7,1.7 0 1,0 3.4,0a1.7,1.7 0 1,0 -3.4,0M198.8,262.4a1.7,1.7 0 1,0 3.4,0a1.7,1.7 0 1,0 -3.4,0M200.8,263.9a1.7,1.7 0 1,0 3.4,0a1.7,1.7 0 1,0 -3.4,0M202.8,258.0a1.7,1.7 0 1,0 3.4,0a1.7,1.7 0 1,0 -3.4,0M204.9,259.4a1.7,1.7 0 1,0 3.4,0a1.7,1.7 0 1,0 -3.4,0M206.9,257.4a1.7,1.7 0 1,0 3.4,0a1.7,1.7 0 1,0 -3.4,0M208.9,262.1a1.7,1.7 0 1,0 3.4,0a1.7,1.7 0 1,0 -3.4,0M210.9,258.0a1.7,1.7 0 1,0 3.4,0a1.7,1.7 0 1,0 -3.4,0M212.9,256.3a1.7,1.7 0 1,0 3.4,0a1.7,1.7 0 1,0 -3.4,0" fill="#3080f0" opacity="1"/>
<path d="M47.2,258.2a1.7,1.7 0 1,0 3.4,0a1.7,1.7 0 1,0 -3.4,0M49.3,265.8a1.7,1.7 0 1,0 3.4,0a1.7,1.7 0 1,0 -3.4,0M51.3,267.9a1.7,1.7 0 1,0 3.4,0a1.7,1.7 0 1,0 -3.4,0M53.3,269.3a1.7,1.7 0 1,0 3.4,0a1.7,1.7 0 1,0 -3.4,0M55.3,269.2a1.7,1.7 0 1,0 3.4,0a1.7,1.7 0 1,0 -3.4,0M57.3,271.3a1.7,1.7 0 1,0 3.4,0a1.7,1.7 0 1,0 -3.4,0M59.4,274.6a1.7,1.7 0 1,0 3.4,0a1.7,1.7 0 1,0 -3.4,0M61.4,277.5a1.7,1.7 0 1,0 3.4,0a1.7,1.7 0 1,0 -3.4,0M63.4,274.2a1.7,1.7 0 1,0 3.4,0a1.7,1.7 0 1,0 -3.4,0M65.4,276.2a1.7,1.7 0 1,0 3.4,0a1.7,1.7 0 1,0 -3.4,0M67.4,274.6a1.7,1.7 0 1,0 3.4,0a1.7,1.7 0 1,0 -3.4,0M69.5,275.4a1.7,1.7 0 1,0 3.4,0a1.7,1.7 0 1,0 -3.4,0M71.5,273.5a1.7,1.7 0 1,0 3.4,0a1.7,1.7 0 1,0 -3.4,0M73.5,274.4a1.7,1.7 0 1,0 3.4,0a1.7,1.7 0 1,0 -3.4,0M75.5,277.1a1.7,1.7 0 1,0 3.4,0a1.7,1.7 0 1,0 -3.4,0M77.6,275.9a1.7,1.7 0 1,0 3.4,0a1.7,1.7 0 1,0 -3.4,0M79.6,273.7a1.7,1.7 0 1,0 3.4,0a1.7,1.7 0 1,0 -3.4,0M81.6,277.6a1.7,1.7 0 1,0 3.4,0a1.7,1.7 0 1,0 -3.4,0M83.6,276.3a1.7,1.7 0 1,0 3.4,0a1.7,1.7 0 1,0 -3.4,0M85.6,275.5a1.7,1.7 0 1,0 3.4,0a1.7,1.7 0 1,0 -3.4,0M87.7,275.8a1.7,1.7 0 1,0 3.4,0a1.7,1.7 0 1,0 -3.4,0M89.7,277.4a1.7,1.7 0 1,0 3.4,0a1.7,1.7 0 1,0 -3.4,0M91.7,280.6a1.7,1.7 0 1,0 3.4,0a1.7,1.7 0 1,0 -3.4,0M93.7,280.7a1.7,1.7 0 1,0 3.4,0a1.7,1.7 0 1,0 -3.4,0M95.7,278.3a1.7,1.7 0 1,0 3.4,0a1.7,1.7 0 1,0 -3.4,0M97.8,278.1a1.7,1.7 0 1,0 3.4,0a1.7,1.7 0 1,0 -3.4,0M99.8,274.5a1.7,1.7 0 1,0 3.4,0a1.7,1.7 0 1,0 -3.4,0M101.8,280.0a1.7,1.7 0 1,0 3.4,0a1.7,1.7 0 1,0 -3.4,0M103.8,276.7a1.7,1.7 0 1,0 3.4,0a1.7,1.7 0 1,0 -3.4,0M105.8,277.2a1.7,1.7 0 1,0 3.4,0a1.7,1.7 0 1,0 -3.4,0M107.9,281.1a1.7,1.7 0 1,0 3.4,0a1.7,1.7 0 1,0 -3.4,0M109.9,279.7a1.7,1.7 0 1,0 3.4,0a1.7,1.7 0 1,0 -3.4,0M111.9,278.1a1.7,1.7 0 1,0 3.4,0a1.7,1.7 0 1,0 -3.4,0M113.9,279.2a1.7,1.7 0 1,0 3.4,0a1.7,1.7 0 1,0 -3.4,0M115.9,278.9a1.7,1.7 0 1,0 3.4,0a1.7,1.7 0 1,0 -3.4,0M118.0,278.1a1.7,1.7 0 1,0 3.4,0a1.7,1.7 0 1,0 -3.4,0M120.0,280.5a1.7,1.7 0 1,0 3.4,0a1.7,1.7 0 1,0 -3.4,0M122.0,278.7a1.7,1.7 0 1,0 3.4,0a1.7,1.7 0 1,0 -3.4,0M124.0,280.7a1.7,1.7 0 1,0 3.4,0a1.7,1.7 0 1,0 -3.4,0M126.1,280.7a1.7,1.7 0 1,0 3.4,0a1.7,1.7 0 1,0 -3.4,0M128.1,279.1a1.7,1.7 0 1,0 3.4,0a1.7,1.7 0 1,0 -3.4,0M130.1,280.9a1.7,1.7 0 1,0 3.4,0a1.7,1.7 0 1,0 -3.4,0M132.1,279.4a1.7,1.7 0 1,0 3.4,0a1.7,1.7 0 1,0 -3.4,0M134.1,277.2a1.7,1.7 0 1,0 3.4,0a1.7,1.7 0 1,0 -3.4,0M136.2,279.6a1.7,1.7 0 1,0 3.4,0a1.7,1.7 0 1,0 -3.4,0M138.2,279.8a1.7,1.7 0 1,0 3.4,0a1.7,1.7 0 1,0 -3.4,0M140.2,278.2a1.7,1.7 0 1,0 3.4,0a1.7,1.7 0 1,0 -3.4,0M142.2,279.9a1.7,1.7 0 1,0 3.4,0a1.7,1.7 0 1,0 -3.4,0M144.2,277.5a1.7,1.7 0 1,0 3.4,0a1.7,1.7 0 1,0 -3.4,0M146.3,281.3a1.7,1.7 0 1,0 3.4,0a1.7,1.7 0 1,0 -3.4,0M148.3,278.4a1.7,1.7 0 1,0 3.4,0a1.7,1.7 0 1,0 -3.4,0M150.3,280.3a1.7,1.7 0 1,0 3.4,0a1.7,1.7 0 1,0 -3.4,0M152.3,281.0a1.7,1.7 0 1,0 3.4,0a1.7,1.7 0 1,0 -3.4,0M154.3,277.1a1.7,1.7 0 1,0 3.4,0a1.7,1.7 0 1,0 -3.4,0M156.4,281.5a1.7,1.7 0 1,0 3.4,0a1.7,1.7 0 1,0 -3.4,0M158.4,277.5a1.7,1.7 0 1,0 3.4,0a1.7,1.7 0 1,0 -3.4,0M160.4,279.4a1.7,1.7 0 1,0 3.4,0a1.7,1.7 0 1,0 -3.4,0M162.4,278.2a1.7,1.7 0 1,0 3.4,0a1.7,1.7 0 1,0 -3.4,0M164.4,282.0a1.7,1.7 0 1,0 3.4,0a1.7,1.7 0 1,0 -3.4,0M166.5,278.4a1.7,1.7 0 1,0 3.4,0a1.7,1.7 0 1,0 -3.4,0M168.5,277.9a1.7,1.7 0 1,0 3.4,0a1.7,1.7 0 1,0 -3.4,0M170.5,280.3a1.7,1.7 0 1,0 3.4,0a1.7,1.7 0 1,0 -3.4,0M172.5,280.2a1.7,1.7 0 1,0 3.4,0a1.7,1.7 0 1,0 -3.4,0M174.6,275.9a1.7,1.7 0 1,0 3.4,0a1.7,1.7 0 1,0 -3.4,0M176.6,279.4a1.7,1.7 0 1,0 3.4,0a1.7,1.7 0 1,0 -3.4,0M178.6,280.4a1.7,1.7 0 1,0 3.4,0a1.7,1.7 0 1,0 -3.4,0M180.6,280.7a1.7,1.7 0 1,0 3.4,0a1.7,1.7 0 1,0 -3.4,0M182.6,279.1a1.7,1.7 0 1,0 3.4,0a1.7,1.7 0 1,0 -3.4,0M184.7,279.4a1.7,1.7 0 1,0 3.4,0a1.7,1.7 0 1,0 -3.4,0M186.7,279.8a1.7,1.7 0 1,0 3.4,0a1.7,1.7 0 1,0 -3.4,0M188.7,277.6a1.7,1.7 0 1,0 3.4,0a1.7,1.7 0 1,0 -3.4,0M190.7,281.0a1.7,1.7 0 1,0 3.4,0a1.7,1.7 0 1,0 -3.4,0M192.7,279.9a1.7,1.7 0 1,0 3.4,0a1.7,1.7 0 1,0 -3.4,0M194.8,278.4a1.7,1.7 0 1,0 3.4,0a1.7,1.7 0 1,0 -3.4,0M196.8,282.3a1.7,1.7 0 1,0 3.4,0a1.7,1.7 0 1,0 -3.4,0M198.8,279.0a1.7,1.7 0 1,0 3.4,0a1.7,1.7 0 1,0 -3.4,0M200.8,277.6a1.7,1.7 0 1,0 3.4,0a1.7,1.7 0 1,0 -3.4,0M202.8,282.6a1.7,1.7 0 1,0 3.4,0a1.7,1.7 0 1,0 -3.4,0M204.9,282.0a1.7,1.7 0 1,0 3.4,0a1.7,1.7 0 1,0 -3.4,0M206.9,281.8a1.7,1.7 0 1,0 3.4,0a1.7,1.7 0 1,0 -3.4,0M208.9,282.9a1.7,1.7 0 1,0 3.4,0a1.7,1.7 0 1,0 -3.4,0M210.9,279.2a1.7,1.7 0 1,0 3.4,0a1.7,1.7 0 1,0 -3.4,0M212.9,282.9a1.7,1.7 0 1,0 3.4,0a1.7,1.7 0 1,0 -3.4,0" fill="#28c8d8" opacity="1"/>
<path d="M47.2,278.0a1.7,1.7 0 1,0 3.4,0a1.7,1.7 0 1,0 -3.4,0M49.3,280.3a1.7,1.7 0 1,0 3.4,0a1.7,1.7 0 1,0 -3.4,0M51.3,289.0a1.7,1.7 0 1,0 3.4,0a1.7,1.7 0 1,0 -3.4,0M53.3,291.7a1.7,1.7 0 1,0 3.4,0a1.7,1.7 0 1,0 -3.4,0M55.3,295.3a1.7,1.7 0 1,0 3.4,0a1.7,1.7 0 1,0 -3.4,0M57.3,291.7a1.7,1.7 0 1,0 3.4,0a1.7,1.7 0 1,0 -3.4,0M59.4,294.3a1.7,1.7 0 1,0 3.4,0a1.7,1.7 0 1,0 -3.4,0M61.4,294.3a1.7,1.7 0 1,0 3.4,0a1.7,1.7 0 1,0 -3.4,0M63.4,294.6a1.7,1.7 0 1,0 3.4,0a1.7,1.7 0 1,0 -3.4,0M65.4,294.6a1.7,1.7 0 1,0 3.4,0a1.7,1.7 0 1,0 -3.4,0M67.4,296.5a1.7,1.7 0 1,0 3.4,0a1.7,1.7 0 1,0 -3.4,0M69.5,296.5a1.7,1.7 0 1,0 3.4,0a1.7,1.7 0 1,0 -3.4,0M71.5,297.4a1.7,1.7 0 1,0 3.4,0a1.7,1.7 0 1,0 -3.4,0M73.5,296.5a1.7,1.7 0 1,0 3.4,0a1.7,1.7 0 1,0 -3.4,0M75.5,298.3a1.7,1.7 0 1,0 3.4,0a1.7,1.7 0 1,0 -3.4,0M77.6,296.6a1.7,1.7 0 1,0 3.4,0a1.7,1.7 0 1,0 -3.4,0M79.6,299.4a1.7,1.7 0 1,0 3.4,0a1.7,1.7 0 1,0 -3.4,0M81.6,297.3a1.7,1.7 0 1,0 3.4,0a1.7,1.7 0 1,0 -3.4,0M83.6,293.9a1.7,1.7 0 1,0 3.4,0a1.7,1.7 0 1,0 -3.4,0M85.6,296.5a1.7,1.7 0 1,0 3.4,0a1.7,1.7 0 1,0 -3.4,0M87.7,298.4a1.7,1.7 0 1,0 3.4,0a1.7,1.7 0 1,0 -3.4,0M89.7,296.3a1.7,1.7 0 1,0 3.4,0a1.7,1.7 0 1,0 -3.4,0M91.7,298.2a1.7,1.7 0 1,0 3.4,0a1.7,1.7 0 1,0 -3.4,0M93.7,299.4a1.7,1.7 0 1,0 3.4,0a1.7,1.7 0 1,0 -3.4,0M95.7,298.4a1.7,1.7 0 1,0 3.4,0a1.7,1.7 0 1,0 -3.4,0M97.8,296.6a1.7,1.7 0 1,0 3.4,0a1.7,1.7 0 1,0 -3.4,0M99.8,297.4a1.7,1.7 0 1,0 3.4,0a1.7,1.7 0 1,0 -3.4,0M101.8,298.3a1.7,1.7 0 1,0 3.4,0a1.7,1.7 0 1,0 -3.4,0M103.8,299.7a1.7,1.7 0 1,0 3.4,0a1.7,1.7 0 1,0 -3.4,0M105.8,299.9a1.7,1.7 0 1,0 3.4,0a1.7,1.7 0 1,0 -3.4,0M107.9,296.4a1.7,1.7 0 1,0 3.4,0a1.7,1.7 0 1,0 -3.4,0M109.9,297.9a1.7,1.7 0 1,0 3.4,0a1.7,1.7 0 1,0 -3.4,0M111.9,299.5a1.7,1.7 0 1,0 3.4,0a1.7,1.7 0 1,0 -3.4,0M113.9,301.1a1.7,1.7 0 1,0 3.4,0a1.7,1.7 0 1,0 -3.4,0M115.9,299.9a1.7,1.7 0 1,0 3.4,0a1.7,1.7 0 1,0 -3.4,0M118.0,294.3a1.7,1.7 0 1,0 3.4,0a1.7,1.7 0 1,0 -3.4,0M120.0,299.4a1.7,1.7 0 1,0 3.4,0a1.7,1.7 0 1,0 -3.4,0M122.0,297.8a1.7,1.7 0 1,0 3.4,0a1.7,1.7 0 1,0 -3.4,0M124.0,297.5a1.7,1.7 0 1,0 3.4,0a1.7,1.7 0 1,0 -3.4,0M126.1,298.1a1.7,1.7 0 1,0 3.4,0a1.7,1.7 0 1,0 -3.4,0M128.1,298.5a1.7,1.7 0 1,0 3.4,0a1.7,1.7 0 1,0 -3.4,0M130.1,300.3a1.7,1.7 0 1,0 3.4,0a1.7,1.7 0 1,0 -3.4,0M132.1,300.1a1.7,1.7 0 1,0 3.4,0a1.7,1.7 0 1,0 -3.4,0M134.1,296.3a1.7,1.7 0 1,0 3.4,0a1.7,1.7 0 1,0 -3.4,0M136.2,300.0a1.7,1.7 0 1,0 3.4,0a1.7,1.7 0 1,0 -3.4,0M138.2,297.8a1.7,1.7 0 1,0 3.4,0a1.7,1.7 0 1,0 -3.4,0M140.2,301.4a1.7,1.7 0 1,0 3.4,0a1.7,1.7 0 1,0 -3.4,0M142.2,299.3a1.7,1.7 0 1,0 3.4,0a1.7,1.7 0 1,0 -3.4,0M144.2,298.4a1.7,1.7 0 1,0 3.4,0a1.7,1.7 0 1,0 -3.4,0M146.3,297.2a1.7,1.7 0 1,0 3.4,0a1.7,1.7 0 1,0 -3.4,0M148.3,300.1a1.7,1.7 0 1,0 3.4,0a1.7,1.7 0 1,0 -3.4,0M150.3,297.5a1.7,1.7 0 1,0 3.4,0a1.7,1.7 0 1,0 -3.4,0M152.3,297.7a1.7,1.7 0 1,0 3.4,0a1.7,1.7 0 1,0 -3.4,0M154.3,299.2a1.7,1.7 0 1,0 3.4,0a1.7,1.7 0 1,0 -3.4,0M156.4,297.5a1.7,1.7 0 1,0 3.4,0a1.7,1.7 0 1,0 -3.4,0M158.4,299.5a1.7,1.7 0 1,0 3.4,0a1.7,1.7 0 1,0 -3.4,0M160.4,299.5a1.7,1.7 0 1,0 3.4,0a1.7,1.7 0 1,0 -3.4,0M162.4,298.5a1.7,1.7 0 1,0 3.4,0a1.7,1.7 0 1,0 -3.4,0M164.4,302.6a1.7,1.7 0 1,0 3.4,0a1.7,1.7 0 1,0 -3.4,0M166.5,299.1a1.7,1.7 0 1,0 3.4,0a1.7,1.7 0 1,0 -3.4,0M168.5,300.5a1.7,1.7 0 1,0 3.4,0a1.7,1.7 0 1,0 -3.4,0M170.5,301.3a1.7,1.7 0 1,0 3.4,0a1.7,1.7 0 1,0 -3.4,0M172.5,299.8a1.7,1.7 0 1,0 3.4,0a1.7,1.7 0 1,0 -3.4,0M174.6,298.1a1.7,1.7 0 1,0 3.4,0a1.7,1.7 0 1,0 -3.4,0M176.6,299.7a1.7,1.7 0 1,0 3.4,0a1.7,1.7 0 1,0 -3.4,0M178.6,297.2a1.7,1.7 0 1,0 3.4,0a1.7,1.7 0 1,0 -3.4,0M180.6,300.5a1.7,1.7 0 1,0 3.4,0a1.7,1.7 0 1,0 -3.4,0M182.6,300.5a1.7,1.7 0 1,0 3.4,0a1.7,1.7 0 1,0 -3.4,0M184.7,296.3a1.7,1.7 0 1,0 3.4,0a1.7,1.7 0 1,0 -3.4,0M186.7,297.8a1.7,1.7 0 1,0 3.4,0a1.7,1.7 0 1,0 -3.4,0M188.7,297.0a1.7,1.7 0 1,0 3.4,0a1.7,1.7 0 1,0 -3.4,0M190.7,299.5a1.7,1.7 0 1,0 3.4,0a1.7,1.7 0 1,0 -3.4,0M192.7,297.2a1.7,1.7 0 1,0 3.4,0a1.7,1.7 0 1,0 -3.4,0M194.8,298.2a1.7,1.7 0 1,0 3.4,0a1.7,1.7 0 1,0 -3.4,0M196.8,297.8a1.7,1.7 0 1,0 3.4,0a1.7,1.7 0 1,0 -3.4,0M198.8,298.8a1.7,1.7 0 1,0 3.4,0a1.7,1.7 0 1,0 -3.4,0M200.8,297.3a1.7,1.7 0 1,0 3.4,0a1.7,1.7 0 1,0 -3.4,0M202.8,300.1a1.7,1.7 0 1,0 3.4,0a1.7,1.7 0 1,0 -3.4,0M204.9,300.7a1.7,1.7 0 1,0 3.4,0a1.7,1.7 0 1,0 -3.4,0M206.9,301.4a1.7,1.7 0 1,0 3.4,0a1.7,1.7 0 1,0 -3.4,0M208.9,297.6a1.7,1.7 0 1,0 3.4,0a1.7,1.7 0 1,0 -3.4,0M210.9,300.2a1.7,1.7 0 1,0 3.4,0a1.7,1.7 0 1,0 -3.4,0M212.9,300.5a1.7,1.7 0 1,0 3.4,0a1.7,1.7 0 1,0 -3.4,0" fill="#80eeb8" opacity="1"/>
<path d="M47.2,297.6a1.7,1.7 0 1,0 3.4,0a1.7,1.7 0 1,0 -3.4,0M49.3,306.5a1.7,1.7 0 1,0 3.4,0a1.7,1.7 0 1,0 -3.4,0M51.3,324.5a1.7,1.7 0 1,0 3.4,0a1.7,1.7 0 1,0 -3.4,0M53.3,325.3a1.7,1.7 0 1,0 3.4,0a1.7,1.7 0 1,0 -3.4,0M55.3,327.5a1.7,1.7 0 1,0 3.4,0a1.7,1.7 0 1,0 -3.4,0M57.3,325.4a1.7,1.7 0 1,0 3.4,0a1.7,1.7 0 1,0 -3.4,0M59.4,322.3a1.7,1.7 0 1,0 3.4,0a1.7,1.7 0 1,0 -3.4,0M61.4,316.4a1.7,1.7 0 1,0 3.4,0a1.7,1.7 0 1,0 -3.4,0M63.4,314.2a1.7,1.7 0 1,0 3.4,0a1.7,1.7 0 1,0 -3.4,0M65.4,312.6a1.7,1.7 0 1,0 3.4,0a1.7,1.7 0 1,0 -3.4,0M67.4,314.3a1.7,1.7 0 1,0 3.4,0a1.7,1.7 0 1,0 -3.4,0M69.5,316.6a1.7,1.7 0 1,0 3.4,0a1.7,1.7 0 1,0 -3.4,0M71.5,321.6a1.7,1.7 0 1,0 3.4,0a1.7,1.7 0 1,0 -3.4,0M73.5,318.3a1.7,1.7 0 1,0 3.4,0a1.7,1.7 0 1,0 -3.4,0M75.5,318.1a1.7,1.7 0 1,0 3.4,0a1.7,1.7 0 1,0 -3.4,0M77.6,314.5a1.7,1.7 0 1,0 3.4,0a1.7,1.7 0 1,0 -3.4,0M79.6,318.0a1.7,1.7 0 1,0 3.4,0a1.7,1.7 0 1,0 -3.4,0M81.6,316.3a1.7,1.7 0 1,0 3.4,0a1.7,1.7 0 1,0 -3.4,0M83.6,315.9a1.7,1.7 0 1,0 3.4,0a1.7,1.7 0 1,0 -3.4,0M85.6,316.8a1.7,1.7 0 1,0 3.4,0a1.7,1.7 0 1,0 -3.4,0M87.7,315.4a1.7,1.7 0 1,0 3.4,0a1.7,1.7 0 1,0 -3.4,0M89.7,318.7a1.7,1.7 0 1,0 3.4,0a1.7,1.7 0 1,0 -3.4,0M91.7,316.6a1.7,1.7 0 1,0 3.4,0a1.7,1.7 0 1,0 -3.4,0M93.7,320.6a1.7,1.7 0 1,0 3.4,0a1.7,1.7 0 1,0 -3.4,0M95.7,320.5a1.7,1.7 0 1,0 3.4,0a1.7,1.7 0 1,0 -3.4,0M97.8,314.4a1.7,1.7 0 1,0 3.4,0a1.7,1.7 0 1,0 -3.4,0M99.8,314.9a1.7,1.7 0 1,0 3.4,0a1.7,1.7 0 1,0 -3.4,0M101.8,314.4a1.7,1.7 0 1,0 3.4,0a1.7,1.7 0 1,0 -3.4,0M103.8,315.1a1.7,1.7 0 1,0 3.4,0a1.7,1.7 0 1,0 -3.4,0M105.8,315.1a1.7,1.7 0 1,0 3.4,0a1.7,1.7 0 1,0 -3.4,0M107.9,318.9a1.7,1.7 0 1,0 3.4,0a1.7,1.7 0 1,0 -3.4,0M109.9,315.9a1.7,1.7 0 1,0 3.4,0a1.7,1.7 0 1,0 -3.4,0M111.9,319.0a1.7,1.7 0 1,0 3.4,0a1.7,1.7 0 1,0 -3.4,0M113.9,316.3a1.7,1.7 0 1,0 3.4,0a1.7,1.7 0 1,0 -3.4,0M115.9,317.4a1.7,1.7 0 1,0 3.4,0a1.7,1.7 0 1,0 -3.4,0M118.0,320.2a1.7,1.7 0 1,0 3.4,0a1.7,1.7 0 1,0 -3.4,0M120.0,318.2a1.7,1.7 0 1,0 3.4,0a1.7,1.7 0 1,0 -3.4,0M122.0,313.5a1.7,1.7 0 1,0 3.4,0a1.7,1.7 0 1,0 -3.4,0M124.0,315.6a1.7,1.7 0 1,0 3.4,0a1.7,1.7 0 1,0 -3.4,0M126.1,316.4a1.7,1.7 0 1,0 3.4,0a1.7,1.7 0 1,0 -3.4,0M128.1,316.0a1.7,1.7 0 1,0 3.4,0a1.7,1.7 0 1,0 -3.4,0M130.1,317.9a1.7,1.7 0 1,0 3.4,0a1.7,1.7 0 1,0 -3.4,0M132.1,318.7a1.7,1.7 0 1,0 3.4,0a1.7,1.7 0 1,0 -3.4,0M134.1,317.8a1.7,1.7 0 1,0 3.4,0a1.7,1.7 0 1,0 -3.4,0M136.2,317.5a1.7,1.7 0 1,0 3.4,0a1.7,1.7 0 1,0 -3.4,0M138.2,314.5a1.7,1.7 0 1,0 3.4,0a1.7,1.7 0 1,0 -3.4,0M140.2,316.3a1.7,1.7 0 1,0 3.4,0a1.7,1.7 0 1,0 -3.4,0M142.2,312.5a1.7,1.7 0 1,0 3.4,0a1.7,1.7 0 1,0 -3.4,0M144.2,312.4a1.7,1.7 0 1,0 3.4,0a1.7,1.7 0 1,0 -3.4,0M146.3,312.7a1.7,1.7 0 1,0 3.4,0a1.7,1.7 0 1,0 -3.4,0M148.3,314.3a1.7,1.7 0 1,0 3.4,0a1.7,1.7 0 1,0 -3.4,0M150.3,316.6a1.7,1.7 0 1,0 3.4,0a1.7,1.7 0 1,0 -3.4,0M152.3,317.3a1.7,1.7 0 1,0 3.4,0a1.7,1.7 0 1,0 -3.4,0M154.3,318.1a1.7,1.7 0 1,0 3.4,0a1.7,1.7 0 1,0 -3.4,0M156.4,319.0a1.7,1.7 0 1,0 3.4,0a1.7,1.7 0 1,0 -3.4,0M158.4,317.4a1.7,1.7 0 1,0 3.4,0a1.7,1.7 0 1,0 -3.4,0M160.4,317.8a1.7,1.7 0 1,0 3.4,0a1.7,1.7 0 1,0 -3.4,0M162.4,313.2a1.7,1.7 0 1,0 3.4,0a1.7,1.7 0 1,0 -3.4,0M164.4,314.7a1.7,1.7 0 1,0 3.4,0a1.7,1.7 0 1,0 -3.4,0M166.5,316.4a1.7,1.7 0 1,0 3.4,0a1.7,1.7 0 1,0 -3.4,0M168.5,319.3a1.7,1.7 0 1,0 3.4,0a1.7,1.7 0 1,0 -3.4,0M170.5,316.7a1.7,1.7 0 1,0 3.4,0a1.7,1.7 0 1,0 -3.4,0M172.5,317.9a1.7,1.7 0 1,0 3.4,0a1.7,1.7 0 1,0 -3.4,0M174.6,319.5a1.7,1.7 0 1,0 3.4,0a1.7,1.7 0 1,0 -3.4,0M176.6,319.7a1.7,1.7 0 1,0 3.4,0a1.7,1.7 0 1,0 -3.4,0M178.6,321.3a1.7,1.7 0 1,0 3.4,0a1.7,1.7 0 1,0 -3.4,0M180.6,316.0a1.7,1.7 0 1,0 3.4,0a1.7,1.7 0 1,0 -3.4,0M182.6,316.5a1.7,1.7 0 1,0 3.4,0a1.7,1.7 0 1,0 -3.4,0M184.7,311.4a1.7,1.7 0 1,0 3.4,0a1.7,1.7 0 1,0 -3.4,0M186.7,315.8a1.7,1.7 0 1,0 3.4,0a1.7,1.7 0 1,0 -3.4,0M188.7,316.2a1.7,1.7 0 1,0 3.4,0a1.7,1.7 0 1,0 -3.4,0M190.7,313.9a1.7,1.7 0 1,0 3.4,0a1.7,1.7 0 1,0 -3.4,0M192.7,316.7a1.7,1.7 0 1,0 3.4,0a1.7,1.7 0 1,0 -3.4,0M194.8,317.1a1.7,1.7 0 1,0 3.4,0a1.7,1.7 0 1,0 -3.4,0M196.8,318.3a1.7,1.7 0 1,0 3.4,0a1.7,1.7 0 1,0 -3.4,0M198.8,318.6a1.7,1.7 0 1,0 3.4,0a1.7,1.7 0 1,0 -3.4,0M200.8,314.5a1.7,1.7 0 1,0 3.4,0a1.7,1.7 0 1,0 -3.4,0M202.8,314.9a1.7,1.7 0 1,0 3.4,0a1.7,1.7 0 1,0 -3.4,0M204.9,313.1a1.7,1.7 0 1,0 3.4,0a1.7,1.7 0 1,0 -3.4,0M206.9,316.4a1.7,1.7 0 1,0 3.4,0a1.7,1.7 0 1,0 -3.4,0M208.9,315.8a1.7,1.7 0 1,0 3.4,0a1.7,1.7 0 1,0 -3.4,0M210.9,317.7a1.7,1.7 0 1,0 3.4,0a1.7,1.7 0 1,0 -3.4,0M212.9,315.0a1.7,1.7 0 1,0 3.4,0a1.7,1.7 0 1,0 -3.4,0" fill="#c8d478" opacity="1"/>
<path d="M47.2,318.1a1.7,1.7 0 1,0 3.4,0a1.7,1.7 0 1,0 -3.4,0M49.3,323.3a1.7,1.7 0 1,0 3.4,0a1.7,1.7 0 1,0 -3.4,0M51.3,329.5a1.7,1.7 0 1,0 3.4,0a1.7,1.7 0 1,0 -3.4,0M53.3,338.4a1.7,1.7 0 1,0 3.4,0a1.7,1.7 0 1,0 -3.4,0M55.3,346.5a1.7,1.7 0 1,0 3.4,0a1.7,1.7 0 1,0 -3.4,0M57.3,341.3a1.7,1.7 0 1,0 3.4,0a1.7,1.7 0 1,0 -3.4,0M59.4,340.4a1.7,1.7 0 1,0 3.4,0a1.7,1.7 0 1,0 -3.4,0M61.4,336.2a1.7,1.7 0 1,0 3.4,0a1.7,1.7 0 1,0 -3.4,0M63.4,334.7a1.7,1.7 0 1,0 3.4,0a1.7,1.7 0 1,0 -3.4,0M65.4,330.4a1.7,1.7 0 1,0 3.4,0a1.7,1.7 0 1,0 -3.4,0M67.4,330.3a1.7,1.7 0 1,0 3.4,0a1.7,1.7 0 1,0 -3.4,0M69.5,335.2a1.7,1.7 0 1,0 3.4,0a1.7,1.7 0 1,0 -3.4,0M71.5,336.5a1.7,1.7 0 1,0 3.4,0a1.7,1.7 0 1,0 -3.4,0M73.5,336.5a1.7,1.7 0 1,0 3.4,0a1.7,1.7 0 1,0 -3.4,0M75.5,331.6a1.7,1.7 0 1,0 3.4,0a1.7,1.7 0 1,0 -3.4,0M77.6,333.5a1.7,1.7 0 1,0 3.4,0a1.7,1.7 0 1,0 -3.4,0M79.6,335.1a1.7,1.7 0 1,0 3.4,0a1.7,1.7 0 1,0 -3.4,0M81.6,336.1a1.7,1.7 0 1,0 3.4,0a1.7,1.7 0 1,0 -3.4,0M83.6,333.4a1.7,1.7 0 1,0 3.4,0a1.7,1.7 0 1,0 -3.4,0M85.6,330.0a1.7,1.7 0 1,0 3.4,0a1.7,1.7 0 1,0 -3.4,0M87.7,329.3a1.7,1.7 0 1,0 3.4,0a1.7,1.7 0 1,0 -3.4,0M89.7,334.1a1.7,1.7 0 1,0 3.4,0a1.7,1.7 0 1,0 -3.4,0M91.7,336.0a1.7,1.7 0 1,0 3.4,0a1.7,1.7 0 1,0 -3.4,0M93.7,336.6a1.7,1.7 0 1,0 3.4,0a1.7,1.7 0 1,0 -3.4,0M95.7,339.3a1.7,1.7 0 1,0 3.4,0a1.7,1.7 0 1,0 -3.4,0M97.8,334.2a1.7,1.7 0 1,0 3.4,0a1.7,1.7 0 1,0 -3.4,0M99.8,336.8a1.7,1.7 0 1,0 3.4,0a1.7,1.7 0 1,0 -3.4,0M101.8,332.0a1.7,1.7 0 1,0 3.4,0a1.7,1.7 0 1,0 -3.4,0M103.8,336.0a1.7,1.7 0 1,0 3.4,0a1.7,1.7 0 1,0 -3.4,0M105.8,334.8a1.7,1.7 0 1,0 3.4,0a1.7,1.7 0 1,0 -3.4,0M107.9,332.3a1.7,1.7 0 1,0 3.4,0a1.7,1.7 0 1,0 -3.4,0M109.9,334.9a1.7,1.7 0 1,0 3.4,0a1.7,1.7 0 1,0 -3.4,0M111.9,333.3a1.7,1.7 0 1,0 3.4,0a1.7,1.7 0 1,0 -3.4,0M113.9,335.6a1.7,1.7 0 1,0 3.4,0a1.7,1.7 0 1,0 -3.4,0M115.9,338.1a1.7,1.7 0 1,0 3.4,0a1.7,1.7 0 1,0 -3.4,0M118.0,335.0a1.7,1.7 0 1,0 3.4,0a1.7,1.7 0 1,0 -3.4,0M120.0,334.0a1.7,1.7 0 1,0 3.4,0a1.7,1.7 0 1,0 -3.4,0M122.0,337.9a1.7,1.7 0 1,0 3.4,0a1.7,1.7 0 1,0 -3.4,0M124.0,330.7a1.7,1.7 0 1,0 3.4,0a1.7,1.7 0 1,0 -3.4,0M126.1,332.4a1.7,1.7 0 1,0 3.4,0a1.7,1.7 0 1,0 -3.4,0M128.1,331.9a1.7,1.7 0 1,0 3.4,0a1.7,1.7 0 1,0 -3.4,0M130.1,336.9a1.7,1.7 0 1,0 3.4,0a1.7,1.7 0 1,0 -3.4,0M132.1,335.8a1.7,1.7 0 1,0 3.4,0a1.7,1.7 0 1,0 -3.4,0M134.1,336.1a1.7,1.7 0 1,0 3.4,0a1.7,1.7 0 1,0 -3.4,0M136.2,334.3a1.7,1.7 0 1,0 3.4,0a1.7,1.7 0 1,0 -3.4,0M138.2,338.8a1.7,1.7 0 1,0 3.4,0a1.7,1.7 0 1,0 -3.4,0M140.2,337.5a1.7,1.7 0 1,0 3.4,0a1.7,1.7 0 1,0 -3.4,0M142.2,338.8a1.7,1.7 0 1,0 3.4,0a1.7,1.7 0 1,0 -3.4,0M144.2,335.0a1.7,1.7 0 1,0 3.4,0a1.7,1.7 0 1,0 -3.4,0M146.3,333.3a1.7,1.7 0 1,0 3.4,0a1.7,1.7 0 1,0 -3.4,0M148.3,336.6a1.7,1.7 0 1,0 3.4,0a1.7,1.7 0 1,0 -3.4,0M150.3,335.0a1.7,1.7 0 1,0 3.4,0a1.7,1.7 0 1,0 -3.4,0M152.3,333.7a1.7,1.7 0 1,0 3.4,0a1.7,1.7 0 1,0 -3.4,0M154.3,332.7a1.7,1.7 0 1,0 3.4,0a1.7,1.7 0 1,0 -3.4,0M156.4,335.0a1.7,1.7 0 1,0 3.4,0a1.7,1.7 0 1,0 -3.4,0M158.4,337.0a1.7,1.7 0 1,0 3.4,0a1.7,1.7 0 1,0 -3.4,0M160.4,338.4a1.7,1.7 0 1,0 3.4,0a1.7,1.7 0 1,0 -3.4,0M162.4,337.5a1.7,1.7 0 1,0 3.4,0a1.7,1.7 0 1,0 -3.4,0M164.4,336.4a1.7,1.7 0 1,0 3.4,0a1.7,1.7 0 1,0 -3.4,0M166.5,334.4a1.7,1.7 0 1,0 3.4,0a1.7,1.7 0 1,0 -3.4,0M168.5,334.4a1.7,1.7 0 1,0 3.4,0a1.7,1.7 0 1,0 -3.4,0M170.5,331.4a1.7,1.7 0 1,0 3.4,0a1.7,1.7 0 1,0 -3.4,0M172.5,334.2a1.7,1.7 0 1,0 3.4,0a1.7,1.7 0 1,0 -3.4,0M174.6,337.3a1.7,1.7 0 1,0 3.4,0a1.7,1.7 0 1,0 -3.4,0M176.6,333.4a1.7,1.7 0 1,0 3.4,0a1.7,1.7 0 1,0 -3.4,0M178.6,334.9a1.7,1.7 0 1,0 3.4,0a1.7,1.7 0 1,0 -3.4,0M180.6,336.4a1.7,1.7 0 1,0 3.4,0a1.7,1.7 0 1,0 -3.4,0M182.6,337.6a1.7,1.7 0 1,0 3.4,0a1.7,1.7 0 1,0 -3.4,0M184.7,339.0a1.7,1.7 0 1,0 3.4,0a1.7,1.7 0 1,0 -3.4,0M186.7,337.0a1.7,1.7 0 1,0 3.4,0a1.7,1.7 0 1,0 -3.4,0M188.7,333.3a1.7,1.7 0 1,0 3.4,0a1.7,1.7 0 1,0 -3.4,0M190.7,336.1a1.7,1.7 0 1,0 3.4,0a1.7,1.7 0 1,0 -3.4,0M192.7,337.3a1.7,1.7 0 1,0 3.4,0a1.7,1.7 0 1,0 -3.4,0M194.8,335.2a1.7,1.7 0 1,0 3.4,0a1.7,1.7 0 1,0 -3.4,0M196.8,335.7a1.7,1.7 0 1,0 3.4,0a1.7,1.7 0 1,0 -3.4,0M198.8,335.6a1.7,1.7 0 1,0 3.4,0a1.7,1.7 0 1,0 -3.4,0M200.8,335.7a1.7,1.7 0 1,0 3.4,0a1.7,1.7 0 1,0 -3.4,0M202.8,334.3a1.7,1.7 0 1,0 3.4,0a1.7,1.7 0 1,0 -3.4,0M204.9,337.8a1.7,1.7 0 1,0 3.4,0a1.7,1.7 0 1,0 -3.4,0M206.9,334.2a1.7,1.7 0 1,0 3.4,0a1.7,1.7 0 1,0 -3.4,0M208.9,337.1a1.7,1.7 0 1,0 3.4,0a1.7,1.7 0 1,0 -3.4,0M210.9,334.0a1.7,1.7 0 1,0 3.4,0a1.7,1.7 0 1,0 -3.4,0M212.9,335.0a1.7,1.7 0 1,0 3.4,0a1.7,1.7 0 1,0 -3.4,0" fill="#f08448" opacity="1"/>
<path d="M47.2,337.8a1.7,1.7 0 1,0 3.4,0a1.7,1.7 0 1,0 -3.4,0M49.3,344.2a1.7,1.7 0 1,0 3.4,0a1.7,1.7 0 1,0 -3.4,0M51.3,358.2a1.7,1.7 0 1,0 3.4,0a1.7,1.7 0 1,0 -3.4,0M53.3,367.1a1.7,1.7 0 1,0 3.4,0a1.7,1.7 0 1,0 -3.4,0M55.3,371.5a1.7,1.7 0 1,0 3.4,0a1.7,1.7 0 1,0 -3.4,0M57.3,371.8a1.7,1.7 0 1,0 3.4,0a1.7,1.7 0 1,0 -3.4,0M59.4,370.5a1.7,1.7 0 1,0 3.4,0a1.7,1.7 0 1,0 -3.4,0M61.4,367.4a1.7,1.7 0 1,0 3.4,0a1.7,1.7 0 1,0 -3.4,0M63.4,363.6a1.7,1.7 0 1,0 3.4,0a1.7,1.7 0 1,0 -3.4,0M65.4,360.5a1.7,1.7 0 1,0 3.4,0a1.7,1.7 0 1,0 -3.4,0M67.4,359.3a1.7,1.7 0 1,0 3.4,0a1.7,1.7 0 1,0 -3.4,0M69.5,358.6a1.7,1.7 0 1,0 3.4,0a1.7,1.7 0 1,0 -3.4,0M71.5,364.8a1.7,1.7 0 1,0 3.4,0a1.7,1.7 0 1,0 -3.4,0M73.5,360.8a1.7,1.7 0 1,0 3.4,0a1.7,1.7 0 1,0 -3.4,0M75.5,359.3a1.7,1.7 0 1,0 3.4,0a1.7,1.7 0 1,0 -3.4,0M77.6,358.4a1.7,1.7 0 1,0 3.4,0a1.7,1.7 0 1,0 -3.4,0M79.6,360.0a1.7,1.7 0 1,0 3.4,0a1.7,1.7 0 1,0 -3.4,0M81.6,362.4a1.7,1.7 0 1,0 3.4,0a1.7,1.7 0 1,0 -3.4,0M83.6,366.6a1.7,1.7 0 1,0 3.4,0a1.7,1.7 0 1,0 -3.4,0M85.6,361.8a1.7,1.7 0 1,0 3.4,0a1.7,1.7 0 1,0 -3.4,0M87.7,363.8a1.7,1.7 0 1,0 3.4,0a1.7,1.7 0 1,0 -3.4,0M89.7,359.0a1.7,1.7 0 1,0 3.4,0a1.7,1.7 0 1,0 -3.4,0M91.7,364.0a1.7,1.7 0 1,0 3.4,0a1.7,1.7 0 1,0 -3.4,0M93.7,360.9a1.7,1.7 0 1,0 3.4,0a1.7,1.7 0 1,0 -3.4,0M95.7,362.6a1.7,1.7 0 1,0 3.4,0a1.7,1.7 0 1,0 -3.4,0M97.8,364.6a1.7,1.7 0 1,0 3.4,0a1.7,1.7 0 1,0 -3.4,0M99.8,364.1a1.7,1.7 0 1,0 3.4,0a1.7,1.7 0 1,0 -3.4,0M101.8,363.2a1.7,1.7 0 1,0 3.4,0a1.7,1.7 0 1,0 -3.4,0M103.8,361.3a1.7,1.7 0 1,0 3.4,0a1.7,1.7 0 1,0 -3.4,0M105.8,363.6a1.7,1.7 0 1,0 3.4,0a1.7,1.7 0 1,0 -3.4,0M107.9,361.9a1.7,1.7 0 1,0 3.4,0a1.7,1.7 0 1,0 -3.4,0M109.9,366.5a1.7,1.7 0 1,0 3.4,0a1.7,1.7 0 1,0 -3.4,0M111.9,363.2a1.7,1.7 0 1,0 3.4,0a1.7,1.7 0 1,0 -3.4,0M113.9,364.5a1.7,1.7 0 1,0 3.4,0a1.7,1.7 0 1,0 -3.4,0M115.9,364.5a1.7,1.7 0 1,0 3.4,0a1.7,1.7 0 1,0 -3.4,0M118.0,363.7a1.7,1.7 0 1,0 3.4,0a1.7,1.7 0 1,0 -3.4,0M120.0,361.7a1.7,1.7 0 1,0 3.4,0a1.7,1.7 0 1,0 -3.4,0M122.0,357.4a1.7,1.7 0 1,0 3.4,0a1.7,1.7 0 1,0 -3.4,0M124.0,359.0a1.7,1.7 0 1,0 3.4,0a1.7,1.7 0 1,0 -3.4,0M126.1,363.8a1.7,1.7 0 1,0 3.4,0a1.7,1.7 0 1,0 -3.4,0M128.1,362.6a1.7,1.7 0 1,0 3.4,0a1.7,1.7 0 1,0 -3.4,0M130.1,367.1a1.7,1.7 0 1,0 3.4,0a1.7,1.7 0 1,0 -3.4,0M132.1,366.1a1.7,1.7 0 1,0 3.4,0a1.7,1.7 0 1,0 -3.4,0M134.1,362.1a1.7,1.7 0 1,0 3.4,0a1.7,1.7 0 1,0 -3.4,0M136.2,362.2a1.7,1.7 0 1,0 3.4,0a1.7,1.7 0 1,0 -3.4,0M138.2,362.5a1.7,1.7 0 1,0 3.4,0a1.7,1.7 0 1,0 -3.4,0M140.2,362.9a1.7,1.7 0 1,0 3.4,0a1.7,1.7 0 1,0 -3.4,0M142.2,359.2a1.7,1.7 0 1,0 3.4,0a1.7,1.7 0 1,0 -3.4,0M144.2,365.6a1.7,1.7 0 1,0 3.4,0a1.7,1.7 0 1,0 -3.4,0M146.3,363.2a1.7,1.7 0 1,0 3.4,0a1.7,1.7 0 1,0 -3.4,0M148.3,361.3a1.7,1.7 0 1,0 3.4,0a1.7,1.7 0 1,0 -3.4,0M150.3,361.0a1.7,1.7 0 1,0 3.4,0a1.7,1.7 0 1,0 -3.4,0M152.3,359.7a1.7,1.7 0 1,0 3.4,0a1.7,1.7 0 1,0 -3.4,0M154.3,359.6a1.7,1.7 0 1,0 3.4,0a1.7,1.7 0 1,0 -3.4,0M156.4,366.2a1.7,1.7 0 1,0 3.4,0a1.7,1.7 0 1,0 -3.4,0M158.4,364.1a1.7,1.7 0 1,0 3.4,0a1.7,1.7 0 1,0 -3.4,0M160.4,364.0a1.7,1.7 0 1,0 3.4,0a1.7,1.7 0 1,0 -3.4,0M162.4,361.6a1.7,1.7 0 1,0 3.4,0a1.7,1.7 0 1,0 -3.4,0M164.4,363.8a1.7,1.7 0 1,0 3.4,0a1.7,1.7 0 1,0 -3.4,0M166.5,364.3a1.7,1.7 0 1,0 3.4,0a1.7,1.7 0 1,0 -3.4,0M168.5,366.3a1.7,1.7 0 1,0 3.4,0a1.7,1.7 0 1,0 -3.4,0M170.5,362.7a1.7,1.7 0 1,0 3.4,0a1.7,1.7 0 1,0 -3.4,0M172.5,363.9a1.7,1.7 0 1,0 3.4,0a1.7,1.7 0 1,0 -3.4,0M174.6,363.7a1.7,1.7 0 1,0 3.4,0a1.7,1.7 0 1,0 -3.4,0M176.6,366.7a1.7,1.7 0 1,0 3.4,0a1.7,1.7 0 1,0 -3.4,0M178.6,362.2a1.7,1.7 0 1,0 3.4,0a1.7,1.7 0 1,0 -3.4,0M180.6,362.6a1.7,1.7 0 1,0 3.4,0a1.7,1.7 0 1,0 -3.4,0M182.6,364.4a1.7,1.7 0 1,0 3.4,0a1.7,1.7 0 1,0 -3.4,0M184.7,364.8a1.7,1.7 0 1,0 3.4,0a1.7,1.7 0 1,0 -3.4,0M186.7,362.8a1.7,1.7 0 1,0 3.4,0a1.7,1.7 0 1,0 -3.4,0M188.7,363.0a1.7,1.7 0 1,0 3.4,0a1.7,1.7 0 1,0 -3.4,0M190.7,363.0a1.7,1.7 0 1,0 3.4,0a1.7,1.7 0 1,0 -3.4,0M192.7,361.0a1.7,1.7 0 1,0 3.4,0a1.7,1.7 0 1,0 -3.4,0M194.8,362.4a1.7,1.7 0 1,0 3.4,0a1.7,1.7 0 1,0 -3.4,0M196.8,361.7a1.7,1.7 0 1,0 3.4,0a1.7,1.7 0 1,0 -3.4,0M198.8,362.8a1.7,1.7 0 1,0 3.4,0a1.7,1.7 0 1,0 -3.4,0M200.8,362.8a1.7,1.7 0 1,0 3.4,0a1.7,1.7 0 1,0 -3.4,0M202.8,364.0a1.7,1.7 0 1,0 3.4,0a1.7,1.7 0 1,0 -3.4,0M204.9,363.5a1.7,1.7 0 1,0 3.4,0a1.7,1.7 0 1,0 -3.4,0M206.9,362.4a1.7,1.7 0 1,0 3.4,0a1.7,1.7 0 1,0 -3.4,0M208.9,362.7a1.7,1.7 0 1,0 3.4,0a1.7,1.7 0 1,0 -3.4,0M210.9,357.9a1.7,1.7 0 1,0 3.4,0a1.7,1.7 0 1,0 -3.4,0M212.9,361.6a1.7,1.7 0 1,0 3.4,0a1.7,1.7 0 1,0 -3.4,0" fill="#f01818" opacity="1"/>
<polyline points="48.10,337.40 48.52,337.60 48.94,338.19 49.36,339.17 49.78,340.50 50.20,342.16 50.63,344.11 51.05,346.31 51.47,348.71 51.89,351.26 52.31,353.89 52.73,356.56 53.15,359.19 53.57,361.74 53.99,364.14 54.41,366.34 54.84,368.29 55.26,369.95 55.68,371.28 56.10,372.26 56.52,372.85 56.94,373.05 57.36,373.01 57.78,372.89 58.20,372.69 58.62,372.41 59.05,372.06 59.47,371.64 59.89,371.16 60.31,370.62 60.73,370.02 61.15,369.38 61.57,368.70 61.99,368.00 62.41,367.27 62.84,366.52 63.26,365.78 63.68,365.03 64.10,364.30 64.52,363.60 64.94,362.92 65.36,362.28 65.78,361.68 66.20,361.14 66.62,360.66 67.05,360.24 67.47,359.89 67.89,359.61 68.31,359.41 68.73,359.29 69.15,359.25 69.57,359.51 69.99,360.26 70.41,361.38 70.83,362.70 71.25,364.02 71.68,365.14 72.10,365.89 72.52,366.15 72.94,366.03 73.36,365.69 73.78,365.15 74.20,364.42 74.62,363.55 75.04,362.57 75.47,361.55 75.89,360.53 76.31,359.55 76.73,358.68 77.15,357.95 77.57,357.41 77.99,357.07 78.41,356.95 78.83,357.01 79.25,357.19 79.67,357.49 80.10,357.89 80.52,358.39 80.94,358.96 81.36,359.60 81.78,360.28 82.20,360.98 82.62,361.67 83.04,362.35 83.46,362.99 83.89,363.56 84.31,364.06 84.73,364.46 85.15,364.76 85.57,364.94 85.99,365.00 86.41,364.96 86.83,364.84 87.25,364.64 87.67,364.38 88.09,364.05 88.52,363.68 88.94,363.26 89.36,362.82 89.78,362.37 90.20,361.93 90.62,361.50 91.04,361.10 91.46,360.75 91.88,360.45 92.31,360.22 92.73,360.06 93.15,359.98 93.57,359.98 93.99,360.07 94.41,360.23 94.83,360.48 95.25,360.79 95.67,361.17 96.09,361.59 96.52,362.04 96.94,362.51 97.36,362.99 97.78,363.45 98.20,363.89 98.62,364.29 99.04,364.64 99.46,364.92 99.88,365.12 100.30,365.25 100.72,365.29 101.15,365.25 101.57,365.13 101.99,364.93 102.41,364.67 102.83,364.34 103.25,363.96 103.67,363.55 104.09,363.10 104.51,362.65 104.94,362.20 105.36,361.77 105.78,361.37 106.20,361.02 106.62,360.72 107.04,360.49 107.46,360.33 107.88,360.25 108.30,360.25 108.72,360.32 109.14,360.48 109.57,360.70 109.99,360.98 110.41,361.32 110.83,361.69 111.25,362.10 111.67,362.53 112.09,362.96 112.51,363.38 112.93,363.78 113.35,364.13 113.78,364.45 114.20,364.70 114.62,364.88 115.04,365.00 115.46,365.04 115.88,365.00 116.30,364.89 116.72,364.72 117.14,364.47 117.56,364.18 117.99,363.84 118.41,363.46 118.83,363.06 119.25,362.66 119.67,362.25 120.09,361.86 120.51,361.50 120.93,361.18 121.35,360.92 121.78,360.71 122.20,360.56 122.62,360.49 123.04,360.49 123.46,360.56 123.88,360.69 124.30,360.89 124.72,361.15 125.14,361.45 125.56,361.79 125.99,362.16 126.41,362.55 126.83,362.93 127.25,363.31 127.67,363.67 128.09,363.99 128.51,364.27 128.93,364.50 129.35,364.67 129.77,364.77 130.19,364.81 130.62,364.77 131.04,364.68 131.46,364.52 131.88,364.30 132.30,364.03 132.72,363.73 133.14,363.39 133.56,363.03 133.98,362.66 134.41,362.30 134.83,361.95 135.25,361.62 135.67,361.33 136.09,361.09 136.51,360.90 136.93,360.77 137.35,360.71 137.77,360.71 138.19,360.77 138.62,360.89 139.04,361.07 139.46,361.30 139.88,361.57 140.30,361.88 140.72,362.22 141.14,362.56 141.56,362.91 141.98,363.25 142.40,363.57 142.83,363.87 143.25,364.12 143.67,364.32 144.09,364.48 144.51,364.57 144.93,364.60 145.35,364.57 145.77,364.48 146.19,364.34 146.61,364.14 147.03,363.90 147.46,363.63 147.88,363.32 148.30,363.00 148.72,362.66 149.14,362.34 149.56,362.02 149.98,361.73 150.40,361.47 150.82,361.25 151.25,361.08 151.67,360.96 152.09,360.90 152.51,360.90 152.93,360.96 153.35,361.07 153.77,361.23 154.19,361.44 154.61,361.69 155.03,361.96 155.46,362.26 155.88,362.58 156.30,362.89 156.72,363.20 157.14,363.49 157.56,363.75 157.98,363.98 158.40,364.16 158.82,364.30 159.24,364.39 159.67,364.41 160.09,364.39 160.51,364.31 160.93,364.18 161.35,364.00 161.77,363.78 162.19,363.53 162.61,363.26 163.03,362.97 163.45,362.67 163.88,362.37 164.30,362.09 164.72,361.82 165.14,361.59 165.56,361.39 165.98,361.24 166.40,361.13 166.82,361.08 167.24,361.08 167.66,361.13 168.08,361.23 168.51,361.38 168.93,361.56 169.35,361.78 169.77,362.04 170.19,362.31 170.61,362.59 171.03,362.87 171.45,363.15 171.87,363.41 172.29,363.65 172.72,363.85 173.14,364.02 173.56,364.14 173.98,364.22 174.40,364.25 174.82,364.22 175.24,364.15 175.66,364.03 176.08,363.87 176.50,363.68 176.93,363.45 177.35,363.20 177.77,362.94 178.19,362.67 178.61,362.40 179.03,362.15 179.45,361.91 179.87,361.70 180.29,361.52 180.72,361.38 181.14,361.29 181.56,361.24 181.98,361.24 182.40,361.28 182.82,361.37 183.24,361.51 183.66,361.67 184.08,361.87 184.50,362.10 184.93,362.34 185.35,362.60 185.77,362.86 186.19,363.11 186.61,363.34 187.03,363.55 187.45,363.74 187.87,363.89 188.29,364.00 188.71,364.07 189.13,364.09 189.56,364.07 189.98,364.01 190.40,363.90 190.82,363.76 191.24,363.58 191.66,363.38 192.08,363.15 192.50,362.92 192.92,362.67 193.34,362.43 193.77,362.20 194.19,361.99 194.61,361.80 195.03,361.64 195.45,361.51 195.87,361.43 196.29,361.38 196.71,361.38 197.13,361.42 197.55,361.50 197.98,361.62 198.40,361.78 198.82,361.96 199.24,362.16 199.66,362.38 200.08,362.61 200.50,362.84 200.92,363.07 201.34,363.28 201.76,363.47 202.19,363.64 202.61,363.77 203.03,363.87 203.45,363.94 203.87,363.96 204.29,363.94 204.71,363.88 205.13,363.78 205.55,363.65 205.97,363.50 206.40,363.31 206.82,363.11 207.24,362.90 207.66,362.68 208.08,362.46 208.50,362.25 208.92,362.06 209.34,361.89 209.76,361.74 210.19,361.63 210.61,361.55 211.03,361.51 211.45,361.51 211.87,361.55 212.29,361.62 212.71,361.73 213.13,361.87 213.55,362.03 213.97,362.21 214.40,362.41 214.82,362.62 215.24,362.83 215.66,363.03 216.08,363.22 216.50,363.40" fill="none" stroke="#f01818" stroke-width="0.9" stroke-linejoin="round" />
<rect x="39.6" y="222.4" width="176.70" height="166.30" fill="none" stroke="#1a1a1a" stroke-width="1.1"/>
<line x1="39.6" y1="366.15" x2="44.6" y2="366.15" stroke="#1a1a1a" stroke-width="1"/>
<line x1="39.6" y1="337.40" x2="44.6" y2="337.40" stroke="#1a1a1a" stroke-width="1"/>
<line x1="39.6" y1="308.65" x2="44.6" y2="308.65" stroke="#1a1a1a" stroke-width="1"/>
<line x1="39.6" y1="279.90" x2="44.6" y2="279.90" stroke="#1a1a1a" stroke-width="1"/>
<line x1="39.6" y1="251.15" x2="44.6" y2="251.15" stroke="#1a1a1a" stroke-width="1"/>
<line x1="39.6" y1="222.40" x2="44.6" y2="222.40" stroke="#1a1a1a" stroke-width="1"/>
<line x1="39.6" y1="380.52" x2="42.6" y2="380.52" stroke="#1a1a1a" stroke-width="1"/>
<line x1="39.6" y1="351.77" x2="42.6" y2="351.77" stroke="#1a1a1a" stroke-width="1"/>
<line x1="39.6" y1="323.02" x2="42.6" y2="323.02" stroke="#1a1a1a" stroke-width="1"/>
<line x1="39.6" y1="294.27" x2="42.6" y2="294.27" stroke="#1a1a1a" stroke-width="1"/>
<line x1="39.6" y1="265.52" x2="42.6" y2="265.52" stroke="#1a1a1a" stroke-width="1"/>
<line x1="39.6" y1="236.78" x2="42.6" y2="236.78" stroke="#1a1a1a" stroke-width="1"/>
<text x="36.60" y="369.25" font-size="8.6" text-anchor="end" fill="#222">0.5</text>
<text x="36.60" y="340.50" font-size="8.6" text-anchor="end" fill="#222">1.0</text>
<text x="36.60" y="311.75" font-size="8.6" text-anchor="end" fill="#222">1.5</text>
<text x="36.60" y="283.00" font-size="8.6" text-anchor="end" fill="#222">2.0</text>
<text x="36.60" y="254.25" font-size="8.6" text-anchor="end" fill="#222">2.5</text>
<text x="36.60" y="225.50" font-size="8.6" text-anchor="end" fill="#222">3.0</text>
<line x1="48.10" y1="388.7" x2="48.10" y2="384.2" stroke="#1a1a1a" stroke-width="1"/>
<line x1="90.20" y1="388.7" x2="90.20" y2="384.2" stroke="#1a1a1a" stroke-width="1"/>
<line x1="132.30" y1="388.7" x2="132.30" y2="384.2" stroke="#1a1a1a" stroke-width="1"/>
<line x1="174.40" y1="388.7" x2="174.40" y2="384.2" stroke="#1a1a1a" stroke-width="1"/>
<line x1="216.50" y1="388.7" x2="216.50" y2="384.2" stroke="#1a1a1a" stroke-width="1"/>
<line x1="58.62" y1="388.7" x2="58.62" y2="386.2" stroke="#1a1a1a" stroke-width="1"/>
<line x1="69.15" y1="388.7" x2="69.15" y2="386.2" stroke="#1a1a1a" stroke-width="1"/>
<line x1="79.68" y1="388.7" x2="79.68" y2="386.2" stroke="#1a1a1a" stroke-width="1"/>
<line x1="100.72" y1="388.7" x2="100.72" y2="386.2" stroke="#1a1a1a" stroke-width="1"/>
<line x1="111.25" y1="388.7" x2="111.25" y2="386.2" stroke="#1a1a1a" stroke-width="1"/>
<line x1="121.78" y1="388.7" x2="121.78" y2="386.2" stroke="#1a1a1a" stroke-width="1"/>
<line x1="142.83" y1="388.7" x2="142.83" y2="386.2" stroke="#1a1a1a" stroke-width="1"/>
<line x1="153.35" y1="388.7" x2="153.35" y2="386.2" stroke="#1a1a1a" stroke-width="1"/>
<line x1="163.88" y1="388.7" x2="163.88" y2="386.2" stroke="#1a1a1a" stroke-width="1"/>
<line x1="184.93" y1="388.7" x2="184.93" y2="386.2" stroke="#1a1a1a" stroke-width="1"/>
<line x1="195.45" y1="388.7" x2="195.45" y2="386.2" stroke="#1a1a1a" stroke-width="1"/>
<line x1="205.97" y1="388.7" x2="205.97" y2="386.2" stroke="#1a1a1a" stroke-width="1"/>
<text x="48.10" y="398.30" font-size="8.6" text-anchor="middle" fill="#222">0.0</text>
<text x="90.20" y="398.30" font-size="8.6" text-anchor="middle" fill="#222">0.1</text>
<text x="132.30" y="398.30" font-size="8.6" text-anchor="middle" fill="#222">0.2</text>
<text x="174.40" y="398.30" font-size="8.6" text-anchor="middle" fill="#222">0.3</text>
<text x="216.50" y="398.30" font-size="8.6" text-anchor="middle" fill="#222">0.4</text>
<text x="135.1" y="233.2" font-size="8.6" font-weight="bold" text-anchor="middle" fill="#111">P = 2.3 GPa</text>
<text x="183.7" y="254.2" font-size="9.3" text-anchor="middle" fill="#8a0af0">45 K</text>
<text x="183.7" y="274.2" font-size="9.3" text-anchor="middle" fill="#3080f0">40 K</text>
<text x="183.7" y="292.7" font-size="9.3" text-anchor="middle" fill="#28c8d8">35 K</text>
<text x="183.7" y="311.5" font-size="9.3" text-anchor="middle" fill="#80eeb8">30 K</text>
<text x="183.7" y="329.8" font-size="9.3" text-anchor="middle" fill="#c8d478">20 K</text>
<text x="183.7" y="349.2" font-size="9.3" text-anchor="middle" fill="#f08448">10 K</text>
<text x="181.5" y="377.8" font-size="9.3" text-anchor="middle" fill="#f01818">3 K</text>
<text x="128.3" y="415" font-size="12" letter-spacing="0.75" text-anchor="middle" fill="#111"><tspan font-style="italic">t</tspan> (μs)</text>
<g transform="translate(12,305.6) rotate(-90)"><text x="0" y="0" font-size="12" letter-spacing="0.5" text-anchor="middle" fill="#111"><tspan font-style="italic">G</tspan><tspan font-size="8.6" dy="2.9">mag</tspan></text></g>
<text x="5.1" y="232.8" font-size="15.6" font-weight="bold" fill="#000">b</text>
<polyline points="269.60,245.20 270.00,245.20 270.40,245.21 270.81,245.23 271.21,245.25 271.61,245.27 272.01,245.30 272.41,245.32 272.82,245.35 273.22,245.37 273.62,245.39 274.02,245.41 274.42,245.42 274.83,245.42 275.23,245.42 275.63,245.41 276.03,245.39 276.43,245.36 276.84,245.32 277.24,245.27 277.64,245.20 278.04,245.12 278.44,245.02 278.85,244.92 279.25,244.80 279.65,244.67 280.05,244.54 280.45,244.39 280.86,244.24 281.26,244.08 281.66,243.92 282.06,243.75 282.46,243.58 282.87,243.40 283.27,243.22 283.67,243.04 284.07,242.87 284.47,242.69 284.88,242.51 285.28,242.33 285.68,242.16 286.08,241.98 286.48,241.80 286.89,241.61 287.29,241.40 287.69,241.20 288.09,240.99 288.49,240.78 288.90,240.56 289.30,240.35 289.70,240.14 290.10,239.93 290.50,239.72 290.91,239.52 291.31,239.32 291.71,239.14 292.11,238.96 292.51,238.79 292.92,238.63 293.32,238.49 293.72,238.36 294.12,238.24 294.52,238.13 294.93,238.02 295.33,237.91 295.73,237.81 296.13,237.72 296.53,237.62 296.94,237.54 297.34,237.45 297.74,237.37 298.14,237.29 298.54,237.21 298.95,237.14 299.35,237.07 299.75,237.00 300.15,236.93 300.55,236.87 300.96,236.81 301.36,236.74 301.76,236.68 302.16,236.62 302.56,236.56 302.97,236.50 303.37,236.44 303.77,236.38 304.17,236.32 304.57,236.26 304.98,236.20 305.38,236.14 305.78,236.08 306.18,236.02 306.58,235.95 306.99,235.88 307.39,235.82 307.79,235.75 308.19,235.68 308.59,235.61 309.00,235.54 309.40,235.47 309.80,235.40 310.20,235.34 310.60,235.27 311.01,235.21 311.41,235.14 311.81,235.08 312.21,235.02 312.61,234.97 313.02,234.91 313.42,234.86 313.82,234.81 314.22,234.77 314.62,234.73 315.03,234.69 315.43,234.66 315.83,234.63 316.23,234.60 316.63,234.59 317.04,234.57 317.44,234.56 317.84,234.56 318.24,234.56 318.64,234.57 319.05,234.59 319.45,234.62 319.85,234.65 320.25,234.68 320.65,234.72 321.06,234.77 321.46,234.82 321.86,234.87 322.26,234.93 322.66,234.99 323.07,235.05 323.47,235.11 323.87,235.18 324.27,235.24 324.67,235.31 325.08,235.38 325.48,235.45 325.88,235.52 326.28,235.58 326.68,235.65 327.09,235.71 327.49,235.78 327.89,235.84 328.29,235.89 328.69,235.95 329.10,235.99 329.50,236.04 329.90,236.08 330.30,236.12 330.70,236.15 331.11,236.18 331.51,236.21 331.91,236.24 332.31,236.26 332.71,236.28 333.12,236.31 333.52,236.33 333.92,236.34 334.32,236.36 334.72,236.38 335.13,236.40 335.53,236.41 335.93,236.43 336.33,236.45 336.73,236.47 337.14,236.48 337.54,236.50 337.94,236.52 338.34,236.55 338.74,236.57 339.15,236.60 339.55,236.62 339.95,236.65 340.35,236.68 340.75,236.72 341.16,236.76 341.56,236.80 341.96,236.84 342.36,236.89 342.76,236.93 343.17,236.98 343.57,237.03 343.97,237.08 344.37,237.13 344.77,237.19 345.18,237.25 345.58,237.31 345.98,237.38 346.38,237.45 346.78,237.53 347.19,237.61 347.59,237.70 347.99,237.79 348.39,237.89 348.79,238.00 349.20,238.11 349.60,238.23 350.00,238.36 350.40,238.50 350.80,238.66 351.21,238.84 351.61,239.02 352.01,239.22 352.41,239.43 352.81,239.64 353.22,239.86 353.62,240.08 354.02,240.31 354.42,240.53 354.82,240.75 355.23,240.96 355.63,241.17 356.03,241.37 356.43,241.56 356.83,241.73 357.24,241.89 357.64,242.04 358.04,242.16 358.44,242.27 358.84,242.39 359.25,242.50 359.65,242.60 360.05,242.71 360.45,242.80 360.85,242.89 361.26,242.97 361.66,243.05 362.06,243.11 362.46,243.16 362.86,243.20 363.27,243.22 363.67,243.23 364.07,243.23 364.47,243.21 364.87,243.16 365.28,243.10 365.68,243.02 366.08,242.92 366.48,242.79 366.88,242.64 367.29,242.46 367.69,242.26 368.09,242.04 368.49,241.79 368.89,241.54 369.30,241.27 369.70,240.98 370.10,240.69 370.50,240.38 370.90,240.07 371.31,239.76 371.71,239.44 372.11,239.13 372.51,238.81 372.91,238.50 373.32,238.19 373.72,237.89 374.12,237.60 374.52,237.31 374.92,237.01 375.33,236.70 375.73,236.38 376.13,236.06 376.53,235.73 376.93,235.40 377.34,235.07 377.74,234.74 378.14,234.41 378.54,234.08 378.94,233.76 379.35,233.45 379.75,233.14 380.15,232.84 380.55,232.55 380.95,232.27 381.36,232.00 381.76,231.75 382.16,231.52 382.56,231.30 382.96,231.08 383.37,230.88 383.77,230.69 384.17,230.52 384.57,230.38 384.97,230.28 385.38,230.20 385.78,230.17 386.18,230.19 386.58,230.26 386.98,230.38 387.39,230.54 387.79,230.73 388.19,230.94 388.59,231.17 388.99,231.42 389.40,231.69 389.80,231.98 390.20,232.28 390.60,232.60 391.00,232.94 391.41,233.29 391.81,233.66 392.21,234.04 392.61,234.43 393.01,234.83 393.42,235.24 393.82,235.65 394.22,236.08 394.62,236.53 395.02,237.01 395.43,237.53 395.83,238.07 396.23,238.63 396.63,239.21 397.03,239.80 397.44,240.41 397.84,241.01 398.24,241.62 398.64,242.22 399.04,242.82 399.45,243.40 399.85,243.96 400.25,244.50 400.65,245.01 401.05,245.50 401.46,245.95 401.86,246.35 402.26,246.72 402.66,247.04 403.06,247.34 403.47,247.60 403.87,247.83 404.27,248.04 404.67,248.23 405.07,248.39 405.48,248.54 405.88,248.67 406.28,248.79 406.68,248.90 407.08,249.00 407.49,249.09 407.89,249.18 408.29,249.26 408.69,249.35 409.09,249.44 409.50,249.54 409.90,249.64 410.30,249.76 410.70,249.88 411.10,250.00 411.51,250.11 411.91,250.22 412.31,250.32 412.71,250.43 413.11,250.53 413.52,250.63 413.92,250.72 414.32,250.82 414.72,250.91 415.12,251.01 415.53,251.10 415.93,251.19 416.33,251.28 416.73,251.37 417.13,251.46 417.54,251.55 417.94,251.65 418.34,251.74 418.74,251.84 419.14,251.93 419.55,252.03 419.95,252.13 420.35,252.24 420.75,252.34 421.15,252.45 421.56,252.56 421.96,252.68 422.36,252.80 422.76,252.93 423.16,253.06 423.57,253.20 423.97,253.35 424.37,253.51 424.77,253.67 425.17,253.83 425.58,254.00 425.98,254.17 426.38,254.34 426.78,254.51 427.18,254.68 427.59,254.84 427.99,255.00 428.39,255.16 428.79,255.31 429.19,255.45 429.60,255.59 430.00,255.72 430.40,255.84 430.80,255.95 431.20,256.06 431.61,256.17 432.01,256.28 432.41,256.38 432.81,256.48 433.21,256.58 433.62,256.67 434.02,256.75 434.42,256.84 434.82,256.92 435.22,256.99 435.63,257.06 436.03,257.12 436.43,257.18 436.83,257.23 437.23,257.27 437.64,257.31 438.04,257.34 438.44,257.36 438.84,257.37 439.24,257.38 439.65,257.37 440.05,257.35 440.45,257.33 440.85,257.30 441.25,257.26 441.66,257.22 442.06,257.17 442.46,257.12 442.86,257.07 443.26,257.01 443.67,256.96 444.07,256.90 444.47,256.84 444.87,256.79 445.27,256.74 445.68,256.69 446.08,256.64 446.48,256.60" fill="none" stroke="#2a8c2a" stroke-width="3.2" stroke-linejoin="round" stroke-linecap="round"/>
<polyline points="269.60,344.00 270.00,344.26 270.40,344.52 270.81,344.79 271.21,345.06 271.61,345.33 272.01,345.60 272.41,345.86 272.82,346.12 273.22,346.37 273.62,346.60 274.02,346.83 274.42,347.04 274.83,347.25 275.23,347.47 275.63,347.70 276.03,347.94 276.43,348.18 276.84,348.42 277.24,348.66 277.64,348.89 278.04,349.11 278.44,349.31 278.85,349.50 279.25,349.67 279.65,349.81 280.05,349.93 280.45,350.02 280.86,350.08 281.26,350.10 281.66,350.08 282.06,350.03 282.46,349.94 282.87,349.83 283.27,349.70 283.67,349.54 284.07,349.36 284.47,349.16 284.88,348.94 285.28,348.71 285.68,348.46 286.08,348.20 286.48,347.92 286.89,347.64 287.29,347.35 287.69,347.05 288.09,346.75 288.49,346.44 288.90,346.13 289.30,345.83 289.70,345.52 290.10,345.21 290.50,344.88 290.91,344.54 291.31,344.19 291.71,343.83 292.11,343.46 292.51,343.08 292.92,342.70 293.32,342.31 293.72,341.91 294.12,341.51 294.52,341.11 294.93,340.70 295.33,340.30 295.73,339.89 296.13,339.49 296.53,339.09 296.94,338.69 297.34,338.30 297.74,337.92 298.14,337.54 298.54,337.18 298.95,336.82 299.35,336.46 299.75,336.11 300.15,335.76 300.55,335.41 300.96,335.06 301.36,334.71 301.76,334.36 302.16,334.00 302.56,333.63 302.97,333.26 303.37,332.88 303.77,332.49 304.17,332.08 304.57,331.67 304.98,331.23 305.38,330.79 305.78,330.32 306.18,329.83 306.58,329.32 306.99,328.78 307.39,328.23 307.79,327.65 308.19,327.07 308.59,326.47 309.00,325.86 309.40,325.25 309.80,324.64 310.20,324.02 310.60,323.41 311.01,322.80 311.41,322.20 311.81,321.61 312.21,321.03 312.61,320.47 313.02,319.93 313.42,319.41 313.82,318.92 314.22,318.44 314.62,317.99 315.03,317.56 315.43,317.16 315.83,316.80 316.23,316.49 316.63,316.23 317.04,316.04 317.44,315.92 317.84,315.88 318.24,315.89 318.64,315.93 319.05,315.98 319.45,316.06 319.85,316.16 320.25,316.27 320.65,316.40 321.06,316.55 321.46,316.71 321.86,316.88 322.26,317.06 322.66,317.25 323.07,317.45 323.47,317.65 323.87,317.86 324.27,318.07 324.67,318.28 325.08,318.50 325.48,318.71 325.88,318.92 326.28,319.14 326.68,319.37 327.09,319.62 327.49,319.89 327.89,320.16 328.29,320.44 328.69,320.73 329.10,321.03 329.50,321.33 329.90,321.63 330.30,321.93 330.70,322.22 331.11,322.51 331.51,322.80 331.91,323.07 332.31,323.33 332.71,323.58 333.12,323.82 333.52,324.04 333.92,324.24 334.32,324.43 334.72,324.60 335.13,324.78 335.53,324.94 335.93,325.09 336.33,325.24 336.73,325.38 337.14,325.52 337.54,325.64 337.94,325.76 338.34,325.87 338.74,325.97 339.15,326.07 339.55,326.16 339.95,326.23 340.35,326.31 340.75,326.37 341.16,326.43 341.56,326.48 341.96,326.52 342.36,326.56 342.76,326.58 343.17,326.61 343.57,326.62 343.97,326.63 344.37,326.64 344.77,326.63 345.18,326.62 345.58,326.60 345.98,326.57 346.38,326.53 346.78,326.48 347.19,326.43 347.59,326.36 347.99,326.29 348.39,326.20 348.79,326.11 349.20,326.00 349.60,325.89 350.00,325.76 350.40,325.62 350.80,325.45 351.21,325.27 351.61,325.07 352.01,324.85 352.41,324.62 352.81,324.38 353.22,324.14 353.62,323.88 354.02,323.62 354.42,323.36 354.82,323.10 355.23,322.83 355.63,322.58 356.03,322.32 356.43,322.08 356.83,321.84 357.24,321.61 357.64,321.40 358.04,321.20 358.44,321.02 358.84,320.85 359.25,320.69 359.65,320.54 360.05,320.40 360.45,320.27 360.85,320.14 361.26,320.02 361.66,319.90 362.06,319.77 362.46,319.65 362.86,319.52 363.27,319.39 363.67,319.25 364.07,319.10 364.47,318.94 364.87,318.77 365.28,318.58 365.68,318.38 366.08,318.16 366.48,317.93 366.88,317.69 367.29,317.45 367.69,317.20 368.09,316.94 368.49,316.68 368.89,316.41 369.30,316.13 369.70,315.84 370.10,315.55 370.50,315.24 370.90,314.93 371.31,314.61 371.71,314.28 372.11,313.94 372.51,313.59 372.91,313.23 373.32,312.86 373.72,312.47 374.12,312.08 374.52,311.67 374.92,311.25 375.33,310.80 375.73,310.35 376.13,309.88 376.53,309.40 376.93,308.90 377.34,308.40 377.74,307.89 378.14,307.38 378.54,306.86 378.94,306.33 379.35,305.81 379.75,305.28 380.15,304.76 380.55,304.24 380.95,303.72 381.36,303.21 381.76,302.70 382.16,302.20 382.56,301.71 382.96,301.22 383.37,300.73 383.77,300.24 384.17,299.75 384.57,299.26 384.97,298.77 385.38,298.28 385.78,297.80 386.18,297.31 386.58,296.82 386.98,296.33 387.39,295.83 387.79,295.34 388.19,294.84 388.59,294.34 388.99,293.84 389.40,293.34 389.80,292.83 390.20,292.32 390.60,291.81 391.00,291.30 391.41,290.79 391.81,290.29 392.21,289.78 392.61,289.28 393.01,288.77 393.42,288.26 393.82,287.75 394.22,287.24 394.62,286.72 395.02,286.19 395.43,285.66 395.83,285.12 396.23,284.57 396.63,284.01 397.03,283.45 397.44,282.87 397.84,282.28 398.24,281.68 398.64,281.06 399.04,280.42 399.45,279.75 399.85,279.07 400.25,278.38 400.65,277.67 401.05,276.96 401.46,276.23 401.86,275.51 402.26,274.78 402.66,274.05 403.06,273.33 403.47,272.61 403.87,271.90 404.27,271.21 404.67,270.53 405.07,269.86 405.48,269.22 405.88,268.60 406.28,268.00 406.68,267.41 407.08,266.83 407.49,266.27 407.89,265.75 408.29,265.28 408.69,264.87 409.09,264.54 409.50,264.31 409.90,264.19 410.30,264.20 410.70,264.29 411.10,264.43 411.51,264.63 411.91,264.92 412.31,265.31 412.71,265.83 413.11,266.49 413.52,267.31 413.92,268.31 414.32,269.52 414.72,270.89 415.12,272.35 415.53,273.91 415.93,275.55 416.33,277.26 416.73,279.03 417.13,280.86 417.54,282.74 417.94,284.66 418.34,286.60 418.74,288.56 419.14,290.54 419.55,292.52 419.95,294.50 420.35,296.46 420.75,298.40 421.15,300.40 421.56,302.54 421.96,304.79 422.36,307.11 422.76,309.46 423.16,311.83 423.57,314.18 423.97,316.47 424.37,318.67 424.77,320.75 425.17,322.69 425.58,324.44 425.98,325.98 426.38,327.28 426.78,328.39 427.18,329.41 427.59,330.35 427.99,331.20 428.39,331.97 428.79,332.67 429.19,333.30 429.60,333.88 430.00,334.39 430.40,334.86 430.80,335.28 431.20,335.66 431.61,336.01 432.01,336.33 432.41,336.62 432.81,336.90 433.21,337.16 433.62,337.41 434.02,337.66 434.42,337.92 434.82,338.17 435.22,338.39 435.63,338.59 436.03,338.77 436.43,338.93 436.83,339.08 437.23,339.20 437.64,339.31 438.04,339.41 438.44,339.49 438.84,339.56 439.24,339.62 439.65,339.67 440.05,339.71 440.45,339.74 440.85,339.77 441.25,339.79 441.66,339.81 442.06,339.83 442.46,339.85 442.86,339.86 443.26,339.88 443.67,339.90 444.07,339.92 444.47,339.95 444.87,339.98 445.27,340.02 445.68,340.07 446.08,340.13 446.48,340.20" fill="none" stroke="#ee1414" stroke-width="3.2" stroke-linejoin="round" stroke-linecap="round"/>
<polyline points="269.60,376.68 270.00,376.50 270.40,376.32 270.81,376.14 271.21,375.96 271.61,375.78 272.01,375.60 272.41,375.42 272.82,375.24 273.22,375.06 273.62,374.88 274.02,374.70 274.42,374.52 274.83,374.33 275.23,374.15 275.63,373.97 276.03,373.79 276.43,373.61 276.84,373.43 277.24,373.25 277.64,373.08 278.04,372.90 278.44,372.72 278.85,372.55 279.25,372.38 279.65,372.20 280.05,372.03 280.45,371.86 280.86,371.69 281.26,371.53 281.66,371.36 282.06,371.20 282.46,371.04 282.87,370.88 283.27,370.73 283.67,370.57 284.07,370.42 284.47,370.28 284.88,370.13 285.28,369.98 285.68,369.84 286.08,369.70 286.48,369.55 286.89,369.41 287.29,369.27 287.69,369.13 288.09,368.98 288.49,368.84 288.90,368.70 289.30,368.55 289.70,368.40 290.10,368.26 290.50,368.11 290.91,367.95 291.31,367.80 291.71,367.64 292.11,367.48 292.51,367.31 292.92,367.15 293.32,366.98 293.72,366.80 294.12,366.62 294.52,366.45 294.93,366.28 295.33,366.11 295.73,365.94 296.13,365.78 296.53,365.61 296.94,365.45 297.34,365.28 297.74,365.11 298.14,364.94 298.54,364.77 298.95,364.59 299.35,364.42 299.75,364.23 300.15,364.05 300.55,363.86 300.96,363.66 301.36,363.46 301.76,363.25 302.16,363.04 302.56,362.82 302.97,362.59 303.37,362.35 303.77,362.10 304.17,361.85 304.57,361.58 304.98,361.31 305.38,361.02 305.78,360.72 306.18,360.40 306.58,360.04 306.99,359.66 307.39,359.24 307.79,358.81 308.19,358.35 308.59,357.88 309.00,357.39 309.40,356.89 309.80,356.38 310.20,355.87 310.60,355.36 311.01,354.85 311.41,354.34 311.81,353.84 312.21,353.36 312.61,352.89 313.02,352.44 313.42,352.01 313.82,351.60 314.22,351.20 314.62,350.80 315.03,350.41 315.43,350.04 315.83,349.71 316.23,349.42 316.63,349.18 317.04,349.02 317.44,348.93 317.84,348.94 318.24,349.02 318.64,349.14 319.05,349.29 319.45,349.48 319.85,349.70 320.25,349.94 320.65,350.21 321.06,350.49 321.46,350.80 321.86,351.11 322.26,351.44 322.66,351.77 323.07,352.11 323.47,352.45 323.87,352.79 324.27,353.12 324.67,353.46 325.08,353.81 325.48,354.18 325.88,354.56 326.28,354.95 326.68,355.35 327.09,355.76 327.49,356.17 327.89,356.59 328.29,357.00 328.69,357.42 329.10,357.83 329.50,358.23 329.90,358.63 330.30,359.01 330.70,359.39 331.11,359.75 331.51,360.09 331.91,360.42 332.31,360.72 332.71,361.01 333.12,361.30 333.52,361.58 333.92,361.86 334.32,362.13 334.72,362.40 335.13,362.66 335.53,362.91 335.93,363.16 336.33,363.41 336.73,363.64 337.14,363.87 337.54,364.10 337.94,364.31 338.34,364.52 338.74,364.72 339.15,364.92 339.55,365.10 339.95,365.28 340.35,365.45 340.75,365.61 341.16,365.76 341.56,365.91 341.96,366.04 342.36,366.16 342.76,366.27 343.17,366.37 343.57,366.45 343.97,366.52 344.37,366.57 344.77,366.62 345.18,366.66 345.58,366.68 345.98,366.70 346.38,366.70 346.78,366.70 347.19,366.69 347.59,366.67 347.99,366.64 348.39,366.61 348.79,366.57 349.20,366.53 349.60,366.47 350.00,366.42 350.40,366.36 350.80,366.29 351.21,366.22 351.61,366.14 352.01,366.05 352.41,365.95 352.81,365.85 353.22,365.74 353.62,365.62 354.02,365.49 354.42,365.36 354.82,365.22 355.23,365.06 355.63,364.91 356.03,364.74 356.43,364.56 356.83,364.37 357.24,364.18 357.64,363.97 358.04,363.76 358.44,363.53 358.84,363.29 359.25,363.03 359.65,362.75 360.05,362.47 360.45,362.17 360.85,361.86 361.26,361.55 361.66,361.22 362.06,360.90 362.46,360.57 362.86,360.23 363.27,359.90 363.67,359.57 364.07,359.24 364.47,358.91 364.87,358.59 365.28,358.28 365.68,357.97 366.08,357.68 366.48,357.40 366.88,357.12 367.29,356.85 367.69,356.58 368.09,356.32 368.49,356.07 368.89,355.81 369.30,355.57 369.70,355.32 370.10,355.07 370.50,354.83 370.90,354.58 371.31,354.34 371.71,354.09 372.11,353.84 372.51,353.59 372.91,353.33 373.32,353.07 373.72,352.81 374.12,352.53 374.52,352.26 374.92,351.97 375.33,351.67 375.73,351.37 376.13,351.06 376.53,350.73 376.93,350.40 377.34,350.05 377.74,349.69 378.14,349.32 378.54,348.94 378.94,348.56 379.35,348.18 379.75,347.79 380.15,347.41 380.55,347.02 380.95,346.62 381.36,346.22 381.76,345.82 382.16,345.41 382.56,344.99 382.96,344.57 383.37,344.13 383.77,343.69 384.17,343.24 384.57,342.78 384.97,342.31 385.38,341.82 385.78,341.33 386.18,340.82 386.58,340.30 386.98,339.76 387.39,339.21 387.79,338.64 388.19,338.06 388.59,337.46 388.99,336.84 389.40,336.21 389.80,335.55 390.20,334.88 390.60,334.16 391.00,333.37 391.41,332.52 391.81,331.62 392.21,330.67 392.61,329.68 393.01,328.65 393.42,327.60 393.82,326.52 394.22,325.43 394.62,324.33 395.02,323.22 395.43,322.13 395.83,321.04 396.23,319.97 396.63,318.93 397.03,317.91 397.44,316.94 397.84,316.00 398.24,315.12 398.64,314.27 399.04,313.43 399.45,312.60 399.85,311.79 400.25,310.98 400.65,310.19 401.05,309.41 401.46,308.64 401.86,307.89 402.26,307.16 402.66,306.43 403.06,305.73 403.47,305.04 403.87,304.36 404.27,303.70 404.67,303.06 405.07,302.44 405.48,301.83 405.88,301.25 406.28,300.68 406.68,300.14 407.08,299.64 407.49,299.20 407.89,298.82 408.29,298.51 408.69,298.28 409.09,298.15 409.50,298.12 409.90,298.20 410.30,298.40 410.70,298.69 411.10,299.03 411.51,299.45 411.91,299.97 412.31,300.59 412.71,301.34 413.11,302.24 413.52,303.30 413.92,304.55 414.32,306.00 414.72,307.66 415.12,309.50 415.53,311.50 415.93,313.63 416.33,315.88 416.73,318.21 417.13,320.60 417.54,323.03 417.94,325.47 418.34,327.89 418.74,330.28 419.14,332.60 419.55,334.93 419.95,337.35 420.35,339.83 420.75,342.36 421.15,344.91 421.56,347.46 421.96,349.98 422.36,352.47 422.76,354.89 423.16,357.23 423.57,359.46 423.97,361.56 424.37,363.50 424.77,365.28 425.17,366.90 425.58,368.40 425.98,369.78 426.38,371.06 426.78,372.24 427.18,373.33 427.59,374.34 427.99,375.27 428.39,376.13 428.79,376.94 429.19,377.69 429.60,378.40 430.00,379.08 430.40,379.72 430.80,380.32 431.20,380.86 431.61,381.35 432.01,381.79 432.41,382.17 432.81,382.51 433.21,382.81 433.62,383.08 434.02,383.31 434.42,383.51 434.82,383.68 435.22,383.83 435.63,383.96 436.03,384.08 436.43,384.18 436.83,384.28 437.23,384.36 437.64,384.43 438.04,384.48 438.44,384.51 438.84,384.52 439.24,384.52 439.65,384.50 440.05,384.48 440.45,384.44 440.85,384.39 441.25,384.34 441.66,384.28 442.06,384.21 442.46,384.14 442.86,384.07 443.26,384.00 443.67,383.92 444.07,383.85 444.47,383.78 444.87,383.72 445.27,383.66 445.68,383.60 446.08,383.56 446.48,383.52" fill="none" stroke="#1010c0" stroke-width="3.2" stroke-linejoin="round" stroke-linecap="round"/>
<polyline points="269.60,245.96 270.00,245.91 270.40,245.86 270.81,245.82 271.21,245.78 271.61,245.74 272.01,245.70 272.41,245.67 272.82,245.63 273.22,245.60 273.62,245.57 274.02,245.53 274.42,245.50 274.83,245.46 275.23,245.43 275.63,245.39 276.03,245.35 276.43,245.31 276.84,245.27 277.24,245.22 277.64,245.17 278.04,245.12 278.44,245.06 278.85,245.00 279.25,244.94 279.65,244.87 280.05,244.79 280.45,244.72 280.86,244.63 281.26,244.54 281.66,244.44 282.06,244.33 282.46,244.22 282.87,244.10 283.27,243.97 283.67,243.84 284.07,243.70 284.47,243.55 284.88,243.40 285.28,243.25 285.68,243.09 286.08,242.93 286.48,242.76 286.89,242.59 287.29,242.43 287.69,242.25 288.09,242.08 288.49,241.91 288.90,241.74 289.30,241.57 289.70,241.40 290.10,241.23 290.50,241.07 290.91,240.90 291.31,240.74 291.71,240.59 292.11,240.44 292.51,240.29 292.92,240.15 293.32,240.01 293.72,239.88 294.12,239.75 294.52,239.63 294.93,239.51 295.33,239.39 295.73,239.27 296.13,239.15 296.53,239.03 296.94,238.92 297.34,238.81 297.74,238.70 298.14,238.59 298.54,238.48 298.95,238.38 299.35,238.27 299.75,238.17 300.15,238.07 300.55,237.97 300.96,237.87 301.36,237.78 301.76,237.68 302.16,237.59 302.56,237.50 302.97,237.41 303.37,237.33 303.77,237.24 304.17,237.16 304.57,237.08 304.98,237.00 305.38,236.92 305.78,236.84 306.18,236.76 306.58,236.69 306.99,236.61 307.39,236.53 307.79,236.46 308.19,236.38 308.59,236.30 309.00,236.23 309.40,236.16 309.80,236.08 310.20,236.01 310.60,235.95 311.01,235.88 311.41,235.82 311.81,235.75 312.21,235.70 312.61,235.64 313.02,235.59 313.42,235.54 313.82,235.50 314.22,235.46 314.62,235.42 315.03,235.39 315.43,235.36 315.83,235.34 316.23,235.33 316.63,235.32 317.04,235.31 317.44,235.31 317.84,235.32 318.24,235.33 318.64,235.35 319.05,235.38 319.45,235.41 319.85,235.44 320.25,235.48 320.65,235.52 321.06,235.56 321.46,235.61 321.86,235.67 322.26,235.72 322.66,235.78 323.07,235.84 323.47,235.91 323.87,235.97 324.27,236.04 324.67,236.11 325.08,236.18 325.48,236.25 325.88,236.32 326.28,236.40 326.68,236.47 327.09,236.55 327.49,236.62 327.89,236.69 328.29,236.77 328.69,236.84 329.10,236.91 329.50,236.98 329.90,237.05 330.30,237.12 330.70,237.18 331.11,237.24 331.51,237.31 331.91,237.36 332.31,237.42 332.71,237.47 333.12,237.52 333.52,237.56 333.92,237.60 334.32,237.64 334.72,237.68 335.13,237.71 335.53,237.75 335.93,237.78 336.33,237.82 336.73,237.85 337.14,237.89 337.54,237.92 337.94,237.95 338.34,237.98 338.74,238.01 339.15,238.04 339.55,238.07 339.95,238.10 340.35,238.12 340.75,238.15 341.16,238.17 341.56,238.20 341.96,238.22 342.36,238.24 342.76,238.26 343.17,238.28 343.57,238.29 343.97,238.31 344.37,238.32 344.77,238.34 345.18,238.35 345.58,238.36 345.98,238.37 346.38,238.37 346.78,238.38 347.19,238.38 347.59,238.38 347.99,238.38 348.39,238.38 348.79,238.38 349.20,238.38 349.60,238.37 350.00,238.36 350.40,238.35 350.80,238.34 351.21,238.32 351.61,238.31 352.01,238.29 352.41,238.28 352.81,238.26 353.22,238.24 353.62,238.21 354.02,238.19 354.42,238.17 354.82,238.14 355.23,238.11 355.63,238.08 356.03,238.05 356.43,238.02 356.83,237.99 357.24,237.95 357.64,237.92 358.04,237.88 358.44,237.84 358.84,237.80 359.25,237.76 359.65,237.71 360.05,237.67 360.45,237.62 360.85,237.58 361.26,237.53 361.66,237.48 362.06,237.43 362.46,237.37 362.86,237.32 363.27,237.26 363.67,237.21 364.07,237.15 364.47,237.09 364.87,237.03 365.28,236.97 365.68,236.90 366.08,236.84 366.48,236.77 366.88,236.70 367.29,236.63 367.69,236.55 368.09,236.47 368.49,236.39 368.89,236.30 369.30,236.22 369.70,236.13 370.10,236.03 370.50,235.94 370.90,235.84 371.31,235.74 371.71,235.64 372.11,235.53 372.51,235.43 372.91,235.32 373.32,235.21 373.72,235.10 374.12,234.98 374.52,234.87 374.92,234.75 375.33,234.64 375.73,234.52 376.13,234.40 376.53,234.28 376.93,234.16 377.34,234.04 377.74,233.92 378.14,233.80 378.54,233.67 378.94,233.51 379.35,233.34 379.75,233.16 380.15,232.97 380.55,232.76 380.95,232.55 381.36,232.34 381.76,232.13 382.16,231.93 382.56,231.73 382.96,231.54 383.37,231.37 383.77,231.21 384.17,231.07 384.57,230.95 384.97,230.86 385.38,230.79 385.78,230.76 386.18,230.76 386.58,230.79 386.98,230.84 387.39,230.90 387.79,230.98 388.19,231.09 388.59,231.21 388.99,231.34 389.40,231.50 389.80,231.67 390.20,231.85 390.60,232.06 391.00,232.27 391.41,232.51 391.81,232.76 392.21,233.02 392.61,233.30 393.01,233.60 393.42,233.90 393.82,234.22 394.22,234.56 394.62,234.92 395.02,235.33 395.43,235.76 395.83,236.23 396.23,236.73 396.63,237.24 397.03,237.78 397.44,238.33 397.84,238.89 398.24,239.45 398.64,240.02 399.04,240.58 399.45,241.13 399.85,241.68 400.25,242.20 400.65,242.71 401.05,243.19 401.46,243.64 401.86,244.06 402.26,244.44 402.66,244.79 403.06,245.13 403.47,245.45 403.87,245.76 404.27,246.05 404.67,246.33 405.07,246.60 405.48,246.85 405.88,247.09 406.28,247.32 406.68,247.53 407.08,247.74 407.49,247.93 407.89,248.11 408.29,248.28 408.69,248.45 409.09,248.60 409.50,248.74 409.90,248.87 410.30,249.00 410.70,249.12 411.10,249.23 411.51,249.33 411.91,249.42 412.31,249.50 412.71,249.58 413.11,249.65 413.52,249.72 413.92,249.78 414.32,249.84 414.72,249.89 415.12,249.93 415.53,249.97 415.93,250.01 416.33,250.05 416.73,250.08 417.13,250.11 417.54,250.14 417.94,250.17 418.34,250.20 418.74,250.23 419.14,250.25 419.55,250.28 419.95,250.31 420.35,250.34 420.75,250.37 421.15,250.40 421.56,250.44 421.96,250.48 422.36,250.52 422.76,250.56 423.16,250.61 423.57,250.65 423.97,250.70 424.37,250.74 424.77,250.78 425.17,250.83 425.58,250.87 425.98,250.91 426.38,250.96 426.78,251.00 427.18,251.04 427.59,251.08 427.99,251.12 428.39,251.16 428.79,251.20 429.19,251.24 429.60,251.28 430.00,251.31 430.40,251.35 430.80,251.39 431.20,251.42 431.61,251.45 432.01,251.49 432.41,251.52 432.81,251.55 433.21,251.58 433.62,251.61 434.02,251.63 434.42,251.66 434.82,251.68 435.22,251.71 435.63,251.73 436.03,251.75 436.43,251.77 436.83,251.78 437.23,251.80 437.64,251.82 438.04,251.83 438.44,251.84 438.84,251.86 439.24,251.87 439.65,251.88 440.05,251.89 440.45,251.90 440.85,251.91 441.25,251.92 441.66,251.92 442.06,251.93 442.46,251.94 442.86,251.95 443.26,251.96 443.67,251.97 444.07,251.98 444.47,251.99 444.87,252.00 445.27,252.01 445.68,252.02 446.08,252.03 446.48,252.04" fill="none" stroke="#1e1e1e" stroke-width="1.0" stroke-linejoin="round" />
<polyline points="269.60,344.00 270.00,343.98 270.40,343.96 270.81,343.94 271.21,343.93 271.61,343.92 272.01,343.91 272.41,343.90 272.82,343.90 273.22,343.89 273.62,343.89 274.02,343.88 274.42,343.88 274.83,343.87 275.23,343.87 275.63,343.86 276.03,343.85 276.43,343.83 276.84,343.82 277.24,343.80 277.64,343.77 278.04,343.75 278.44,343.72 278.85,343.68 279.25,343.64 279.65,343.59 280.05,343.53 280.45,343.47 280.86,343.40 281.26,343.32 281.66,343.24 282.06,343.15 282.46,343.07 282.87,342.98 283.27,342.90 283.67,342.81 284.07,342.73 284.47,342.64 284.88,342.55 285.28,342.46 285.68,342.37 286.08,342.27 286.48,342.16 286.89,342.05 287.29,341.94 287.69,341.81 288.09,341.68 288.49,341.55 288.90,341.40 289.30,341.24 289.70,341.07 290.10,340.89 290.50,340.70 290.91,340.50 291.31,340.29 291.71,340.06 292.11,339.81 292.51,339.55 292.92,339.28 293.32,338.99 293.72,338.68 294.12,338.35 294.52,338.00 294.93,337.64 295.33,337.25 295.73,336.85 296.13,336.43 296.53,335.99 296.94,335.55 297.34,335.08 297.74,334.61 298.14,334.12 298.54,333.63 298.95,333.13 299.35,332.61 299.75,332.10 300.15,331.57 300.55,331.04 300.96,330.51 301.36,329.98 301.76,329.44 302.16,328.91 302.56,328.37 302.97,327.84 303.37,327.31 303.77,326.78 304.17,326.26 304.57,325.74 304.98,325.23 305.38,324.73 305.78,324.24 306.18,323.75 306.58,323.24 306.99,322.73 307.39,322.21 307.79,321.68 308.19,321.15 308.59,320.62 309.00,320.09 309.40,319.56 309.80,319.03 310.20,318.51 310.60,318.00 311.01,317.49 311.41,317.00 311.81,316.52 312.21,316.05 312.61,315.60 313.02,315.16 313.42,314.75 313.82,314.36 314.22,314.00 314.62,313.67 315.03,313.39 315.43,313.16 315.83,312.97 316.23,312.83 316.63,312.74 317.04,312.71 317.44,312.75 317.84,312.84 318.24,312.98 318.64,313.15 319.05,313.34 319.45,313.56 319.85,313.80 320.25,314.05 320.65,314.32 321.06,314.60 321.46,314.90 321.86,315.20 322.26,315.51 322.66,315.82 323.07,316.13 323.47,316.44 323.87,316.75 324.27,317.06 324.67,317.35 325.08,317.63 325.48,317.90 325.88,318.16 326.28,318.41 326.68,318.67 327.09,318.93 327.49,319.19 327.89,319.45 328.29,319.72 328.69,319.98 329.10,320.24 329.50,320.50 329.90,320.75 330.30,321.00 330.70,321.24 331.11,321.47 331.51,321.69 331.91,321.90 332.31,322.09 332.71,322.27 333.12,322.44 333.52,322.59 333.92,322.72 334.32,322.84 334.72,322.95 335.13,323.05 335.53,323.15 335.93,323.24 336.33,323.32 336.73,323.40 337.14,323.47 337.54,323.54 337.94,323.60 338.34,323.66 338.74,323.71 339.15,323.76 339.55,323.80 339.95,323.84 340.35,323.88 340.75,323.91 341.16,323.95 341.56,323.98 341.96,324.00 342.36,324.03 342.76,324.05 343.17,324.08 343.57,324.10 343.97,324.12 344.37,324.15 344.77,324.17 345.18,324.19 345.58,324.22 345.98,324.24 346.38,324.27 346.78,324.29 347.19,324.32 347.59,324.34 347.99,324.36 348.39,324.39 348.79,324.41 349.20,324.43 349.60,324.45 350.00,324.47 350.40,324.48 350.80,324.50 351.21,324.51 351.61,324.52 352.01,324.52 352.41,324.53 352.81,324.53 353.22,324.53 353.62,324.53 354.02,324.52 354.42,324.51 354.82,324.50 355.23,324.48 355.63,324.46 356.03,324.43 356.43,324.40 356.83,324.37 357.24,324.33 357.64,324.29 358.04,324.24 358.44,324.19 358.84,324.14 359.25,324.10 359.65,324.05 360.05,324.01 360.45,323.96 360.85,323.91 361.26,323.87 361.66,323.81 362.06,323.76 362.46,323.70 362.86,323.64 363.27,323.58 363.67,323.51 364.07,323.43 364.47,323.35 364.87,323.26 365.28,323.16 365.68,323.06 366.08,322.95 366.48,322.82 366.88,322.69 367.29,322.55 367.69,322.39 368.09,322.23 368.49,322.05 368.89,321.86 369.30,321.65 369.70,321.43 370.10,321.20 370.50,320.95 370.90,320.70 371.31,320.43 371.71,320.16 372.11,319.87 372.51,319.58 372.91,319.27 373.32,318.96 373.72,318.63 374.12,318.30 374.52,317.96 374.92,317.61 375.33,317.25 375.73,316.88 376.13,316.50 376.53,316.11 376.93,315.71 377.34,315.31 377.74,314.89 378.14,314.47 378.54,314.04 378.94,313.60 379.35,313.16 379.75,312.70 380.15,312.24 380.55,311.76 380.95,311.29 381.36,310.80 381.76,310.30 382.16,309.80 382.56,309.29 382.96,308.76 383.37,308.23 383.77,307.68 384.17,307.13 384.57,306.56 384.97,305.99 385.38,305.41 385.78,304.81 386.18,304.21 386.58,303.60 386.98,302.98 387.39,302.35 387.79,301.72 388.19,301.08 388.59,300.43 388.99,299.78 389.40,299.12 389.80,298.45 390.20,297.78 390.60,297.10 391.00,296.41 391.41,295.73 391.81,295.03 392.21,294.34 392.61,293.64 393.01,292.93 393.42,292.22 393.82,291.51 394.22,290.80 394.62,290.07 395.02,289.29 395.43,288.49 395.83,287.66 396.23,286.80 396.63,285.93 397.03,285.04 397.44,284.13 397.84,283.23 398.24,282.32 398.64,281.41 399.04,280.51 399.45,279.62 399.85,278.75 400.25,277.89 400.65,277.06 401.05,276.26 401.46,275.50 401.86,274.77 402.26,274.08 402.66,273.41 403.06,272.72 403.47,272.02 403.87,271.32 404.27,270.62 404.67,269.93 405.07,269.26 405.48,268.60 405.88,267.97 406.28,267.37 406.68,266.80 407.08,266.27 407.49,265.79 407.89,265.36 408.29,264.99 408.69,264.69 409.09,264.45 409.50,264.28 409.90,264.20 410.30,264.20 410.70,264.30 411.10,264.52 411.51,264.86 411.91,265.31 412.31,265.87 412.71,266.54 413.11,267.32 413.52,268.20 413.92,269.19 414.32,270.27 414.72,271.46 415.12,272.75 415.53,274.13 415.93,275.60 416.33,277.22 416.73,279.01 417.13,280.95 417.54,283.03 417.94,285.21 418.34,287.48 418.74,289.81 419.14,292.18 419.55,294.56 419.95,296.94 420.35,299.29 420.75,301.59 421.15,303.81 421.56,305.94 421.96,307.94 422.36,309.80 422.76,311.58 423.16,313.34 423.57,315.08 423.97,316.79 424.37,318.46 424.77,320.09 425.17,321.68 425.58,323.20 425.98,324.67 426.38,326.07 426.78,327.38 427.18,328.62 427.59,329.77 427.99,330.82 428.39,331.76 428.79,332.60 429.19,333.35 429.60,334.04 430.00,334.67 430.40,335.26 430.80,335.79 431.20,336.28 431.61,336.73 432.01,337.14 432.41,337.51 432.81,337.85 433.21,338.16 433.62,338.44 434.02,338.70 434.42,338.94 434.82,339.17 435.22,339.38 435.63,339.58 436.03,339.77 436.43,339.96 436.83,340.15 437.23,340.34 437.64,340.54 438.04,340.74 438.44,340.96 438.84,341.17 439.24,341.35 439.65,341.51 440.05,341.64 440.45,341.76 440.85,341.85 441.25,341.93 441.66,342.00 442.06,342.05 442.46,342.09 442.86,342.13 443.26,342.16 443.67,342.18 444.07,342.21 444.47,342.24 444.87,342.27 445.27,342.31 445.68,342.35 446.08,342.41 446.48,342.48" fill="none" stroke="#1e1e1e" stroke-width="1.0" stroke-linejoin="round" />
<polyline points="269.60,373.64 270.00,373.62 270.40,373.59 270.81,373.57 271.21,373.56 271.61,373.54 272.01,373.52 272.41,373.51 272.82,373.50 273.22,373.48 273.62,373.47 274.02,373.46 274.42,373.45 274.83,373.43 275.23,373.42 275.63,373.40 276.03,373.39 276.43,373.37 276.84,373.35 277.24,373.33 277.64,373.30 278.04,373.28 278.44,373.25 278.85,373.21 279.25,373.18 279.65,373.14 280.05,373.10 280.45,373.05 280.86,373.00 281.26,372.94 281.66,372.88 282.06,372.82 282.46,372.76 282.87,372.70 283.27,372.64 283.67,372.58 284.07,372.53 284.47,372.47 284.88,372.41 285.28,372.35 285.68,372.29 286.08,372.22 286.48,372.16 286.89,372.09 287.29,372.01 287.69,371.93 288.09,371.85 288.49,371.75 288.90,371.66 289.30,371.55 289.70,371.44 290.10,371.33 290.50,371.20 290.91,371.07 291.31,370.92 291.71,370.77 292.11,370.61 292.51,370.43 292.92,370.25 293.32,370.05 293.72,369.84 294.12,369.62 294.52,369.39 294.93,369.15 295.33,368.90 295.73,368.65 296.13,368.38 296.53,368.11 296.94,367.82 297.34,367.53 297.74,367.23 298.14,366.93 298.54,366.61 298.95,366.29 299.35,365.97 299.75,365.63 300.15,365.29 300.55,364.94 300.96,364.59 301.36,364.23 301.76,363.87 302.16,363.50 302.56,363.12 302.97,362.74 303.37,362.36 303.77,361.97 304.17,361.57 304.57,361.18 304.98,360.77 305.38,360.37 305.78,359.96 306.18,359.53 306.58,359.07 306.99,358.59 307.39,358.08 307.79,357.55 308.19,357.00 308.59,356.43 309.00,355.86 309.40,355.28 309.80,354.69 310.20,354.10 310.60,353.52 311.01,352.94 311.41,352.37 311.81,351.81 312.21,351.27 312.61,350.74 313.02,350.24 313.42,349.77 313.82,349.32 314.22,348.90 314.62,348.51 315.03,348.15 315.43,347.82 315.83,347.55 316.23,347.32 316.63,347.15 317.04,347.04 317.44,347.00 317.84,347.04 318.24,347.13 318.64,347.26 319.05,347.41 319.45,347.59 319.85,347.80 320.25,348.02 320.65,348.26 321.06,348.51 321.46,348.78 321.86,349.05 322.26,349.33 322.66,349.62 323.07,349.90 323.47,350.17 323.87,350.45 324.27,350.71 324.67,350.96 325.08,351.19 325.48,351.41 325.88,351.60 326.28,351.78 326.68,351.96 327.09,352.14 327.49,352.32 327.89,352.50 328.29,352.68 328.69,352.85 329.10,353.03 329.50,353.20 329.90,353.37 330.30,353.54 330.70,353.70 331.11,353.86 331.51,354.03 331.91,354.18 332.31,354.34 332.71,354.49 333.12,354.64 333.52,354.79 333.92,354.93 334.32,355.07 334.72,355.21 335.13,355.34 335.53,355.47 335.93,355.60 336.33,355.72 336.73,355.84 337.14,355.95 337.54,356.06 337.94,356.16 338.34,356.26 338.74,356.35 339.15,356.45 339.55,356.53 339.95,356.62 340.35,356.70 340.75,356.77 341.16,356.84 341.56,356.91 341.96,356.98 342.36,357.04 342.76,357.10 343.17,357.15 343.57,357.20 343.97,357.25 344.37,357.30 344.77,357.34 345.18,357.38 345.58,357.42 345.98,357.45 346.38,357.49 346.78,357.52 347.19,357.55 347.59,357.57 347.99,357.59 348.39,357.61 348.79,357.63 349.20,357.65 349.60,357.67 350.00,357.68 350.40,357.69 350.80,357.70 351.21,357.72 351.61,357.73 352.01,357.74 352.41,357.75 352.81,357.75 353.22,357.76 353.62,357.76 354.02,357.76 354.42,357.76 354.82,357.76 355.23,357.75 355.63,357.74 356.03,357.73 356.43,357.71 356.83,357.69 357.24,357.66 357.64,357.63 358.04,357.60 358.44,357.55 358.84,357.51 359.25,357.46 359.65,357.40 360.05,357.34 360.45,357.27 360.85,357.19 361.26,357.11 361.66,357.02 362.06,356.92 362.46,356.82 362.86,356.71 363.27,356.60 363.67,356.49 364.07,356.37 364.47,356.25 364.87,356.12 365.28,355.99 365.68,355.85 366.08,355.71 366.48,355.56 366.88,355.41 367.29,355.26 367.69,355.09 368.09,354.92 368.49,354.75 368.89,354.57 369.30,354.38 369.70,354.19 370.10,353.99 370.50,353.79 370.90,353.57 371.31,353.35 371.71,353.13 372.11,352.89 372.51,352.65 372.91,352.40 373.32,352.14 373.72,351.87 374.12,351.60 374.52,351.32 374.92,351.04 375.33,350.77 375.73,350.49 376.13,350.21 376.53,349.93 376.93,349.64 377.34,349.35 377.74,349.06 378.14,348.76 378.54,348.45 378.94,348.13 379.35,347.81 379.75,347.48 380.15,347.13 380.55,346.78 380.95,346.42 381.36,346.04 381.76,345.64 382.16,345.24 382.56,344.82 382.96,344.38 383.37,343.92 383.77,343.45 384.17,342.96 384.57,342.45 384.97,341.92 385.38,341.37 385.78,340.80 386.18,340.20 386.58,339.58 386.98,338.92 387.39,338.24 387.79,337.53 388.19,336.79 388.59,336.03 388.99,335.25 389.40,334.45 389.80,333.62 390.20,332.79 390.60,331.93 391.00,331.07 391.41,330.19 391.81,329.30 392.21,328.40 392.61,327.50 393.01,326.59 393.42,325.68 393.82,324.76 394.22,323.85 394.62,322.94 395.02,322.03 395.43,321.13 395.83,320.24 396.23,319.35 396.63,318.48 397.03,317.62 397.44,316.77 397.84,315.93 398.24,315.12 398.64,314.31 399.04,313.49 399.45,312.66 399.85,311.83 400.25,311.00 400.65,310.17 401.05,309.34 401.46,308.52 401.86,307.70 402.26,306.90 402.66,306.11 403.06,305.33 403.47,304.57 403.87,303.83 404.27,303.11 404.67,302.41 405.07,301.74 405.48,301.10 405.88,300.49 406.28,299.92 406.68,299.38 407.08,298.89 407.49,298.45 407.89,298.10 408.29,297.83 408.69,297.67 409.09,297.63 409.50,297.73 409.90,297.98 410.30,298.40 410.70,298.94 411.10,299.54 411.51,300.21 411.91,300.95 412.31,301.75 412.71,302.62 413.11,303.56 413.52,304.56 413.92,305.64 414.32,306.78 414.72,308.00 415.12,309.29 415.53,310.65 415.93,312.08 416.33,313.62 416.73,315.29 417.13,317.07 417.54,318.94 417.94,320.89 418.34,322.90 418.74,324.96 419.14,327.04 419.55,329.12 419.95,331.20 420.35,333.25 420.75,335.25 421.15,337.19 421.56,339.06 421.96,340.83 422.36,342.48 422.76,344.06 423.16,345.63 423.57,347.18 423.97,348.70 424.37,350.18 424.77,351.63 425.17,353.04 425.58,354.40 425.98,355.71 426.38,356.96 426.78,358.15 427.18,359.28 427.59,360.33 427.99,361.30 428.39,362.19 428.79,363.00 429.19,363.73 429.60,364.39 430.00,364.99 430.40,365.54 430.80,366.03 431.20,366.47 431.61,366.87 432.01,367.23 432.41,367.55 432.81,367.84 433.21,368.11 433.62,368.34 434.02,368.56 434.42,368.76 434.82,368.95 435.22,369.13 435.63,369.30 436.03,369.48 436.43,369.66 436.83,369.84 437.23,370.02 437.64,370.18 438.04,370.32 438.44,370.45 438.84,370.55 439.24,370.65 439.65,370.73 440.05,370.80 440.45,370.86 440.85,370.90 441.25,370.95 441.66,370.98 442.06,371.01 442.46,371.03 442.86,371.06 443.26,371.08 443.67,371.10 444.07,371.12 444.47,371.15 444.87,371.18 445.27,371.21 445.68,371.25 446.08,371.30 446.48,371.36" fill="none" stroke="#1e1e1e" stroke-width="1.0" stroke-linejoin="round" />
<rect x="269.6" y="222.4" width="176.50" height="166.20" fill="none" stroke="#1a1a1a" stroke-width="1.1"/>
<line x1="269.6" y1="374.40" x2="274.6" y2="374.40" stroke="#1a1a1a" stroke-width="1"/>
<line x1="269.6" y1="336.40" x2="274.6" y2="336.40" stroke="#1a1a1a" stroke-width="1"/>
<line x1="269.6" y1="298.40" x2="274.6" y2="298.40" stroke="#1a1a1a" stroke-width="1"/>
<line x1="269.6" y1="260.40" x2="274.6" y2="260.40" stroke="#1a1a1a" stroke-width="1"/>
<line x1="269.6" y1="222.40" x2="274.6" y2="222.40" stroke="#1a1a1a" stroke-width="1"/>
<line x1="269.6" y1="355.40" x2="272.6" y2="355.40" stroke="#1a1a1a" stroke-width="1"/>
<line x1="269.6" y1="317.40" x2="272.6" y2="317.40" stroke="#1a1a1a" stroke-width="1"/>
<line x1="269.6" y1="279.40" x2="272.6" y2="279.40" stroke="#1a1a1a" stroke-width="1"/>
<line x1="269.6" y1="241.40" x2="272.6" y2="241.40" stroke="#1a1a1a" stroke-width="1"/>
<text x="266.60" y="377.50" font-size="8.6" text-anchor="end" fill="#222">0.0</text>
<text x="266.60" y="339.50" font-size="8.6" text-anchor="end" fill="#222">0.5</text>
<text x="266.60" y="301.50" font-size="8.6" text-anchor="end" fill="#222">1.0</text>
<text x="266.60" y="263.50" font-size="8.6" text-anchor="end" fill="#222">1.5</text>
<text x="266.60" y="225.50" font-size="8.6" text-anchor="end" fill="#222">2.0</text>
<line x1="269.60" y1="388.6" x2="269.60" y2="384.1" stroke="#1a1a1a" stroke-width="1"/>
<line x1="309.80" y1="388.6" x2="309.80" y2="384.1" stroke="#1a1a1a" stroke-width="1"/>
<line x1="350.00" y1="388.6" x2="350.00" y2="384.1" stroke="#1a1a1a" stroke-width="1"/>
<line x1="390.20" y1="388.6" x2="390.20" y2="384.1" stroke="#1a1a1a" stroke-width="1"/>
<line x1="430.40" y1="388.6" x2="430.40" y2="384.1" stroke="#1a1a1a" stroke-width="1"/>
<line x1="289.70" y1="388.6" x2="289.70" y2="386.1" stroke="#1a1a1a" stroke-width="1"/>
<line x1="329.90" y1="388.6" x2="329.90" y2="386.1" stroke="#1a1a1a" stroke-width="1"/>
<line x1="370.10" y1="388.6" x2="370.10" y2="386.1" stroke="#1a1a1a" stroke-width="1"/>
<line x1="410.30" y1="388.6" x2="410.30" y2="386.1" stroke="#1a1a1a" stroke-width="1"/>
<text x="269.60" y="398.20" font-size="9.0" text-anchor="middle" fill="#222">500</text>
<text x="309.80" y="398.20" font-size="9.0" text-anchor="middle" fill="#222">1000</text>
<text x="350.00" y="398.20" font-size="9.0" text-anchor="middle" fill="#222">1500</text>
<text x="390.20" y="398.20" font-size="9.0" text-anchor="middle" fill="#222">2000</text>
<text x="430.40" y="398.20" font-size="9.0" text-anchor="middle" fill="#222">2500</text>
<text x="340.4" y="260.7" font-size="9.3" text-anchor="middle" fill="#2a8c2a">3 K and 2.3 GPa</text>
<text x="343" y="342.4" font-size="9.3" text-anchor="middle" fill="#ee1414">20 K and 0.6 GPa</text>
<text x="340.4" y="381.9" font-size="9.3" text-anchor="middle" fill="#1010c0">6.5 K and 0 GPa</text>
<text x="358" y="415" font-size="12" letter-spacing="0.85" text-anchor="middle" fill="#111"><tspan font-style="italic">B</tspan> (G)</text>
<g transform="translate(246.6,306.3) rotate(-90)"><text x="0" y="0" font-size="12" letter-spacing="0.1" text-anchor="middle" fill="#111">Real Fourier (a. u)</text></g>
<text x="227.6" y="232.8" font-size="15.6" font-weight="bold" fill="#000">d</text>
<defs><linearGradient id="gr" x1="503" y1="0" x2="606" y2="0" gradientUnits="userSpaceOnUse"><stop offset="0" stop-color="#ff0000"/><stop offset="0.15" stop-color="#ff3636"/><stop offset="0.35" stop-color="#ff8888"/><stop offset="0.55" stop-color="#ffb8b8"/><stop offset="0.8" stop-color="#ffdede"/><stop offset="1" stop-color="#ffffff"/></linearGradient><linearGradient id="gb" x1="632" y1="0" x2="675" y2="0" gradientUnits="userSpaceOnUse"><stop offset="0" stop-color="#ffffff"/><stop offset="0.45" stop-color="#a4a4fc"/><stop offset="0.8" stop-color="#6a6aff"/><stop offset="1" stop-color="#2e2eff"/></linearGradient></defs>
<clipPath id="cf"><rect x="503" y="222.6" width="172" height="165.4"/></clipPath><g clip-path="url(#cf)">
<path d="M503,388 L503,340 C530,347 560,358 588,369 C598,373 603,380 606,388 Z" fill="url(#gr)"/>
<path d="M632.4,388 C636,350 645,300 660,260 C666,245 670,232 675,222.6 L675,388 Z" fill="url(#gb)"/>
<circle cx="503.6" cy="336.8" r="3.8" fill="#fdf0c8" stroke="#151515" stroke-width="0.9"/>
<circle cx="509.7" cy="339.1" r="3.8" fill="#fdf0c8" stroke="#151515" stroke-width="0.9"/>
<circle cx="518.9" cy="342.6" r="3.8" fill="#fdf0c8" stroke="#151515" stroke-width="0.9"/>
<circle cx="524.1" cy="344.9" r="3.8" fill="#fdf0c8" stroke="#151515" stroke-width="0.9"/>
<circle cx="530.4" cy="348.7" r="3.8" fill="#fdf0c8" stroke="#151515" stroke-width="0.9"/>
<circle cx="539.4" cy="352.5" r="3.8" fill="#fdf0c8" stroke="#151515" stroke-width="0.9"/>
<circle cx="544.4" cy="352.9" r="3.8" fill="#fdf0c8" stroke="#151515" stroke-width="0.9"/>
<circle cx="549.9" cy="357.9" r="3.8" fill="#fdf0c8" stroke="#151515" stroke-width="0.9"/>
<circle cx="555.3" cy="356.4" r="3.8" fill="#fdf0c8" stroke="#151515" stroke-width="0.9"/>
<circle cx="564.9" cy="360.8" r="3.8" fill="#fdf0c8" stroke="#151515" stroke-width="0.9"/>
<circle cx="571.6" cy="363.6" r="3.8" fill="#fdf0c8" stroke="#151515" stroke-width="0.9"/>
<circle cx="579.8" cy="365.2" r="3.8" fill="#fdf0c8" stroke="#151515" stroke-width="0.9"/>
<circle cx="588.2" cy="367.1" r="3.8" fill="#fdf0c8" stroke="#151515" stroke-width="0.9"/>
<circle cx="594.1" cy="367.1" r="3.8" fill="#fdf0c8" stroke="#151515" stroke-width="0.9"/>
<polygon points="664.30,233.40 666.12,238.09 671.15,238.38 667.25,241.56 668.53,246.42 664.30,243.70 660.07,246.42 661.35,241.56 657.45,238.38 662.48,238.09" fill="#eef6e6" stroke="#222" stroke-width="0.9" stroke-linejoin="miter"/>
<polygon points="637.30,339.70 639.12,344.39 644.15,344.68 640.25,347.86 641.53,352.72 637.30,350.00 633.07,352.72 634.35,347.86 630.45,344.68 635.48,344.39" fill="#eef6e6" stroke="#222" stroke-width="0.9" stroke-linejoin="miter"/>
</g>
<rect x="503" y="222.6" width="172.00" height="165.40" fill="none" stroke="#1a1a1a" stroke-width="1.1"/>
<line x1="503" y1="388.00" x2="508" y2="388.00" stroke="#1a1a1a" stroke-width="1"/>
<line x1="503" y1="337.90" x2="508" y2="337.90" stroke="#1a1a1a" stroke-width="1"/>
<line x1="503" y1="287.80" x2="508" y2="287.80" stroke="#1a1a1a" stroke-width="1"/>
<line x1="503" y1="237.70" x2="508" y2="237.70" stroke="#1a1a1a" stroke-width="1"/>
<line x1="503" y1="362.95" x2="506" y2="362.95" stroke="#1a1a1a" stroke-width="1"/>
<line x1="503" y1="312.85" x2="506" y2="312.85" stroke="#1a1a1a" stroke-width="1"/>
<line x1="503" y1="262.75" x2="506" y2="262.75" stroke="#1a1a1a" stroke-width="1"/>
<text x="501.30" y="391.10" font-size="9.5" text-anchor="end" fill="#222">0</text>
<text x="501.30" y="341.00" font-size="9.5" text-anchor="end" fill="#222">100</text>
<text x="501.30" y="290.90" font-size="9.5" text-anchor="end" fill="#222">200</text>
<text x="501.30" y="240.80" font-size="9.5" text-anchor="end" fill="#222">300</text>
<line x1="503.00" y1="388" x2="503.00" y2="383.5" stroke="#1a1a1a" stroke-width="1"/>
<line x1="552.00" y1="388" x2="552.00" y2="383.5" stroke="#1a1a1a" stroke-width="1"/>
<line x1="601.00" y1="388" x2="601.00" y2="383.5" stroke="#1a1a1a" stroke-width="1"/>
<line x1="650.00" y1="388" x2="650.00" y2="383.5" stroke="#1a1a1a" stroke-width="1"/>
<line x1="527.50" y1="388" x2="527.50" y2="385.5" stroke="#1a1a1a" stroke-width="1"/>
<line x1="576.50" y1="388" x2="576.50" y2="385.5" stroke="#1a1a1a" stroke-width="1"/>
<line x1="625.50" y1="388" x2="625.50" y2="385.5" stroke="#1a1a1a" stroke-width="1"/>
<text x="503.00" y="398.00" font-size="9.5" text-anchor="middle" fill="#222">0</text>
<text x="552.00" y="398.00" font-size="9.5" text-anchor="middle" fill="#222">2</text>
<text x="601.00" y="398.00" font-size="9.5" text-anchor="middle" fill="#222">4</text>
<text x="650.00" y="398.00" font-size="9.5" text-anchor="middle" fill="#222">6</text>
<text x="528" y="238.4" font-size="10.6" font-weight="bold" letter-spacing="0.2" fill="#111">Ag<tspan font-size="8.8" dy="2.4">3</tspan><tspan dy="-2.4">LiRh</tspan><tspan font-size="8.8" dy="2.4">2</tspan><tspan dy="-2.4">O</tspan><tspan font-size="8.8" dy="2.4">6</tspan></text>
<text x="550.3" y="341" font-size="11.2" font-style="italic" fill="#111">T<tspan font-style="normal" font-size="8" dy="2.8">N</tspan></text>
<text x="632.2" y="304.4" font-size="11.2" font-style="italic" fill="#111">T<tspan font-style="normal" font-size="8" dy="2.8">S</tspan></text>
<text x="589.3" y="415.1" font-size="12" letter-spacing="0.5" text-anchor="middle" fill="#111"><tspan font-style="italic">P</tspan> (GPa)</text>
<g transform="translate(477.2,305.4) rotate(-90)"><text x="0" y="0" font-size="12" letter-spacing="0.5" text-anchor="middle" fill="#111"><tspan font-style="italic">T</tspan> (K)</text></g>
<text x="462.4" y="232.8" font-size="15.6" font-weight="bold" fill="#000">f</text>
</svg>
</body></html>
